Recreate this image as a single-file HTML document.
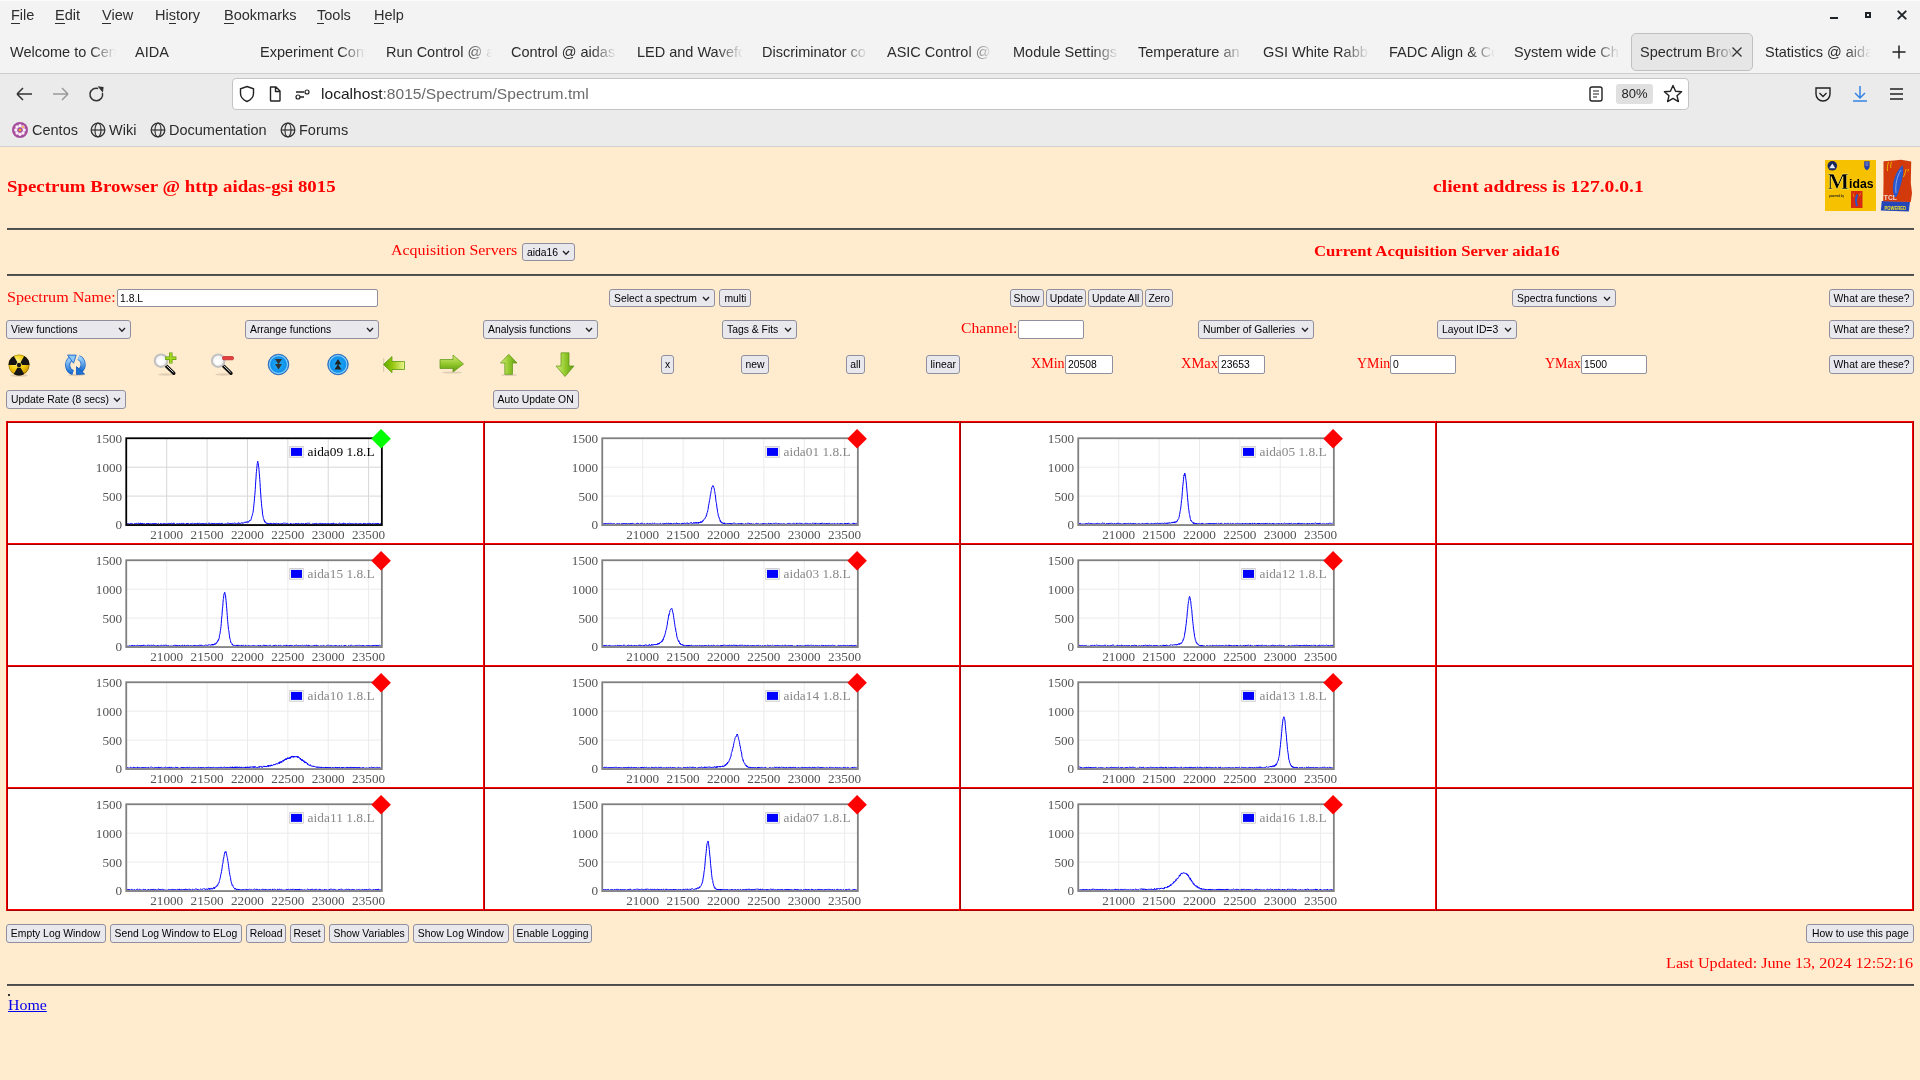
<!DOCTYPE html><html><head><meta charset="utf-8"><style>
*{margin:0;padding:0;box-sizing:border-box}
html,body{width:1920px;height:1080px;overflow:hidden;background:#ffebcd;font-family:"Liberation Sans", sans-serif}
.a{position:absolute;white-space:nowrap}
.chrome{position:absolute;left:0;top:0;width:1920px;height:147px;background:#ebebeb}
.menu{position:absolute;top:0;left:0;width:1920px;height:74px;background:#f3f3f3;border-bottom:1px solid #cdcdcd}
.mi{position:absolute;top:5px;font-size:14.5px;color:#2e2e2e;line-height:20px}
.mi u{text-decoration:none;border-bottom:1px solid #2e2e2e}
.tab{position:absolute;top:42px;font-size:14.5px;color:#2b2b2b;line-height:20px;overflow:hidden}
.fade{-webkit-mask-image:linear-gradient(to right,#000 0,#000 calc(100% - 26px),transparent 100%)}
.btn{position:absolute;background:#e9e9ed;border:1px solid #8f8f9d;border-radius:3px;font-size:10.6px;color:#000;text-align:center;line-height:15px;white-space:nowrap}
.sel{position:absolute;background:#e9e9ed;border:1px solid #8f8f9d;border-radius:3px;font-size:10.6px;color:#000;line-height:16px;padding-left:4px;white-space:nowrap}
.sel svg{position:absolute;right:5px;top:5px}
.inp{position:absolute;background:#fff;border:1px solid #8f8f9d;border-radius:2px;font-size:10.6px;color:#000;line-height:15px;padding-left:2px;white-space:nowrap}
.red{position:absolute;color:#f00;font-family:"Liberation Serif", serif;white-space:nowrap}
.hr{position:absolute;left:7px;width:1907px;height:2px;background:#555;border-top:1px solid #4a4a4a}
.lbl{position:absolute;font-family:"Liberation Serif", serif;font-size:11.5px;color:#545454;line-height:12px;white-space:nowrap}
</style></head><body><div style="position:absolute;left:0;top:0;width:1920px;height:1080px;will-change:transform">
<div class="chrome"></div><div class="menu"></div><div class="a" style="left:0;top:0;width:1920px;height:1px;background:#fbfbfb"></div>
<div class="mi a" style="left:11px"><u>F</u>ile</div>
<div class="mi a" style="left:55px"><u>E</u>dit</div>
<div class="mi a" style="left:102px"><u>V</u>iew</div>
<div class="mi a" style="left:155px">Hi<u>s</u>tory</div>
<div class="mi a" style="left:224px"><u>B</u>ookmarks</div>
<div class="mi a" style="left:317px"><u>T</u>ools</div>
<div class="mi a" style="left:374px"><u>H</u>elp</div>
<svg class="a" style="left:1826px;top:8px" width="90" height="16"><rect x="4" y="9" width="8" height="2" fill="#1e2326"/><rect x="40" y="5" width="4" height="4" fill="none" stroke="#1e2326" stroke-width="2"/><path d="M72.3 3.3 L79.7 10.7 M79.7 3.3 L72.3 10.7" stroke="#1e2326" stroke-width="1.9" stroke-linecap="round"/></svg>
<div class="tab a fade" style="left:10px;width:106px">Welcome to Cen</div>
<div class="tab a fade" style="left:135px;width:60px">AIDA</div>
<div class="tab a fade" style="left:260px;width:106px">Experiment Cont</div>
<div class="tab a fade" style="left:386px;width:106px">Run Control @ a</div>
<div class="tab a fade" style="left:511px;width:106px">Control @ aidas</div>
<div class="tab a fade" style="left:637px;width:106px">LED and Wavefo</div>
<div class="tab a fade" style="left:762px;width:106px">Discriminator co</div>
<div class="tab a fade" style="left:887px;width:106px">ASIC Control @</div>
<div class="tab a fade" style="left:1013px;width:106px">Module Settings</div>
<div class="tab a fade" style="left:1138px;width:106px">Temperature an</div>
<div class="tab a fade" style="left:1263px;width:106px">GSI White Rabbi</div>
<div class="tab a fade" style="left:1389px;width:106px">FADC Align & Co</div>
<div class="tab a fade" style="left:1514px;width:106px">System wide Ch</div>
<div class="tab a fade" style="left:1765px;width:106px">Statistics @ aida</div>
<div class="a" style="left:1631px;top:33px;width:122px;height:38px;background:#e6e6e6;border:1px solid #c0c0c0;border-radius:5px"></div>
<div class="tab a fade" style="left:1640px;width:95px">Spectrum Brow</div>
<svg class="a" style="left:1731px;top:46px" width="12" height="12"><path d="M1.5 1.5 L10.5 10.5 M10.5 1.5 L1.5 10.5" stroke="#333" stroke-width="1.3"/></svg>
<svg class="a" style="left:1891px;top:44px" width="16" height="16"><path d="M8 1.5 V14.5 M1.5 8 H14.5" stroke="#222" stroke-width="1.5"/></svg>
<svg class="a" style="left:14px;top:84px" width="100" height="20"><path d="M3 10 H18 M3 10 L9 4 M3 10 L9 16" stroke="#333" stroke-width="1.5" fill="none"/><path d="M39 10 H54 M54 10 L48 4 M54 10 L48 16" stroke="#9a9a9a" stroke-width="1.5" fill="none"/><path d="M88.4 9 A6.3 6.3 0 1 1 84.2 4.5" stroke="#333" stroke-width="1.5" fill="none"/><path d="M83.6 2.2 L89.6 3 L88.9 8.8 Z" fill="#333"/></svg>
<div class="a" style="left:232px;top:78px;width:1457px;height:32px;background:#fff;border:1px solid #c4c4c4;border-radius:4px"></div>
<svg class="a" style="left:238px;top:84px" width="80" height="20"><path d="M9 2.5 L15.5 4.8 V9.5 C15.5 13.5 12.5 16 9 17.5 C5.5 16 2.5 13.5 2.5 9.5 V4.8 Z" stroke="#222" stroke-width="1.4" fill="none"/><path d="M32.5 3 H38 L42 7 V16.2 Q42 17 41.2 17 H33.3 Q32.5 17 32.5 16.2 Z M37.5 3 V7.5 H42" stroke="#222" stroke-width="1.4" fill="none" stroke-linejoin="round"/><path d="M58 8 H66 M58 13 H66" stroke="#222" stroke-width="1.3"/><circle cx="69" cy="8" r="2" stroke="#222" stroke-width="1.2" fill="none"/><circle cx="60" cy="13" r="2" stroke="#222" stroke-width="1.2" fill="#fff"/></svg>
<div class="a" style="left:321px;top:84px;font-size:15px;line-height:20px;color:#1a1a1a;transform:scaleX(1.039);transform-origin:0 0">localhost<span style="color:#6a6a6a">:8015/Spectrum/Spectrum.tml</span></div>
<svg class="a" style="left:1586px;top:84px" width="20" height="20"><rect x="4" y="3" width="12" height="14" rx="2" stroke="#222" stroke-width="1.4" fill="none"/><path d="M7 7 H13 M7 10 H13 M7 13 H11" stroke="#222" stroke-width="1.2"/></svg>
<div class="a" style="left:1616px;top:84px;width:37px;height:20px;background:#e0e0e0;border-radius:3px;font-size:13px;line-height:20px;text-align:center;color:#222">80%</div>
<svg class="a" style="left:1662px;top:83px" width="22" height="22"><path d="M11 2.5 L13.6 8.2 L19.6 8.7 L15 12.7 L16.4 18.6 L11 15.4 L5.6 18.6 L7 12.7 L2.4 8.7 L8.4 8.2 Z" stroke="#222" stroke-width="1.4" fill="none" stroke-linejoin="round"/></svg>
<svg class="a" style="left:1812px;top:84px" width="100" height="20"><path d="M4 4 H18 V10 C18 14 15 17 11 17 C7 17 4 14 4 10 Z" stroke="#222" stroke-width="1.4" fill="none"/><path d="M7.5 9 L11 12.5 L14.5 9" stroke="#222" stroke-width="1.4" fill="none"/><path d="M48 2 V14 M43 9 L48 14 L53 9 M41 17 H55" stroke="#3584e4" stroke-width="1.5" fill="none"/><path d="M78 5 H91 M78 10 H91 M78 15 H91" stroke="#222" stroke-width="1.5"/></svg>
<svg class="a" style="left:11.8px;top:121.8px" width="16" height="16"><circle cx="8" cy="8" r="8" fill="#a54c9d"/><circle cx="12.20" cy="8.00" r="1.7" fill="#fbeefa"/><circle cx="10.97" cy="10.97" r="1.7" fill="#fbeefa"/><circle cx="8.00" cy="12.20" r="1.7" fill="#fbeefa"/><circle cx="5.03" cy="10.97" r="1.7" fill="#fbeefa"/><circle cx="3.80" cy="8.00" r="1.7" fill="#fbeefa"/><circle cx="5.03" cy="5.03" r="1.7" fill="#fbeefa"/><circle cx="8.00" cy="3.80" r="1.7" fill="#fbeefa"/><circle cx="10.97" cy="5.03" r="1.7" fill="#fbeefa"/><circle cx="8" cy="8" r="2.3" fill="#a54c9d"/><circle cx="8" cy="8" r="1.3" fill="#f5a623"/><circle cx="11" cy="5" r="1" fill="#f5a623"/></svg>
<div class="a" style="left:32px;top:120px;font-size:14.5px;line-height:20px;color:#2b2b2b">Centos</div>
<svg class="a" style="left:90px;top:122px" width="16" height="16"><circle cx="8" cy="8" r="6.8" stroke="#333" stroke-width="1.3" fill="none"/><ellipse cx="8" cy="8" rx="3" ry="6.8" stroke="#333" stroke-width="1.2" fill="none"/><path d="M1.2 8 H14.8" stroke="#333" stroke-width="1.2"/></svg>
<div class="a" style="left:109px;top:120px;font-size:14.5px;line-height:20px;color:#2b2b2b">Wiki</div>
<svg class="a" style="left:150px;top:122px" width="16" height="16"><circle cx="8" cy="8" r="6.8" stroke="#333" stroke-width="1.3" fill="none"/><ellipse cx="8" cy="8" rx="3" ry="6.8" stroke="#333" stroke-width="1.2" fill="none"/><path d="M1.2 8 H14.8" stroke="#333" stroke-width="1.2"/></svg>
<div class="a" style="left:169px;top:120px;font-size:14.5px;line-height:20px;color:#2b2b2b">Documentation</div>
<svg class="a" style="left:280px;top:122px" width="16" height="16"><circle cx="8" cy="8" r="6.8" stroke="#333" stroke-width="1.3" fill="none"/><ellipse cx="8" cy="8" rx="3" ry="6.8" stroke="#333" stroke-width="1.2" fill="none"/><path d="M1.2 8 H14.8" stroke="#333" stroke-width="1.2"/></svg>
<div class="a" style="left:299px;top:120px;font-size:14.5px;line-height:20px;color:#2b2b2b">Forums</div>
<div class="a" style="left:0;top:146px;width:1920px;height:1px;background:#d0d0d0"></div>
<div class="a" style="left:7.00px;top:179.00px;font-family:'Liberation Serif',serif;font-weight:bold;font-size:16.8px;line-height:16.8px;color:#ff0000;transform:scaleX(1.1241);transform-origin:0 0;">Spectrum Browser @ http aidas-gsi 8015</div>
<div class="a" style="left:1433.30px;top:179.00px;font-family:'Liberation Serif',serif;font-weight:bold;font-size:16.8px;line-height:16.8px;color:#ff0000;transform:scaleX(1.1673);transform-origin:0 0;">client address is 127.0.0.1</div>
<svg class="a" style="left:1825px;top:160px" width="51" height="51">
<rect x="0" y="0" width="51" height="51" fill="#f6c200"/>
<circle cx="7.3" cy="5.8" r="4.8" fill="#1a2860"/><path d="M4.3 8.2 L7.3 3.6 L10.3 8.2 Z" fill="#e8eef8"/>
<path d="M39.2 1.2 H44.6 V6.2 C44.6 8.4 42.8 9.8 41.9 10.2 C41 9.8 39.2 8.4 39.2 6.2 Z" fill="#2840a8"/><path d="M40.5 3 H43.3 M40.5 5 H43.3" stroke="#dde" stroke-width="0.6"/>
<text x="2.2" y="28.5" font-family="Liberation Serif" font-weight="bold" font-size="22.5" fill="#000" textLength="22" lengthAdjust="spacingAndGlyphs" stroke="#fff27a" stroke-width="0.4">M</text>
<text x="24" y="28" font-family="Liberation Sans" font-weight="bold" font-size="13" fill="#000" textLength="24.5" lengthAdjust="spacingAndGlyphs">idas</text>
<text x="4" y="36.5" font-family="Liberation Sans" font-weight="bold" font-size="3.6" fill="#222" textLength="15" lengthAdjust="spacingAndGlyphs">powered by</text>
<rect x="26" y="31" width="11.5" height="17" fill="#d42a10"/><path d="M32.5 34.5 C30.5 38 31 43 32 46" stroke="#2855c8" stroke-width="2" fill="none"/><path d="M28 33.5 L29 37 M35.5 33 L34.5 36" stroke="#f0c000" stroke-width="0.6"/>
</svg>
<svg class="a" style="left:1880px;top:159px" width="34" height="54">
<path d="M1.8 42 L30 42.6 L28.8 52.5 L0.8 51.5 Z" fill="#2446b8"/>
<path d="M3.5 2.2 L14 1.5 L21 0.8 L31.2 2.6 L30.8 24 L32 34 L30.8 43 L3.2 42.2 L3.5 24 Z" fill="#d23a0c"/>
<path d="M14.5 38 C11 30 12.5 16 22.5 6 C25 13 21 27 16.5 38 Z" fill="#2a58cc"/><path d="M16 34 C15 26 17 17 21 11" stroke="#c8d8ff" stroke-width="0.6" fill="none"/>
<path d="M8.5 3 C7.5 6 7 9 7.5 12 M11.5 2.8 C10.8 5 10.5 7 10.8 9 M26 10 C25.5 13 24.5 16 23.5 18 M28.5 10 L27.8 12.5" stroke="#f0b400" stroke-width="1" fill="none"/>
<text x="3.8" y="41.2" font-family="Liberation Sans" font-weight="bold" font-size="6.4" fill="#f4dcd4" textLength="13" lengthAdjust="spacingAndGlyphs">TCL</text>
<text x="4.5" y="50.6" font-family="Liberation Sans" font-weight="bold" font-size="5.2" fill="#f2e020" textLength="21.5" lengthAdjust="spacingAndGlyphs">POWERED</text>
</svg>
<div class="hr" style="top:228px"></div>
<div class="a" style="left:391.20px;top:242.00px;font-family:'Liberation Serif',serif;font-size:15.2px;line-height:15.2px;color:#ff0000;transform:scaleX(1.0497);transform-origin:0 0;">Acquisition Servers</div>
<div class="sel" style="left:522px;top:243px;width:53px;height:18px;line-height:16px;font-size:10.8px"><span style="display:inline-block;transform:scaleX(0.96);transform-origin:0 0">aida16</span><svg width="8" height="6" style="position:absolute;right:4px;top:6px"><path d="M1 1 L4 4.3 L7 1" stroke="#222" stroke-width="1.3" fill="none"/></svg></div>
<div class="a" style="left:1314.00px;top:244.00px;font-family:'Liberation Serif',serif;font-weight:bold;font-size:15.0px;line-height:15.0px;color:#ff0000;transform:scaleX(1.1128);transform-origin:0 0;">Current Acquisition Server aida16</div>
<div class="hr" style="top:274px"></div>
<div class="a" style="left:7.00px;top:289.00px;font-family:'Liberation Serif',serif;font-size:15.2px;line-height:15.2px;color:#ff0000;transform:scaleX(1.0598);transform-origin:0 0;">Spectrum Name:</div>
<div class="inp" style="left:117px;top:289px;width:261px;height:18px;line-height:16px;font-size:10.8px"><span style="display:inline-block;transform:scaleX(0.96);transform-origin:0 0">1.8.L</span></div>
<div class="sel" style="left:609px;top:289px;width:106px;height:18px;line-height:16px;font-size:10.8px"><span style="display:inline-block;transform:scaleX(0.96);transform-origin:0 0">Select a spectrum</span><svg width="8" height="6" style="position:absolute;right:4px;top:6px"><path d="M1 1 L4 4.3 L7 1" stroke="#222" stroke-width="1.3" fill="none"/></svg></div>
<div class="btn" style="left:719px;top:289px;width:32px;height:18px;line-height:16px;font-size:10.8px"><span style="display:inline-block;transform:scaleX(0.96)">multi</span></div>
<div class="btn" style="left:1010px;top:289px;width:34px;height:18px;line-height:16px;font-size:10.8px"><span style="display:inline-block;transform:scaleX(0.96)">Show</span></div>
<div class="btn" style="left:1046px;top:289px;width:40px;height:18px;line-height:16px;font-size:10.8px"><span style="display:inline-block;transform:scaleX(0.96)">Update</span></div>
<div class="btn" style="left:1088px;top:289px;width:55px;height:18px;line-height:16px;font-size:10.8px"><span style="display:inline-block;transform:scaleX(0.96)">Update All</span></div>
<div class="btn" style="left:1145px;top:289px;width:28px;height:18px;line-height:16px;font-size:10.8px"><span style="display:inline-block;transform:scaleX(0.96)">Zero</span></div>
<div class="sel" style="left:1512px;top:289px;width:104px;height:18px;line-height:16px;font-size:10.8px"><span style="display:inline-block;transform:scaleX(0.96);transform-origin:0 0">Spectra functions</span><svg width="8" height="6" style="position:absolute;right:4px;top:6px"><path d="M1 1 L4 4.3 L7 1" stroke="#222" stroke-width="1.3" fill="none"/></svg></div>
<div class="btn" style="left:1829px;top:289px;width:85px;height:18px;line-height:16px;font-size:10.8px"><span style="display:inline-block;transform:scaleX(0.96)">What are these?</span></div>
<div class="sel" style="left:6px;top:320px;width:125px;height:19px;line-height:17px;font-size:10.8px"><span style="display:inline-block;transform:scaleX(0.96);transform-origin:0 0">View functions</span><svg width="8" height="6" style="position:absolute;right:4px;top:6px"><path d="M1 1 L4 4.3 L7 1" stroke="#222" stroke-width="1.3" fill="none"/></svg></div>
<div class="sel" style="left:245px;top:320px;width:134px;height:19px;line-height:17px;font-size:10.8px"><span style="display:inline-block;transform:scaleX(0.96);transform-origin:0 0">Arrange functions</span><svg width="8" height="6" style="position:absolute;right:4px;top:6px"><path d="M1 1 L4 4.3 L7 1" stroke="#222" stroke-width="1.3" fill="none"/></svg></div>
<div class="sel" style="left:483px;top:320px;width:115px;height:19px;line-height:17px;font-size:10.8px"><span style="display:inline-block;transform:scaleX(0.96);transform-origin:0 0">Analysis functions</span><svg width="8" height="6" style="position:absolute;right:4px;top:6px"><path d="M1 1 L4 4.3 L7 1" stroke="#222" stroke-width="1.3" fill="none"/></svg></div>
<div class="sel" style="left:722px;top:320px;width:75px;height:19px;line-height:17px;font-size:10.8px"><span style="display:inline-block;transform:scaleX(0.96);transform-origin:0 0">Tags &amp; Fits</span><svg width="8" height="6" style="position:absolute;right:4px;top:6px"><path d="M1 1 L4 4.3 L7 1" stroke="#222" stroke-width="1.3" fill="none"/></svg></div>
<div class="a" style="left:960.60px;top:320.00px;font-family:'Liberation Serif',serif;font-size:15.2px;line-height:15.2px;color:#ff0000;transform:scaleX(1.0296);transform-origin:0 0;">Channel:</div>
<div class="inp" style="left:1018px;top:320px;width:66px;height:19px;line-height:17px;font-size:10.8px"><span style="display:inline-block;transform:scaleX(0.96);transform-origin:0 0"></span></div>
<div class="sel" style="left:1198px;top:320px;width:116px;height:19px;line-height:17px;font-size:10.8px"><span style="display:inline-block;transform:scaleX(0.96);transform-origin:0 0">Number of Galleries</span><svg width="8" height="6" style="position:absolute;right:4px;top:6px"><path d="M1 1 L4 4.3 L7 1" stroke="#222" stroke-width="1.3" fill="none"/></svg></div>
<div class="sel" style="left:1437px;top:320px;width:80px;height:19px;line-height:17px;font-size:10.8px"><span style="display:inline-block;transform:scaleX(0.96);transform-origin:0 0">Layout ID=3</span><svg width="8" height="6" style="position:absolute;right:4px;top:6px"><path d="M1 1 L4 4.3 L7 1" stroke="#222" stroke-width="1.3" fill="none"/></svg></div>
<div class="btn" style="left:1829px;top:320px;width:85px;height:19px;line-height:17px;font-size:10.8px"><span style="display:inline-block;transform:scaleX(0.96)">What are these?</span></div>
<svg class="a" style="left:0;top:340px" width="600" height="50">
<defs>
<radialGradient id="yel" cx="0.4" cy="0.35" r="0.7"><stop offset="0" stop-color="#fff6a0"/><stop offset="0.5" stop-color="#f7cf10"/><stop offset="1" stop-color="#c89000"/></radialGradient>
<radialGradient id="blu" cx="0.5" cy="0.5" r="0.5"><stop offset="0" stop-color="#20b0fa"/><stop offset="0.75" stop-color="#1090ea"/><stop offset="0.86" stop-color="#8ad4ff"/><stop offset="1" stop-color="#0a5cc0"/></radialGradient>
<linearGradient id="grn" x1="0" y1="0" x2="0" y2="1"><stop offset="0" stop-color="#d6ef7a"/><stop offset="0.55" stop-color="#8fc629"/><stop offset="1" stop-color="#5e9a12"/></linearGradient>
<linearGradient id="grnh" x1="0" y1="0" x2="1" y2="0"><stop offset="0" stop-color="#d6ef7a"/><stop offset="0.55" stop-color="#8fc629"/><stop offset="1" stop-color="#5e9a12"/></linearGradient>
<linearGradient id="grnL" x1="0" y1="0" x2="1" y2="0"><stop offset="0" stop-color="#5aa800"/><stop offset="0.45" stop-color="#98c810"/><stop offset="1" stop-color="#eef590"/></linearGradient>
<linearGradient id="bl2" x1="0" y1="0" x2="0" y2="1"><stop offset="0" stop-color="#9fd4ff"/><stop offset="1" stop-color="#1d6fd0"/></linearGradient>
</defs>
<ellipse cx="19" cy="35.5" rx="9" ry="1.3" fill="#000" opacity="0.12"/>
<circle cx="19" cy="25" r="10.5" fill="url(#yel)"/>
<path d="M22.20 25.00 L29.50 25.00 A10.5 10.5 0 0 0 24.25 15.91 L20.60 22.23 Z" fill="#151515"/>
<path d="M17.40 22.23 L13.75 15.91 A10.5 10.5 0 0 0 8.50 25.00 L15.80 25.00 Z" fill="#151515"/>
<path d="M17.40 27.77 L13.75 34.09 A10.5 10.5 0 0 0 24.25 34.09 L20.60 27.77 Z" fill="#151515"/>
<circle cx="19" cy="25" r="2.2" fill="#151515"/>
<circle cx="19" cy="25" r="10.1" fill="none" stroke="#000" stroke-opacity="0.3" stroke-width="0.8"/>
<ellipse cx="76" cy="35" rx="8" ry="1.2" fill="#000" opacity="0.12"/>
<path d="M73 32.5 A7.8 7.8 0 0 1 70.5 19" fill="none" stroke="#1c64c8" stroke-width="5"/>
<path d="M73 32.5 A7.8 7.8 0 0 1 70.5 19" fill="none" stroke="url(#bl2)" stroke-width="3.6"/>
<path d="M67.6 15.1 L76.2 15.1 L73.5 23.2 Z" fill="#8cc8f4" stroke="#1c64c8" stroke-width="0.9" stroke-linejoin="round"/>
<path d="M78.5 17.5 A7.8 7.8 0 0 1 80.5 30.5" fill="none" stroke="#1c64c8" stroke-width="5"/>
<path d="M78.5 17.5 A7.8 7.8 0 0 1 80.5 30.5" fill="none" stroke="url(#bl2)" stroke-width="3.6"/>
<path d="M76.5 26.6 L76.5 34.4 L84.6 34.1 Z" fill="#1a74d8" stroke="#1c5ab8" stroke-width="0.9" stroke-linejoin="round"/>
<ellipse cx="166" cy="34.5" rx="8" ry="1.2" fill="#000" opacity="0.12"/>
<line x1="166.3" y1="26.0" x2="173.8" y2="33.3" stroke="#111" stroke-width="3.4" stroke-linecap="round"/>
<line x1="166.6" y1="25.7" x2="173.4" y2="32.3" stroke="#e0e0e0" stroke-width="1"/>
<circle cx="161" cy="20.7" r="6.2" fill="#f6f6f6" stroke="#c2c2c2" stroke-width="2.1"/>
<circle cx="160.5" cy="21.7" r="3.2" fill="#fff"/>
<path d="M170.8 12.399999999999999 V23.599999999999998 M165.2 18.2 H176.4" stroke="#5a9a10" stroke-width="3.4"/>
<path d="M170.8 13.1 V22.9 M165.9 18.2 H175.7" stroke="#a8d820" stroke-width="1.9"/>
<ellipse cx="223.2" cy="34.5" rx="8" ry="1.2" fill="#000" opacity="0.12"/>
<line x1="223.5" y1="26.0" x2="231.0" y2="33.3" stroke="#111" stroke-width="3.4" stroke-linecap="round"/>
<line x1="223.79999999999998" y1="25.7" x2="230.6" y2="32.3" stroke="#e0e0e0" stroke-width="1"/>
<circle cx="218.2" cy="20.7" r="6.2" fill="#f6f6f6" stroke="#c2c2c2" stroke-width="2.1"/>
<circle cx="217.7" cy="21.7" r="3.2" fill="#fff"/>
<rect x="222.5" y="16.6" width="11" height="3.2" rx="1.2" fill="#e84040" stroke="#b82020" stroke-width="0.7"/>
<circle cx="278.5" cy="24.5" r="10.3" fill="url(#blu)" stroke="#0b58b8" stroke-width="0.7"/>
<path d="M275.0 19 H282.0 L278.5 24.5 Z M275.0 24 H282.0 L278.5 29.5 Z" fill="#333"/>
<circle cx="338" cy="24.5" r="10.3" fill="url(#blu)" stroke="#0b58b8" stroke-width="0.7"/>
<path d="M334.5 24.5 H341.5 L338 19 Z M334.5 29.5 H341.5 L338 24 Z" fill="#222"/>
<rect x="383" y="18" width="1.2" height="14" fill="#000" opacity="0.12"/>
<path d="M383.5 24.5 L392 16.5 V21.5 H404.5 V29.5 H392 V32.8 Z" fill="url(#grnL)" stroke="#5a9a10" stroke-width="0.8"/>
<ellipse cx="452" cy="32.5" rx="10" ry="1" fill="#000" opacity="0.12"/>
<path d="M463.5 24 L453 15 V19.5 H440 V28.5 H453 V32 Z" fill="url(#grn)" stroke="#5a9410" stroke-width="0.7"/>
<ellipse cx="509" cy="35" rx="8" ry="1" fill="#000" opacity="0.12"/>
<path d="M508.7 14.3 L517 23 H512.5 V34.3 H504.8 V23 H500.5 Z" fill="url(#grnh)" stroke="#5a9410" stroke-width="0.7"/>
<path d="M565 36.5 L574 26 H569 V12.8 H561 V26 H556 Z" fill="url(#grnh)" stroke="#5a9410" stroke-width="0.7"/>
</svg>
<div class="btn" style="left:661px;top:355px;width:13px;height:19px;line-height:17px;font-size:10.8px"><span style="display:inline-block;transform:scaleX(0.96)">x</span></div>
<div class="btn" style="left:741px;top:355px;width:28px;height:19px;line-height:17px;font-size:10.8px"><span style="display:inline-block;transform:scaleX(0.96)">new</span></div>
<div class="btn" style="left:846px;top:355px;width:19px;height:19px;line-height:17px;font-size:10.8px"><span style="display:inline-block;transform:scaleX(0.96)">all</span></div>
<div class="btn" style="left:926px;top:355px;width:34px;height:19px;line-height:17px;font-size:10.8px"><span style="display:inline-block;transform:scaleX(0.96)">linear</span></div>
<div class="a" style="left:1031.00px;top:356.00px;font-family:'Liberation Serif',serif;font-size:14.3px;line-height:14.3px;color:#ff0000;transform:scaleX(0.9835);transform-origin:0 0;">XMin</div>
<div class="inp" style="left:1065px;top:355px;width:48px;height:19px;line-height:17px;font-size:10.8px"><span style="display:inline-block;transform:scaleX(0.96);transform-origin:0 0">20508</span></div>
<div class="a" style="left:1180.80px;top:356.00px;font-family:'Liberation Serif',serif;font-size:14.3px;line-height:14.3px;color:#ff0000;transform:scaleX(1.0126);transform-origin:0 0;">XMax</div>
<div class="inp" style="left:1218px;top:355px;width:47px;height:19px;line-height:17px;font-size:10.8px"><span style="display:inline-block;transform:scaleX(0.96);transform-origin:0 0">23653</span></div>
<div class="a" style="left:1356.80px;top:356.00px;font-family:'Liberation Serif',serif;font-size:14.3px;line-height:14.3px;color:#ff0000;transform:scaleX(0.9718);transform-origin:0 0;">YMin</div>
<div class="inp" style="left:1390px;top:355px;width:66px;height:19px;line-height:17px;font-size:10.8px"><span style="display:inline-block;transform:scaleX(0.96);transform-origin:0 0">0</span></div>
<div class="a" style="left:1545.00px;top:356.00px;font-family:'Liberation Serif',serif;font-size:14.3px;line-height:14.3px;color:#ff0000;transform:scaleX(0.9798);transform-origin:0 0;">YMax</div>
<div class="inp" style="left:1581px;top:355px;width:66px;height:19px;line-height:17px;font-size:10.8px"><span style="display:inline-block;transform:scaleX(0.96);transform-origin:0 0">1500</span></div>
<div class="btn" style="left:1829px;top:355px;width:85px;height:19px;line-height:17px;font-size:10.8px"><span style="display:inline-block;transform:scaleX(0.96)">What are these?</span></div>
<div class="sel" style="left:6px;top:390px;width:120px;height:19px;line-height:17px;font-size:10.8px"><span style="display:inline-block;transform:scaleX(0.96);transform-origin:0 0">Update Rate (8 secs)</span><svg width="8" height="6" style="position:absolute;right:4px;top:6px"><path d="M1 1 L4 4.3 L7 1" stroke="#222" stroke-width="1.3" fill="none"/></svg></div>
<div class="btn" style="left:493px;top:390px;width:86px;height:19px;line-height:17px;font-size:10.8px"><span style="display:inline-block;transform:scaleX(0.96)">Auto Update ON</span></div>
<svg class="a" style="left:0;top:0" width="1920" height="1080">
<rect x="6" y="421" width="1908" height="490" fill="#fff"/>
<rect x="6" y="421" width="1908" height="1" fill="#ff0000"/><rect x="6" y="422" width="1908" height="1" fill="#a80000"/>
<rect x="6" y="543" width="1908" height="1" fill="#ff0000"/><rect x="6" y="544" width="1908" height="1" fill="#a80000"/>
<rect x="6" y="665" width="1908" height="1" fill="#ff0000"/><rect x="6" y="666" width="1908" height="1" fill="#a80000"/>
<rect x="6" y="787" width="1908" height="1" fill="#ff0000"/><rect x="6" y="788" width="1908" height="1" fill="#a80000"/>
<rect x="6" y="909" width="1908" height="1" fill="#ff0000"/><rect x="6" y="910" width="1908" height="1" fill="#a80000"/>
<rect x="6" y="421" width="1" height="490" fill="#ff0000"/><rect x="7" y="421" width="1" height="490" fill="#a80000"/>
<rect x="483" y="421" width="1" height="490" fill="#ff0000"/><rect x="484" y="421" width="1" height="490" fill="#a80000"/>
<rect x="959" y="421" width="1" height="490" fill="#ff0000"/><rect x="960" y="421" width="1" height="490" fill="#a80000"/>
<rect x="1435" y="421" width="1" height="490" fill="#ff0000"/><rect x="1436" y="421" width="1" height="490" fill="#a80000"/>
<rect x="1912" y="421" width="1" height="490" fill="#ff0000"/><rect x="1913" y="421" width="1" height="490" fill="#a80000"/>
<rect x="166.20" y="438.4" width="1" height="86.6" fill="#d8d8d8"/>
<text x="166.70" y="538.6" text-anchor="middle" font-family="Liberation Serif" font-size="12.2" fill="#545454" textLength="33" lengthAdjust="spacingAndGlyphs">21000</text>
<rect x="206.58" y="438.4" width="1" height="86.6" fill="#d8d8d8"/>
<text x="207.08" y="538.6" text-anchor="middle" font-family="Liberation Serif" font-size="12.2" fill="#545454" textLength="33" lengthAdjust="spacingAndGlyphs">21500</text>
<rect x="246.96" y="438.4" width="1" height="86.6" fill="#d8d8d8"/>
<text x="247.46" y="538.6" text-anchor="middle" font-family="Liberation Serif" font-size="12.2" fill="#545454" textLength="33" lengthAdjust="spacingAndGlyphs">22000</text>
<rect x="287.34" y="438.4" width="1" height="86.6" fill="#d8d8d8"/>
<text x="287.84" y="538.6" text-anchor="middle" font-family="Liberation Serif" font-size="12.2" fill="#545454" textLength="33" lengthAdjust="spacingAndGlyphs">22500</text>
<rect x="327.72" y="438.4" width="1" height="86.6" fill="#d8d8d8"/>
<text x="328.22" y="538.6" text-anchor="middle" font-family="Liberation Serif" font-size="12.2" fill="#545454" textLength="33" lengthAdjust="spacingAndGlyphs">23000</text>
<rect x="368.10" y="438.4" width="1" height="86.6" fill="#d8d8d8"/>
<text x="368.60" y="538.6" text-anchor="middle" font-family="Liberation Serif" font-size="12.2" fill="#545454" textLength="33" lengthAdjust="spacingAndGlyphs">23500</text>
<text x="122.2" y="529.4" text-anchor="end" font-family="Liberation Serif" font-size="12.2" fill="#545454" textLength="6.6" lengthAdjust="spacingAndGlyphs">0</text>
<rect x="127" y="495.60" width="254" height="1" fill="#d8d8d8"/>
<text x="122.2" y="500.5" text-anchor="end" font-family="Liberation Serif" font-size="12.2" fill="#545454" textLength="19.8" lengthAdjust="spacingAndGlyphs">500</text>
<rect x="127" y="466.70" width="254" height="1" fill="#d8d8d8"/>
<text x="122.2" y="471.6" text-anchor="end" font-family="Liberation Serif" font-size="12.2" fill="#545454" textLength="26.4" lengthAdjust="spacingAndGlyphs">1000</text>
<text x="122.2" y="442.7" text-anchor="end" font-family="Liberation Serif" font-size="12.2" fill="#545454" textLength="26.4" lengthAdjust="spacingAndGlyphs">1500</text>
<polyline points="127.00,523.77 127.50,523.11 128.00,523.69 128.50,524.14 129.00,523.52 129.50,524.27 130.00,524.27 130.50,523.43 131.00,523.02 131.50,523.48 132.00,524.18 132.50,523.66 133.00,524.13 133.50,524.36 134.00,523.78 134.50,523.67 135.00,523.70 135.50,523.76 136.00,523.00 136.50,523.22 137.00,523.96 137.50,524.00 138.00,523.33 138.50,523.21 139.00,523.06 139.50,524.40 140.00,523.13 140.50,523.03 141.00,524.30 141.50,523.31 142.00,524.28 142.50,523.05 143.00,524.23 143.50,524.26 144.00,523.28 144.50,523.62 145.00,524.13 145.50,524.22 146.00,524.24 146.50,524.10 147.00,523.04 147.50,523.97 148.00,524.11 148.50,523.20 149.00,524.26 149.50,524.10 150.00,523.32 150.50,523.99 151.00,524.27 151.50,524.06 152.00,523.88 152.50,523.06 153.00,523.60 153.50,524.14 154.00,523.13 154.50,524.05 155.00,523.36 155.50,524.12 156.00,523.16 156.50,523.81 157.00,524.35 157.50,524.07 158.00,524.04 158.50,523.56 159.00,524.15 159.50,524.30 160.00,523.62 160.50,523.54 161.00,523.12 161.50,524.38 162.00,523.78 162.50,524.15 163.00,523.60 163.50,523.89 164.00,523.03 164.50,523.43 165.00,524.20 165.50,524.37 166.00,523.42 166.50,524.37 167.00,523.72 167.50,523.95 168.00,524.29 168.50,523.37 169.00,523.37 169.50,523.29 170.00,523.91 170.50,523.14 171.00,523.82 171.50,523.19 172.00,523.53 172.50,523.58 173.00,524.29 173.50,523.01 174.00,523.38 174.50,523.37 175.00,523.78 175.50,524.28 176.00,524.36 176.50,523.73 177.00,523.42 177.50,523.54 178.00,524.04 178.50,523.98 179.00,524.12 179.50,523.13 180.00,523.78 180.50,523.94 181.00,524.12 181.50,523.27 182.00,523.17 182.50,523.58 183.00,524.21 183.50,523.23 184.00,523.40 184.50,524.01 185.00,523.77 185.50,524.10 186.00,523.52 186.50,523.96 187.00,523.02 187.50,524.30 188.00,523.18 188.50,523.41 189.00,523.97 189.50,524.37 190.00,523.76 190.50,523.24 191.00,524.20 191.50,523.52 192.00,523.52 192.50,523.27 193.00,523.44 193.50,523.73 194.00,524.38 194.50,523.40 195.00,524.02 195.50,523.42 196.00,523.54 196.50,523.85 197.00,523.13 197.50,523.09 198.00,524.22 198.50,523.52 199.00,523.87 199.50,523.17 200.00,523.08 200.50,523.49 201.00,523.39 201.50,523.50 202.00,524.10 202.50,523.02 203.00,523.64 203.50,523.95 204.00,523.20 204.50,524.28 205.00,523.63 205.50,523.71 206.00,523.26 206.50,523.28 207.00,523.93 207.50,524.20 208.00,523.67 208.50,523.22 209.00,523.07 209.50,523.06 210.00,524.08 210.50,523.98 211.00,523.50 211.50,523.21 212.00,523.95 212.50,523.20 213.00,524.09 213.50,523.03 214.00,523.58 214.50,523.63 215.00,523.54 215.50,523.02 216.00,523.82 216.50,523.59 217.00,523.41 217.50,523.62 218.00,523.03 218.50,524.00 219.00,524.19 219.50,523.22 220.00,523.70 220.50,524.09 221.00,523.07 221.50,523.27 222.00,524.08 222.50,523.39 223.00,523.85 223.50,524.20 224.00,524.17 224.50,523.99 225.00,523.59 225.50,523.80 226.00,523.58 226.50,524.03 227.00,523.42 227.50,523.11 228.00,523.10 228.50,523.25 229.00,523.02 229.50,523.83 230.00,523.95 230.50,523.02 231.00,523.91 231.50,523.88 232.00,523.06 232.50,523.11 233.00,523.63 233.50,524.16 234.00,523.20 234.50,522.81 235.00,523.42 235.50,523.40 236.00,523.84 236.50,523.94 237.00,523.27 237.50,523.24 238.00,523.75 238.50,522.76 239.00,522.66 239.50,523.79 240.00,523.20 240.50,523.37 241.00,523.07 241.50,522.94 242.00,522.69 242.50,523.40 243.00,522.57 243.50,523.30 244.00,522.81 244.50,522.12 245.00,522.30 245.25,522.43 245.50,522.42 245.75,521.79 246.00,522.74 246.25,522.03 246.50,521.94 246.75,521.69 247.00,521.93 247.25,521.83 247.50,521.88 247.75,522.26 248.00,522.66 248.25,521.62 248.50,522.00 248.75,521.41 249.00,521.22 249.25,521.28 249.50,520.36 249.75,520.51 250.00,520.13 250.25,520.08 250.50,520.38 250.75,520.39 251.00,519.55 251.25,518.74 251.50,517.96 251.75,516.64 252.00,515.73 252.25,515.59 252.50,514.11 252.75,513.42 253.00,512.38 253.25,510.71 253.50,508.77 253.75,505.77 254.00,503.80 254.25,501.79 254.50,498.20 254.75,495.43 255.00,492.95 255.25,489.52 255.50,485.21 255.75,481.10 256.00,478.05 256.25,473.23 256.50,471.39 256.75,468.58 257.00,465.71 257.25,463.64 257.50,462.64 257.75,461.20 258.00,462.74 258.25,463.20 258.50,465.83 258.75,467.43 259.00,469.56 259.25,473.12 259.50,476.17 259.75,479.39 260.00,482.32 260.25,487.31 260.50,491.09 260.75,494.03 261.00,498.42 261.25,500.75 261.50,503.69 261.75,506.61 262.00,508.72 262.25,510.00 262.50,514.05 262.75,514.89 263.00,516.09 263.25,517.38 263.50,518.61 263.75,518.90 264.00,520.00 264.25,520.93 264.50,520.56 264.75,522.18 265.00,521.42 265.25,521.88 265.50,522.63 265.75,522.30 266.00,522.65 266.25,523.31 266.50,522.83 266.75,523.41 267.00,523.94 267.25,524.06 267.50,523.42 267.75,523.30 268.00,523.21 268.25,524.01 268.50,524.22 268.75,523.33 269.00,523.97 269.25,523.87 269.50,523.87 269.75,523.39 270.00,523.10 270.25,523.11 270.50,523.27 270.75,523.95 271.00,523.09 271.50,524.05 272.00,523.89 272.50,523.85 273.00,524.13 273.50,523.28 274.00,523.23 274.50,524.15 275.00,523.17 275.50,524.37 276.00,523.64 276.50,523.05 277.00,523.27 277.50,523.63 278.00,524.28 278.50,523.37 279.00,524.28 279.50,524.20 280.00,523.49 280.50,524.09 281.00,523.67 281.50,523.85 282.00,523.04 282.50,523.71 283.00,523.39 283.50,523.12 284.00,523.24 284.50,523.21 285.00,523.23 285.50,523.06 286.00,523.67 286.50,523.28 287.00,523.81 287.50,523.36 288.00,523.87 288.50,524.11 289.00,523.99 289.50,524.32 290.00,524.24 290.50,523.31 291.00,524.31 291.50,523.58 292.00,524.35 292.50,524.14 293.00,524.07 293.50,523.57 294.00,524.14 294.50,524.16 295.00,523.96 295.50,523.26 296.00,524.04 296.50,523.12 297.00,523.63 297.50,523.72 298.00,524.33 298.50,523.28 299.00,523.66 299.50,524.02 300.00,523.48 300.50,524.38 301.00,523.88 301.50,523.40 302.00,524.18 302.50,523.95 303.00,523.18 303.50,523.51 304.00,524.03 304.50,524.19 305.00,524.40 305.50,523.22 306.00,524.28 306.50,523.40 307.00,523.73 307.50,523.06 308.00,523.20 308.50,523.29 309.00,523.12 309.50,523.24 310.00,523.64 310.50,524.18 311.00,523.96 311.50,524.29 312.00,523.75 312.50,523.90 313.00,524.25 313.50,523.75 314.00,523.24 314.50,524.38 315.00,523.41 315.50,523.61 316.00,524.39 316.50,523.28 317.00,523.54 317.50,523.87 318.00,523.98 318.50,523.85 319.00,524.04 319.50,523.38 320.00,523.08 320.50,523.39 321.00,523.24 321.50,524.20 322.00,523.45 322.50,524.15 323.00,523.23 323.50,524.27 324.00,524.18 324.50,523.83 325.00,523.11 325.50,523.68 326.00,523.33 326.50,523.86 327.00,523.82 327.50,523.84 328.00,523.03 328.50,523.48 329.00,524.37 329.50,523.92 330.00,524.25 330.50,523.69 331.00,523.24 331.50,524.18 332.00,523.14 332.50,523.91 333.00,524.20 333.50,523.02 334.00,523.40 334.50,524.12 335.00,523.52 335.50,524.28 336.00,523.59 336.50,523.94 337.00,523.89 337.50,524.23 338.00,524.21 338.50,523.64 339.00,523.62 339.50,523.13 340.00,523.26 340.50,524.23 341.00,524.00 341.50,524.06 342.00,523.24 342.50,523.63 343.00,524.36 343.50,523.02 344.00,523.48 344.50,523.46 345.00,523.87 345.50,523.27 346.00,524.12 346.50,524.20 347.00,523.60 347.50,523.67 348.00,523.60 348.50,523.50 349.00,523.46 349.50,523.06 350.00,523.74 350.50,523.53 351.00,523.34 351.50,523.72 352.00,523.23 352.50,523.83 353.00,523.61 353.50,523.66 354.00,523.79 354.50,523.95 355.00,523.38 355.50,523.38 356.00,523.35 356.50,523.57 357.00,524.23 357.50,523.70 358.00,524.33 358.50,523.66 359.00,523.97 359.50,524.07 360.00,523.12 360.50,523.47 361.00,523.81 361.50,524.09 362.00,523.61 362.50,524.26 363.00,524.23 363.50,523.07 364.00,524.06 364.50,523.95 365.00,523.15 365.50,523.84 366.00,523.58 366.50,524.36 367.00,523.97 367.50,523.09 368.00,523.74 368.50,523.99 369.00,523.14 369.50,523.23 370.00,523.74 370.50,523.17 371.00,524.12 371.50,524.13 372.00,524.33 372.50,523.38 373.00,523.14 373.50,523.40 374.00,523.43 374.50,523.78 375.00,524.09 375.50,523.41 376.00,524.15 376.50,523.47 377.00,523.88 377.50,523.16 378.00,524.08 378.50,523.10 379.00,524.01 379.50,524.27 380.00,523.78 380.50,523.66 381.00,523.56" fill="none" stroke="#0000ff" stroke-width="1" stroke-linejoin="round"/>
<rect x="126.25" y="438.25" width="255.6" height="86.8" fill="none" stroke="#000" stroke-width="1.8"/>
<rect x="289.75" y="446.6" width="13.5" height="10.6" fill="#fff" stroke="#ccc" stroke-width="1"/>
<rect x="291" y="447.9" width="11" height="8" fill="#0000ff"/>
<text x="307.6" y="455.8" font-family="Liberation Serif" font-size="12" fill="#000" textLength="67" lengthAdjust="spacingAndGlyphs">aida09 1.8.L</text>
<path d="M381.1 429.0 L390.90000000000003 438.8 L381.1 448.6 L371.3 438.8 Z" fill="#00ff00"/>
<rect x="642.20" y="438.4" width="1" height="86.6" fill="#ebebeb"/>
<text x="642.70" y="538.6" text-anchor="middle" font-family="Liberation Serif" font-size="12.2" fill="#545454" textLength="33" lengthAdjust="spacingAndGlyphs">21000</text>
<rect x="682.58" y="438.4" width="1" height="86.6" fill="#ebebeb"/>
<text x="683.08" y="538.6" text-anchor="middle" font-family="Liberation Serif" font-size="12.2" fill="#545454" textLength="33" lengthAdjust="spacingAndGlyphs">21500</text>
<rect x="722.96" y="438.4" width="1" height="86.6" fill="#ebebeb"/>
<text x="723.46" y="538.6" text-anchor="middle" font-family="Liberation Serif" font-size="12.2" fill="#545454" textLength="33" lengthAdjust="spacingAndGlyphs">22000</text>
<rect x="763.34" y="438.4" width="1" height="86.6" fill="#ebebeb"/>
<text x="763.84" y="538.6" text-anchor="middle" font-family="Liberation Serif" font-size="12.2" fill="#545454" textLength="33" lengthAdjust="spacingAndGlyphs">22500</text>
<rect x="803.72" y="438.4" width="1" height="86.6" fill="#ebebeb"/>
<text x="804.22" y="538.6" text-anchor="middle" font-family="Liberation Serif" font-size="12.2" fill="#545454" textLength="33" lengthAdjust="spacingAndGlyphs">23000</text>
<rect x="844.10" y="438.4" width="1" height="86.6" fill="#ebebeb"/>
<text x="844.60" y="538.6" text-anchor="middle" font-family="Liberation Serif" font-size="12.2" fill="#545454" textLength="33" lengthAdjust="spacingAndGlyphs">23500</text>
<text x="598.2" y="529.4" text-anchor="end" font-family="Liberation Serif" font-size="12.2" fill="#545454" textLength="6.6" lengthAdjust="spacingAndGlyphs">0</text>
<rect x="603" y="495.60" width="254" height="1" fill="#ebebeb"/>
<text x="598.2" y="500.5" text-anchor="end" font-family="Liberation Serif" font-size="12.2" fill="#545454" textLength="19.8" lengthAdjust="spacingAndGlyphs">500</text>
<rect x="603" y="466.70" width="254" height="1" fill="#ebebeb"/>
<text x="598.2" y="471.6" text-anchor="end" font-family="Liberation Serif" font-size="12.2" fill="#545454" textLength="26.4" lengthAdjust="spacingAndGlyphs">1000</text>
<text x="598.2" y="442.7" text-anchor="end" font-family="Liberation Serif" font-size="12.2" fill="#545454" textLength="26.4" lengthAdjust="spacingAndGlyphs">1500</text>
<polyline points="603.00,524.05 603.50,524.28 604.00,523.34 604.50,524.01 605.00,524.14 605.50,523.02 606.00,523.75 606.50,523.86 607.00,523.70 607.50,523.62 608.00,523.90 608.50,523.30 609.00,523.69 609.50,523.44 610.00,523.07 610.50,523.31 611.00,523.55 611.50,523.78 612.00,523.30 612.50,524.07 613.00,524.09 613.50,523.70 614.00,523.56 614.50,523.60 615.00,524.15 615.50,524.37 616.00,523.79 616.50,524.03 617.00,524.30 617.50,523.60 618.00,523.29 618.50,524.19 619.00,524.34 619.50,523.53 620.00,524.03 620.50,524.28 621.00,524.16 621.50,524.18 622.00,523.24 622.50,524.31 623.00,523.89 623.50,523.04 624.00,523.71 624.50,523.02 625.00,523.76 625.50,524.34 626.00,523.15 626.50,523.85 627.00,523.80 627.50,524.35 628.00,523.33 628.50,524.08 629.00,523.63 629.50,523.75 630.00,523.89 630.50,523.02 631.00,524.34 631.50,523.49 632.00,523.92 632.50,523.19 633.00,523.16 633.50,523.85 634.00,523.86 634.50,524.10 635.00,524.14 635.50,524.17 636.00,524.10 636.50,523.97 637.00,523.01 637.50,523.19 638.00,523.86 638.50,523.43 639.00,524.01 639.50,524.14 640.00,523.85 640.50,523.39 641.00,523.89 641.50,523.08 642.00,523.32 642.50,523.13 643.00,523.94 643.50,524.28 644.00,523.94 644.50,523.67 645.00,523.84 645.50,524.34 646.00,523.56 646.50,523.96 647.00,523.63 647.50,523.40 648.00,523.38 648.50,524.19 649.00,524.00 649.50,523.82 650.00,523.18 650.50,523.98 651.00,524.09 651.50,524.35 652.00,523.59 652.50,523.02 653.00,523.45 653.50,524.08 654.00,523.45 654.50,523.17 655.00,523.50 655.50,523.78 656.00,524.30 656.50,523.92 657.00,523.99 657.50,523.82 658.00,524.14 658.50,524.04 659.00,523.90 659.50,524.16 660.00,523.39 660.50,523.39 661.00,523.82 661.50,524.28 662.00,524.29 662.50,523.55 663.00,523.91 663.50,524.33 664.00,523.11 664.50,523.99 665.00,524.10 665.50,523.49 666.00,523.85 666.50,523.03 667.00,523.47 667.50,523.77 668.00,523.96 668.50,523.11 669.00,523.07 669.50,524.15 670.00,523.90 670.50,522.97 671.00,524.06 671.50,523.37 672.00,524.32 672.50,523.77 673.00,523.62 673.50,523.54 674.00,523.51 674.50,522.94 675.00,523.80 675.50,523.85 676.00,523.31 676.50,522.92 677.00,524.05 677.50,523.58 678.00,523.74 678.50,523.20 679.00,523.92 679.50,523.79 680.00,523.52 680.50,524.14 681.00,524.06 681.50,524.05 682.00,523.11 682.50,523.95 683.00,522.97 683.50,523.81 684.00,523.04 684.50,523.14 685.00,523.13 685.50,523.64 686.00,522.91 686.50,523.29 687.00,523.08 687.50,522.88 688.00,523.87 688.50,523.10 689.00,523.77 689.50,523.14 690.00,522.62 690.50,522.98 691.00,523.04 691.50,522.56 692.00,523.79 692.50,523.71 693.00,523.40 693.50,522.43 694.00,523.33 694.25,522.99 694.50,523.22 694.75,522.56 695.00,523.31 695.25,522.79 695.50,522.29 695.75,522.66 696.00,522.53 696.25,523.39 696.50,522.29 696.75,522.91 697.00,523.12 697.25,522.75 697.50,522.62 697.75,523.13 698.00,522.93 698.25,523.36 698.50,522.12 698.75,523.24 699.00,522.52 699.25,522.88 699.50,522.50 699.75,522.00 700.00,522.96 700.25,522.04 700.50,522.45 700.75,521.53 701.00,522.06 701.25,521.70 701.50,522.58 701.75,522.36 702.00,521.74 702.25,521.72 702.50,522.07 702.75,520.64 703.00,520.80 703.25,520.24 703.50,520.53 703.75,519.68 704.00,519.46 704.25,519.07 704.50,519.15 704.75,518.63 705.00,518.57 705.25,518.29 705.50,517.08 705.75,517.05 706.00,516.75 706.25,515.28 706.50,515.68 706.75,514.12 707.00,512.85 707.25,512.43 707.50,512.25 707.75,510.46 708.00,509.68 708.25,508.10 708.50,505.84 708.75,505.02 709.00,503.58 709.25,502.12 709.50,500.19 709.75,499.63 710.00,497.70 710.25,496.19 710.50,494.19 710.75,493.80 711.00,491.56 711.25,490.52 711.50,489.56 711.75,487.76 712.00,486.86 712.25,486.71 712.50,486.38 712.75,485.67 713.00,485.57 713.25,486.33 713.50,486.04 713.75,487.50 714.00,487.79 714.25,488.84 714.50,490.27 714.75,491.46 715.00,493.58 715.25,494.56 715.50,497.03 715.75,499.15 716.00,501.44 716.25,502.31 716.50,503.78 716.75,506.10 717.00,508.02 717.25,508.98 717.50,511.19 717.75,512.59 718.00,513.66 718.25,515.10 718.50,516.51 718.75,516.50 719.00,517.87 719.25,517.80 719.50,518.84 719.75,519.47 720.00,520.59 720.25,521.40 720.50,520.49 720.75,522.08 721.00,521.85 721.25,521.80 721.50,522.80 721.75,522.88 722.00,522.12 722.25,523.23 722.50,523.10 722.75,523.32 723.00,523.01 723.25,523.11 723.50,523.80 723.75,523.13 724.00,523.98 724.25,522.87 724.50,523.74 724.75,522.87 725.00,523.26 725.25,523.88 725.50,524.12 725.75,523.74 726.00,523.78 726.25,523.65 726.50,523.88 726.75,524.05 727.00,523.98 727.25,523.98 727.50,523.44 727.75,523.08 728.00,523.35 728.25,523.77 728.50,523.81 728.75,523.78 729.00,523.99 729.25,523.46 729.50,523.82 729.75,523.15 730.00,523.81 730.25,523.25 730.50,523.57 730.75,524.26 731.00,524.28 731.25,523.88 731.50,523.46 731.75,523.14 732.00,524.37 732.25,523.74 732.75,523.75 733.25,523.46 733.75,523.04 734.25,523.01 734.75,523.24 735.25,523.42 735.75,524.31 736.25,523.84 736.75,524.09 737.25,524.11 737.75,524.20 738.25,523.36 738.75,524.17 739.25,523.53 739.75,524.05 740.25,523.38 740.75,524.23 741.25,524.38 741.75,523.08 742.25,524.37 742.75,523.65 743.25,524.24 743.75,523.98 744.25,524.23 744.75,524.22 745.25,523.68 745.75,523.31 746.25,523.82 746.75,524.10 747.25,523.62 747.75,523.21 748.25,523.21 748.75,523.04 749.25,523.83 749.75,523.19 750.25,523.82 750.75,524.18 751.25,523.37 751.75,524.18 752.25,524.36 752.75,523.98 753.25,523.50 753.75,524.34 754.25,524.29 754.75,524.24 755.25,523.94 755.75,523.48 756.25,523.07 756.75,523.70 757.25,523.85 757.75,523.36 758.25,523.88 758.75,523.73 759.25,523.80 759.75,524.33 760.25,524.31 760.75,523.63 761.25,524.09 761.75,523.88 762.25,523.72 762.75,523.35 763.25,524.39 763.75,523.05 764.25,523.57 764.75,523.89 765.25,523.88 765.75,523.55 766.25,523.96 766.75,523.68 767.25,524.33 767.75,524.05 768.25,523.29 768.75,523.20 769.25,524.00 769.75,524.28 770.25,523.24 770.75,523.96 771.25,523.30 771.75,524.32 772.25,524.33 772.75,523.63 773.25,523.51 773.75,523.09 774.25,523.59 774.75,523.37 775.25,523.45 775.75,523.12 776.25,523.31 776.75,523.35 777.25,523.77 777.75,524.23 778.25,523.37 778.75,524.24 779.25,523.47 779.75,524.24 780.25,523.97 780.75,523.62 781.25,524.10 781.75,523.65 782.25,524.23 782.75,523.74 783.25,523.80 783.75,523.46 784.25,523.71 784.75,523.86 785.25,524.25 785.75,524.17 786.25,524.12 786.75,524.17 787.25,523.57 787.75,523.86 788.25,523.22 788.75,523.58 789.25,523.03 789.75,523.42 790.25,524.03 790.75,523.60 791.25,524.31 791.75,523.87 792.25,523.79 792.75,523.62 793.25,523.13 793.75,523.72 794.25,523.35 794.75,523.97 795.25,524.35 795.75,523.60 796.25,523.93 796.75,523.07 797.25,523.27 797.75,523.30 798.25,524.12 798.75,523.55 799.25,523.33 799.75,523.14 800.25,523.44 800.75,523.07 801.25,523.99 801.75,523.38 802.25,524.05 802.75,523.65 803.25,523.99 803.75,524.22 804.25,524.02 804.75,524.01 805.25,523.18 805.75,523.20 806.25,523.55 806.75,523.37 807.25,523.48 807.75,523.31 808.25,524.32 808.75,523.89 809.25,524.07 809.75,523.88 810.25,523.08 810.75,523.61 811.25,524.07 811.75,524.25 812.25,523.48 812.75,523.14 813.25,523.61 813.75,523.02 814.25,523.18 814.75,523.47 815.25,524.36 815.75,523.02 816.25,523.20 816.75,523.67 817.25,523.66 817.75,523.66 818.25,523.70 818.75,523.41 819.25,523.72 819.75,523.72 820.25,523.04 820.75,524.21 821.25,523.93 821.75,523.09 822.25,523.07 822.75,523.20 823.25,524.37 823.75,523.57 824.25,523.54 824.75,523.09 825.25,523.67 825.75,524.36 826.25,523.18 826.75,524.37 827.25,523.24 827.75,523.67 828.25,523.34 828.75,524.40 829.25,523.29 829.75,523.23 830.25,523.93 830.75,524.38 831.25,524.03 831.75,523.66 832.25,523.46 832.75,524.07 833.25,524.15 833.75,524.05 834.25,523.30 834.75,524.07 835.25,524.04 835.75,524.04 836.25,524.14 836.75,523.98 837.25,523.38 837.75,523.29 838.25,524.29 838.75,524.06 839.25,523.82 839.75,523.88 840.25,523.12 840.75,523.86 841.25,523.29 841.75,523.93 842.25,523.87 842.75,523.57 843.25,523.73 843.75,524.38 844.25,523.87 844.75,523.12 845.25,524.11 845.75,523.06 846.25,523.92 846.75,524.20 847.25,523.08 847.75,524.21 848.25,523.16 848.75,523.07 849.25,523.88 849.75,524.02 850.25,524.30 850.75,523.91 851.25,523.97 851.75,524.23 852.25,523.64 852.75,523.33 853.25,523.07 853.75,524.09 854.25,523.97 854.75,523.11 855.25,524.18 855.75,523.60 856.25,523.29 856.75,523.76" fill="none" stroke="#0000ff" stroke-width="1" stroke-linejoin="round"/>
<rect x="602.25" y="438.25" width="255.6" height="86.8" fill="none" stroke="#808080" stroke-width="1.8"/>
<rect x="765.75" y="446.6" width="13.5" height="10.6" fill="#fff" stroke="#ccc" stroke-width="1"/>
<rect x="767" y="447.9" width="11" height="8" fill="#0000ff"/>
<text x="783.6" y="455.8" font-family="Liberation Serif" font-size="12" fill="#888" textLength="67" lengthAdjust="spacingAndGlyphs">aida01 1.8.L</text>
<path d="M857.1 429.0 L866.9 438.8 L857.1 448.6 L847.3000000000001 438.8 Z" fill="#ff0000"/>
<rect x="1118.20" y="438.4" width="1" height="86.6" fill="#ebebeb"/>
<text x="1118.70" y="538.6" text-anchor="middle" font-family="Liberation Serif" font-size="12.2" fill="#545454" textLength="33" lengthAdjust="spacingAndGlyphs">21000</text>
<rect x="1158.58" y="438.4" width="1" height="86.6" fill="#ebebeb"/>
<text x="1159.08" y="538.6" text-anchor="middle" font-family="Liberation Serif" font-size="12.2" fill="#545454" textLength="33" lengthAdjust="spacingAndGlyphs">21500</text>
<rect x="1198.96" y="438.4" width="1" height="86.6" fill="#ebebeb"/>
<text x="1199.46" y="538.6" text-anchor="middle" font-family="Liberation Serif" font-size="12.2" fill="#545454" textLength="33" lengthAdjust="spacingAndGlyphs">22000</text>
<rect x="1239.34" y="438.4" width="1" height="86.6" fill="#ebebeb"/>
<text x="1239.84" y="538.6" text-anchor="middle" font-family="Liberation Serif" font-size="12.2" fill="#545454" textLength="33" lengthAdjust="spacingAndGlyphs">22500</text>
<rect x="1279.72" y="438.4" width="1" height="86.6" fill="#ebebeb"/>
<text x="1280.22" y="538.6" text-anchor="middle" font-family="Liberation Serif" font-size="12.2" fill="#545454" textLength="33" lengthAdjust="spacingAndGlyphs">23000</text>
<rect x="1320.10" y="438.4" width="1" height="86.6" fill="#ebebeb"/>
<text x="1320.60" y="538.6" text-anchor="middle" font-family="Liberation Serif" font-size="12.2" fill="#545454" textLength="33" lengthAdjust="spacingAndGlyphs">23500</text>
<text x="1074.2" y="529.4" text-anchor="end" font-family="Liberation Serif" font-size="12.2" fill="#545454" textLength="6.6" lengthAdjust="spacingAndGlyphs">0</text>
<rect x="1079" y="495.60" width="254" height="1" fill="#ebebeb"/>
<text x="1074.2" y="500.5" text-anchor="end" font-family="Liberation Serif" font-size="12.2" fill="#545454" textLength="19.8" lengthAdjust="spacingAndGlyphs">500</text>
<rect x="1079" y="466.70" width="254" height="1" fill="#ebebeb"/>
<text x="1074.2" y="471.6" text-anchor="end" font-family="Liberation Serif" font-size="12.2" fill="#545454" textLength="26.4" lengthAdjust="spacingAndGlyphs">1000</text>
<text x="1074.2" y="442.7" text-anchor="end" font-family="Liberation Serif" font-size="12.2" fill="#545454" textLength="26.4" lengthAdjust="spacingAndGlyphs">1500</text>
<polyline points="1079.00,523.22 1079.50,524.13 1080.00,523.03 1080.50,523.33 1081.00,524.33 1081.50,524.16 1082.00,524.10 1082.50,524.09 1083.00,523.70 1083.50,523.75 1084.00,524.38 1084.50,524.34 1085.00,523.53 1085.50,523.74 1086.00,523.96 1086.50,523.16 1087.00,523.82 1087.50,523.76 1088.00,523.12 1088.50,523.09 1089.00,523.17 1089.50,523.69 1090.00,524.00 1090.50,523.39 1091.00,523.58 1091.50,523.07 1092.00,524.26 1092.50,523.91 1093.00,523.70 1093.50,523.68 1094.00,524.40 1094.50,524.02 1095.00,523.52 1095.50,524.27 1096.00,523.73 1096.50,523.04 1097.00,523.78 1097.50,523.28 1098.00,523.24 1098.50,524.04 1099.00,523.69 1099.50,523.62 1100.00,523.71 1100.50,523.99 1101.00,523.70 1101.50,524.12 1102.00,523.23 1102.50,523.03 1103.00,523.44 1103.50,523.40 1104.00,523.28 1104.50,523.26 1105.00,524.06 1105.50,524.37 1106.00,523.92 1106.50,523.55 1107.00,523.09 1107.50,524.31 1108.00,524.25 1108.50,523.18 1109.00,524.14 1109.50,523.34 1110.00,523.53 1110.50,523.38 1111.00,523.18 1111.50,523.30 1112.00,523.60 1112.50,523.50 1113.00,523.86 1113.50,524.37 1114.00,523.29 1114.50,523.48 1115.00,523.43 1115.50,523.96 1116.00,524.14 1116.50,523.44 1117.00,523.94 1117.50,523.12 1118.00,523.07 1118.50,523.05 1119.00,523.93 1119.50,523.67 1120.00,524.35 1120.50,523.65 1121.00,523.36 1121.50,524.12 1122.00,524.06 1122.50,524.30 1123.00,523.90 1123.50,523.07 1124.00,523.82 1124.50,524.07 1125.00,523.06 1125.50,523.79 1126.00,523.33 1126.50,523.50 1127.00,523.13 1127.50,523.64 1128.00,523.66 1128.50,523.32 1129.00,524.19 1129.50,524.01 1130.00,523.38 1130.50,523.32 1131.00,523.41 1131.50,523.79 1132.00,523.73 1132.50,523.15 1133.00,524.30 1133.50,523.42 1134.00,524.21 1134.50,523.59 1135.00,523.83 1135.50,523.44 1136.00,524.33 1136.50,524.21 1137.00,523.73 1137.50,524.29 1138.00,523.73 1138.50,523.05 1139.00,523.71 1139.50,523.94 1140.00,524.22 1140.50,524.08 1141.00,523.67 1141.50,523.82 1142.00,524.02 1142.50,523.39 1143.00,523.87 1143.50,523.74 1144.00,523.50 1144.50,523.95 1145.00,523.74 1145.50,523.14 1146.00,523.84 1146.50,523.00 1147.00,523.80 1147.50,523.33 1148.00,523.35 1148.50,523.44 1149.00,523.75 1149.50,524.03 1150.00,523.59 1150.50,523.87 1151.00,524.32 1151.50,523.27 1152.00,523.48 1152.50,523.77 1153.00,524.05 1153.50,524.23 1154.00,523.16 1154.50,523.76 1155.00,523.30 1155.50,523.25 1156.00,523.93 1156.50,523.49 1157.00,522.90 1157.50,523.17 1158.00,523.23 1158.50,523.86 1159.00,523.49 1159.50,523.99 1160.00,522.95 1160.50,523.78 1161.00,523.60 1161.50,523.32 1162.00,523.40 1162.50,523.32 1163.00,523.61 1163.50,524.00 1164.00,523.10 1164.50,522.90 1165.00,523.65 1165.50,523.28 1166.00,523.45 1166.50,523.75 1167.00,522.67 1167.50,523.56 1168.00,523.71 1168.50,522.68 1169.00,523.40 1169.50,522.79 1170.00,522.51 1170.50,523.32 1171.00,522.62 1171.50,522.32 1171.75,522.85 1172.00,522.81 1172.25,522.62 1172.50,522.04 1172.75,523.02 1173.00,523.04 1173.25,522.80 1173.50,522.57 1173.75,521.86 1174.00,522.89 1174.25,522.11 1174.50,521.68 1174.75,522.61 1175.00,522.45 1175.25,522.61 1175.50,522.45 1175.75,521.70 1176.00,522.32 1176.25,521.55 1176.50,521.04 1176.75,521.81 1177.00,521.42 1177.25,521.08 1177.50,519.89 1177.75,520.10 1178.00,519.67 1178.25,519.19 1178.50,518.82 1178.75,518.36 1179.00,517.11 1179.25,516.73 1179.50,514.60 1179.75,514.12 1180.00,511.78 1180.25,510.80 1180.50,509.24 1180.75,507.93 1181.00,505.67 1181.25,503.34 1181.50,500.14 1181.75,499.40 1182.00,496.59 1182.25,492.40 1182.50,490.80 1182.75,486.40 1183.00,484.12 1183.25,481.76 1183.50,479.79 1183.75,476.56 1184.00,475.04 1184.25,475.68 1184.50,473.28 1184.75,473.92 1185.00,473.55 1185.25,474.78 1185.50,476.21 1185.75,478.74 1186.00,480.55 1186.25,482.14 1186.50,485.23 1186.75,488.08 1187.00,491.75 1187.25,493.42 1187.50,497.54 1187.75,500.01 1188.00,502.26 1188.25,506.02 1188.50,507.42 1188.75,509.67 1189.00,510.96 1189.25,513.36 1189.50,514.53 1189.75,515.12 1190.00,516.93 1190.25,518.38 1190.50,519.49 1190.75,520.39 1191.00,520.06 1191.25,521.11 1191.50,520.89 1191.75,521.44 1192.00,521.49 1192.25,522.23 1192.50,522.13 1192.75,522.49 1193.00,522.89 1193.25,523.46 1193.50,522.60 1193.75,523.92 1194.00,523.75 1194.25,522.95 1194.50,522.82 1194.75,523.36 1195.00,523.27 1195.25,524.22 1195.50,523.79 1195.75,524.28 1196.00,522.98 1196.25,523.91 1196.50,523.54 1196.75,524.13 1197.00,523.69 1197.25,523.60 1197.50,524.13 1197.75,524.28 1198.00,524.35 1198.25,523.74 1198.75,523.53 1199.25,523.33 1199.75,524.33 1200.25,524.19 1200.75,524.35 1201.25,523.17 1201.75,524.28 1202.25,523.22 1202.75,523.12 1203.25,524.24 1203.75,524.13 1204.25,524.12 1204.75,524.16 1205.25,523.65 1205.75,524.19 1206.25,523.69 1206.75,523.74 1207.25,523.54 1207.75,523.93 1208.25,523.16 1208.75,523.85 1209.25,523.08 1209.75,523.86 1210.25,523.88 1210.75,523.13 1211.25,524.00 1211.75,523.35 1212.25,523.42 1212.75,524.14 1213.25,523.21 1213.75,524.24 1214.25,523.36 1214.75,523.89 1215.25,523.06 1215.75,523.59 1216.25,523.00 1216.75,523.48 1217.25,524.20 1217.75,523.61 1218.25,523.31 1218.75,523.52 1219.25,523.95 1219.75,524.13 1220.25,523.20 1220.75,524.03 1221.25,523.43 1221.75,523.21 1222.25,523.62 1222.75,524.40 1223.25,524.40 1223.75,524.01 1224.25,523.51 1224.75,523.40 1225.25,523.73 1225.75,523.20 1226.25,523.81 1226.75,523.84 1227.25,523.36 1227.75,523.44 1228.25,523.30 1228.75,524.12 1229.25,524.17 1229.75,523.82 1230.25,523.38 1230.75,523.46 1231.25,524.32 1231.75,524.35 1232.25,523.25 1232.75,523.63 1233.25,523.88 1233.75,523.50 1234.25,524.08 1234.75,524.17 1235.25,523.66 1235.75,523.56 1236.25,523.92 1236.75,523.46 1237.25,523.16 1237.75,523.59 1238.25,523.45 1238.75,524.00 1239.25,523.51 1239.75,524.38 1240.25,524.03 1240.75,523.69 1241.25,524.32 1241.75,523.55 1242.25,523.01 1242.75,523.99 1243.25,523.69 1243.75,523.85 1244.25,523.72 1244.75,523.73 1245.25,523.00 1245.75,523.84 1246.25,523.45 1246.75,524.19 1247.25,523.56 1247.75,523.78 1248.25,523.88 1248.75,524.10 1249.25,523.16 1249.75,524.21 1250.25,523.15 1250.75,524.31 1251.25,524.10 1251.75,523.55 1252.25,523.09 1252.75,524.20 1253.25,524.25 1253.75,523.49 1254.25,523.14 1254.75,524.11 1255.25,523.56 1255.75,523.98 1256.25,524.11 1256.75,524.30 1257.25,523.07 1257.75,523.95 1258.25,523.14 1258.75,524.34 1259.25,524.20 1259.75,523.07 1260.25,524.05 1260.75,523.96 1261.25,523.36 1261.75,523.93 1262.25,523.42 1262.75,523.75 1263.25,524.27 1263.75,523.24 1264.25,523.50 1264.75,523.88 1265.25,523.04 1265.75,524.22 1266.25,523.56 1266.75,523.32 1267.25,523.17 1267.75,523.83 1268.25,523.88 1268.75,523.89 1269.25,523.91 1269.75,523.21 1270.25,523.45 1270.75,523.86 1271.25,524.05 1271.75,524.26 1272.25,523.11 1272.75,523.87 1273.25,524.20 1273.75,523.15 1274.25,524.04 1274.75,524.08 1275.25,523.91 1275.75,524.12 1276.25,523.81 1276.75,523.38 1277.25,523.51 1277.75,523.94 1278.25,524.23 1278.75,523.29 1279.25,524.38 1279.75,523.56 1280.25,524.35 1280.75,523.90 1281.25,523.90 1281.75,523.18 1282.25,524.22 1282.75,524.27 1283.25,524.26 1283.75,523.83 1284.25,523.01 1284.75,523.14 1285.25,523.34 1285.75,523.74 1286.25,523.46 1286.75,523.66 1287.25,523.68 1287.75,523.44 1288.25,523.30 1288.75,524.27 1289.25,524.33 1289.75,523.06 1290.25,523.79 1290.75,523.61 1291.25,523.31 1291.75,523.22 1292.25,524.40 1292.75,524.27 1293.25,524.30 1293.75,523.32 1294.25,523.47 1294.75,523.67 1295.25,523.75 1295.75,523.45 1296.25,524.21 1296.75,523.65 1297.25,524.40 1297.75,523.23 1298.25,524.18 1298.75,523.03 1299.25,523.34 1299.75,523.09 1300.25,524.23 1300.75,524.08 1301.25,523.13 1301.75,524.22 1302.25,524.06 1302.75,523.39 1303.25,523.79 1303.75,523.74 1304.25,523.76 1304.75,523.40 1305.25,523.61 1305.75,524.34 1306.25,523.90 1306.75,524.29 1307.25,523.08 1307.75,524.36 1308.25,523.88 1308.75,524.21 1309.25,523.23 1309.75,524.15 1310.25,524.38 1310.75,524.08 1311.25,523.29 1311.75,524.14 1312.25,523.32 1312.75,523.98 1313.25,523.90 1313.75,523.29 1314.25,523.27 1314.75,523.56 1315.25,523.09 1315.75,523.01 1316.25,523.27 1316.75,523.98 1317.25,523.23 1317.75,524.11 1318.25,523.19 1318.75,524.33 1319.25,523.99 1319.75,523.08 1320.25,523.25 1320.75,524.06 1321.25,523.92 1321.75,524.31 1322.25,523.82 1322.75,523.84 1323.25,523.99 1323.75,523.46 1324.25,523.71 1324.75,524.02 1325.25,523.98 1325.75,524.24 1326.25,523.73 1326.75,523.17 1327.25,523.78 1327.75,524.37 1328.25,523.30 1328.75,523.71 1329.25,523.35 1329.75,523.29 1330.25,523.15 1330.75,523.46 1331.25,523.65 1331.75,523.66 1332.25,523.20 1332.75,523.35" fill="none" stroke="#0000ff" stroke-width="1" stroke-linejoin="round"/>
<rect x="1078.25" y="438.25" width="255.6" height="86.8" fill="none" stroke="#808080" stroke-width="1.8"/>
<rect x="1241.75" y="446.6" width="13.5" height="10.6" fill="#fff" stroke="#ccc" stroke-width="1"/>
<rect x="1243" y="447.9" width="11" height="8" fill="#0000ff"/>
<text x="1259.6" y="455.8" font-family="Liberation Serif" font-size="12" fill="#888" textLength="67" lengthAdjust="spacingAndGlyphs">aida05 1.8.L</text>
<path d="M1333.1 429.0 L1342.8999999999999 438.8 L1333.1 448.6 L1323.3 438.8 Z" fill="#ff0000"/>
<rect x="166.20" y="560.4" width="1" height="86.6" fill="#ebebeb"/>
<text x="166.70" y="660.6" text-anchor="middle" font-family="Liberation Serif" font-size="12.2" fill="#545454" textLength="33" lengthAdjust="spacingAndGlyphs">21000</text>
<rect x="206.58" y="560.4" width="1" height="86.6" fill="#ebebeb"/>
<text x="207.08" y="660.6" text-anchor="middle" font-family="Liberation Serif" font-size="12.2" fill="#545454" textLength="33" lengthAdjust="spacingAndGlyphs">21500</text>
<rect x="246.96" y="560.4" width="1" height="86.6" fill="#ebebeb"/>
<text x="247.46" y="660.6" text-anchor="middle" font-family="Liberation Serif" font-size="12.2" fill="#545454" textLength="33" lengthAdjust="spacingAndGlyphs">22000</text>
<rect x="287.34" y="560.4" width="1" height="86.6" fill="#ebebeb"/>
<text x="287.84" y="660.6" text-anchor="middle" font-family="Liberation Serif" font-size="12.2" fill="#545454" textLength="33" lengthAdjust="spacingAndGlyphs">22500</text>
<rect x="327.72" y="560.4" width="1" height="86.6" fill="#ebebeb"/>
<text x="328.22" y="660.6" text-anchor="middle" font-family="Liberation Serif" font-size="12.2" fill="#545454" textLength="33" lengthAdjust="spacingAndGlyphs">23000</text>
<rect x="368.10" y="560.4" width="1" height="86.6" fill="#ebebeb"/>
<text x="368.60" y="660.6" text-anchor="middle" font-family="Liberation Serif" font-size="12.2" fill="#545454" textLength="33" lengthAdjust="spacingAndGlyphs">23500</text>
<text x="122.2" y="651.4" text-anchor="end" font-family="Liberation Serif" font-size="12.2" fill="#545454" textLength="6.6" lengthAdjust="spacingAndGlyphs">0</text>
<rect x="127" y="617.60" width="254" height="1" fill="#ebebeb"/>
<text x="122.2" y="622.5" text-anchor="end" font-family="Liberation Serif" font-size="12.2" fill="#545454" textLength="19.8" lengthAdjust="spacingAndGlyphs">500</text>
<rect x="127" y="588.70" width="254" height="1" fill="#ebebeb"/>
<text x="122.2" y="593.6" text-anchor="end" font-family="Liberation Serif" font-size="12.2" fill="#545454" textLength="26.4" lengthAdjust="spacingAndGlyphs">1000</text>
<text x="122.2" y="564.7" text-anchor="end" font-family="Liberation Serif" font-size="12.2" fill="#545454" textLength="26.4" lengthAdjust="spacingAndGlyphs">1500</text>
<polyline points="127.00,645.56 127.50,646.33 128.00,645.87 128.50,646.17 129.00,646.20 129.50,645.72 130.00,645.97 130.50,646.39 131.00,645.37 131.50,645.31 132.00,646.29 132.50,645.38 133.00,645.09 133.50,646.35 134.00,645.93 134.50,645.16 135.00,646.23 135.50,646.02 136.00,646.25 136.50,645.83 137.00,645.79 137.50,645.08 138.00,645.13 138.50,646.08 139.00,645.76 139.50,645.55 140.00,645.01 140.50,646.37 141.00,646.11 141.50,645.22 142.00,646.07 142.50,645.30 143.00,646.03 143.50,645.05 144.00,645.40 144.50,645.35 145.00,645.69 145.50,645.66 146.00,645.95 146.50,646.19 147.00,646.10 147.50,645.06 148.00,645.10 148.50,645.21 149.00,645.61 149.50,645.38 150.00,645.23 150.50,646.31 151.00,645.72 151.50,645.01 152.00,645.45 152.50,645.43 153.00,645.50 153.50,645.14 154.00,645.28 154.50,646.11 155.00,645.45 155.50,646.25 156.00,645.84 156.50,646.08 157.00,645.82 157.50,645.12 158.00,646.37 158.50,645.55 159.00,645.54 159.50,645.92 160.00,645.47 160.50,645.45 161.00,645.46 161.50,645.27 162.00,645.26 162.50,645.76 163.00,645.54 163.50,645.19 164.00,645.89 164.50,645.24 165.00,645.02 165.50,645.20 166.00,645.01 166.50,645.14 167.00,646.38 167.50,645.91 168.00,645.84 168.50,645.43 169.00,645.97 169.50,646.22 170.00,645.80 170.50,645.92 171.00,646.12 171.50,646.08 172.00,645.97 172.50,645.99 173.00,645.66 173.50,645.65 174.00,645.90 174.50,645.25 175.00,645.41 175.50,645.18 176.00,646.31 176.50,645.34 177.00,645.00 177.50,646.17 178.00,645.51 178.50,646.20 179.00,645.67 179.50,645.01 180.00,646.29 180.50,646.02 181.00,645.96 181.50,645.93 182.00,645.11 182.50,645.13 183.00,646.02 183.50,646.25 184.00,646.27 184.50,645.05 185.00,645.37 185.50,646.37 186.00,646.28 186.50,645.22 187.00,645.74 187.50,645.38 188.00,645.62 188.50,645.41 189.00,645.34 189.50,645.89 190.00,645.54 190.50,645.61 191.00,645.93 191.50,645.84 192.00,645.82 192.50,646.32 193.00,645.26 193.50,645.49 194.00,646.08 194.50,645.44 195.00,644.96 195.50,645.96 196.00,646.08 196.50,645.58 197.00,645.74 197.50,645.81 198.00,645.50 198.50,646.19 199.00,645.00 199.50,645.23 200.00,645.22 200.50,645.17 201.00,645.93 201.50,644.85 202.00,645.39 202.50,645.58 203.00,646.01 203.50,646.00 204.00,645.57 204.50,645.54 205.00,645.39 205.50,645.07 206.00,645.22 206.50,645.28 207.00,645.49 207.50,645.51 208.00,644.73 208.50,644.99 209.00,644.68 209.50,644.73 210.00,645.35 210.50,645.17 211.00,645.37 211.50,644.92 211.75,645.19 212.00,644.14 212.25,644.74 212.50,645.04 212.75,643.98 213.00,645.26 213.25,645.01 213.50,644.27 213.75,644.87 214.00,644.86 214.25,644.07 214.50,643.67 214.75,644.61 215.00,644.46 215.25,644.43 215.50,643.40 215.75,643.50 216.00,642.87 216.25,642.90 216.50,643.39 216.75,642.42 217.00,641.90 217.25,642.12 217.50,641.03 217.75,640.63 218.00,641.15 218.25,640.83 218.50,639.05 218.75,639.38 219.00,638.73 219.25,637.78 219.50,635.26 219.75,634.26 220.00,633.86 220.25,631.11 220.50,630.31 220.75,628.29 221.00,626.49 221.25,623.53 221.50,619.75 221.75,616.96 222.00,615.35 222.25,611.02 222.50,608.21 222.75,606.59 223.00,602.43 223.25,599.37 223.50,598.61 223.75,595.73 224.00,593.85 224.25,593.95 224.50,592.60 224.75,592.20 225.00,593.50 225.25,594.29 225.50,594.84 225.75,597.99 226.00,600.25 226.25,602.91 226.50,605.27 226.75,608.76 227.00,612.41 227.25,615.39 227.50,619.53 227.75,621.52 228.00,624.36 228.25,626.90 228.50,629.55 228.75,630.22 229.00,632.11 229.25,634.21 229.50,636.13 229.75,638.10 230.00,639.02 230.25,639.47 230.50,640.66 230.75,642.30 231.00,642.17 231.25,642.71 231.50,643.10 231.75,643.41 232.00,644.00 232.25,644.85 232.50,643.96 232.75,645.05 233.00,644.92 233.25,645.52 233.50,645.80 233.75,645.63 234.00,645.83 234.25,645.43 234.50,645.30 234.75,645.37 235.00,645.43 235.25,645.66 235.50,646.02 235.75,645.52 236.00,645.50 236.25,645.29 236.50,645.85 236.75,645.35 237.00,646.13 237.25,645.02 237.50,645.00 237.75,645.86 238.00,646.37 238.25,645.39 238.75,645.30 239.25,645.36 239.75,645.51 240.25,645.47 240.75,646.27 241.25,645.41 241.75,645.04 242.25,646.17 242.75,645.90 243.25,645.16 243.75,645.40 244.25,645.68 244.75,646.28 245.25,646.39 245.75,645.13 246.25,645.51 246.75,646.17 247.25,645.78 247.75,646.24 248.25,645.74 248.75,645.29 249.25,645.95 249.75,645.56 250.25,645.63 250.75,646.34 251.25,645.72 251.75,646.18 252.25,645.79 252.75,645.56 253.25,645.53 253.75,645.29 254.25,646.07 254.75,645.64 255.25,646.04 255.75,645.79 256.25,646.04 256.75,646.03 257.25,645.79 257.75,645.59 258.25,645.63 258.75,645.07 259.25,646.27 259.75,646.38 260.25,645.25 260.75,646.36 261.25,645.71 261.75,646.37 262.25,646.38 262.75,645.96 263.25,645.04 263.75,645.20 264.25,645.13 264.75,646.06 265.25,645.73 265.75,645.11 266.25,646.12 266.75,645.27 267.25,645.58 267.75,646.06 268.25,645.69 268.75,646.08 269.25,645.58 269.75,645.01 270.25,645.01 270.75,645.69 271.25,646.28 271.75,646.26 272.25,646.28 272.75,646.13 273.25,645.33 273.75,646.19 274.25,645.01 274.75,645.78 275.25,645.42 275.75,645.30 276.25,645.31 276.75,646.22 277.25,646.14 277.75,646.00 278.25,645.79 278.75,645.08 279.25,645.32 279.75,645.84 280.25,645.48 280.75,645.44 281.25,645.66 281.75,645.85 282.25,646.39 282.75,645.68 283.25,645.37 283.75,645.84 284.25,645.56 284.75,645.44 285.25,645.30 285.75,646.25 286.25,646.05 286.75,645.07 287.25,645.37 287.75,645.52 288.25,646.09 288.75,646.37 289.25,645.05 289.75,646.38 290.25,645.47 290.75,645.33 291.25,646.07 291.75,645.33 292.25,645.69 292.75,645.55 293.25,646.14 293.75,646.14 294.25,645.57 294.75,645.51 295.25,645.50 295.75,645.22 296.25,645.17 296.75,645.24 297.25,645.43 297.75,646.05 298.25,645.47 298.75,645.54 299.25,645.55 299.75,646.06 300.25,645.42 300.75,645.95 301.25,645.77 301.75,645.51 302.25,645.33 302.75,645.38 303.25,645.77 303.75,645.49 304.25,645.24 304.75,645.62 305.25,645.89 305.75,646.01 306.25,645.07 306.75,645.14 307.25,645.29 307.75,646.37 308.25,646.30 308.75,645.09 309.25,645.25 309.75,646.15 310.25,646.27 310.75,645.71 311.25,646.00 311.75,646.20 312.25,646.32 312.75,645.58 313.25,645.81 313.75,645.39 314.25,645.18 314.75,645.99 315.25,645.56 315.75,645.45 316.25,645.08 316.75,646.11 317.25,645.52 317.75,645.63 318.25,645.74 318.75,645.91 319.25,646.19 319.75,646.23 320.25,645.66 320.75,645.84 321.25,645.55 321.75,646.00 322.25,645.91 322.75,646.06 323.25,645.44 323.75,645.38 324.25,645.86 324.75,645.93 325.25,646.18 325.75,646.27 326.25,645.90 326.75,645.80 327.25,645.17 327.75,645.22 328.25,645.10 328.75,645.57 329.25,645.89 329.75,645.53 330.25,645.34 330.75,645.81 331.25,645.22 331.75,646.19 332.25,646.07 332.75,645.82 333.25,645.77 333.75,645.97 334.25,645.91 334.75,645.65 335.25,645.08 335.75,645.94 336.25,645.71 336.75,645.46 337.25,646.33 337.75,645.97 338.25,646.00 338.75,646.36 339.25,645.34 339.75,646.27 340.25,646.29 340.75,645.71 341.25,645.30 341.75,645.67 342.25,646.36 342.75,645.85 343.25,646.25 343.75,645.64 344.25,646.30 344.75,645.09 345.25,645.64 345.75,645.56 346.25,646.16 346.75,645.78 347.25,646.34 347.75,646.24 348.25,645.73 348.75,645.31 349.25,645.99 349.75,646.40 350.25,646.35 350.75,645.17 351.25,645.08 351.75,645.45 352.25,645.79 352.75,645.83 353.25,645.92 353.75,646.11 354.25,645.80 354.75,646.32 355.25,645.40 355.75,645.73 356.25,645.55 356.75,645.32 357.25,645.86 357.75,645.34 358.25,645.74 358.75,645.62 359.25,645.19 359.75,645.43 360.25,645.48 360.75,645.54 361.25,645.68 361.75,646.15 362.25,645.29 362.75,646.35 363.25,645.24 363.75,646.15 364.25,646.15 364.75,645.76 365.25,646.03 365.75,646.17 366.25,645.50 366.75,646.05 367.25,645.81 367.75,645.10 368.25,645.75 368.75,645.36 369.25,646.30 369.75,645.35 370.25,646.24 370.75,646.15 371.25,645.53 371.75,646.29 372.25,645.37 372.75,646.35 373.25,645.21 373.75,646.08 374.25,645.23 374.75,645.42 375.25,645.35 375.75,646.16 376.25,645.06 376.75,646.17 377.25,645.33 377.75,646.29 378.25,645.04 378.75,645.61 379.25,645.36 379.75,645.24 380.25,645.70 380.75,645.75" fill="none" stroke="#0000ff" stroke-width="1" stroke-linejoin="round"/>
<rect x="126.25" y="560.25" width="255.6" height="86.8" fill="none" stroke="#808080" stroke-width="1.8"/>
<rect x="289.75" y="568.6" width="13.5" height="10.6" fill="#fff" stroke="#ccc" stroke-width="1"/>
<rect x="291" y="569.9" width="11" height="8" fill="#0000ff"/>
<text x="307.6" y="577.8" font-family="Liberation Serif" font-size="12" fill="#888" textLength="67" lengthAdjust="spacingAndGlyphs">aida15 1.8.L</text>
<path d="M381.1 551.0 L390.90000000000003 560.8 L381.1 570.5999999999999 L371.3 560.8 Z" fill="#ff0000"/>
<rect x="642.20" y="560.4" width="1" height="86.6" fill="#ebebeb"/>
<text x="642.70" y="660.6" text-anchor="middle" font-family="Liberation Serif" font-size="12.2" fill="#545454" textLength="33" lengthAdjust="spacingAndGlyphs">21000</text>
<rect x="682.58" y="560.4" width="1" height="86.6" fill="#ebebeb"/>
<text x="683.08" y="660.6" text-anchor="middle" font-family="Liberation Serif" font-size="12.2" fill="#545454" textLength="33" lengthAdjust="spacingAndGlyphs">21500</text>
<rect x="722.96" y="560.4" width="1" height="86.6" fill="#ebebeb"/>
<text x="723.46" y="660.6" text-anchor="middle" font-family="Liberation Serif" font-size="12.2" fill="#545454" textLength="33" lengthAdjust="spacingAndGlyphs">22000</text>
<rect x="763.34" y="560.4" width="1" height="86.6" fill="#ebebeb"/>
<text x="763.84" y="660.6" text-anchor="middle" font-family="Liberation Serif" font-size="12.2" fill="#545454" textLength="33" lengthAdjust="spacingAndGlyphs">22500</text>
<rect x="803.72" y="560.4" width="1" height="86.6" fill="#ebebeb"/>
<text x="804.22" y="660.6" text-anchor="middle" font-family="Liberation Serif" font-size="12.2" fill="#545454" textLength="33" lengthAdjust="spacingAndGlyphs">23000</text>
<rect x="844.10" y="560.4" width="1" height="86.6" fill="#ebebeb"/>
<text x="844.60" y="660.6" text-anchor="middle" font-family="Liberation Serif" font-size="12.2" fill="#545454" textLength="33" lengthAdjust="spacingAndGlyphs">23500</text>
<text x="598.2" y="651.4" text-anchor="end" font-family="Liberation Serif" font-size="12.2" fill="#545454" textLength="6.6" lengthAdjust="spacingAndGlyphs">0</text>
<rect x="603" y="617.60" width="254" height="1" fill="#ebebeb"/>
<text x="598.2" y="622.5" text-anchor="end" font-family="Liberation Serif" font-size="12.2" fill="#545454" textLength="19.8" lengthAdjust="spacingAndGlyphs">500</text>
<rect x="603" y="588.70" width="254" height="1" fill="#ebebeb"/>
<text x="598.2" y="593.6" text-anchor="end" font-family="Liberation Serif" font-size="12.2" fill="#545454" textLength="26.4" lengthAdjust="spacingAndGlyphs">1000</text>
<text x="598.2" y="564.7" text-anchor="end" font-family="Liberation Serif" font-size="12.2" fill="#545454" textLength="26.4" lengthAdjust="spacingAndGlyphs">1500</text>
<polyline points="603.00,645.50 603.50,645.56 604.00,646.01 604.50,645.16 605.00,646.35 605.50,645.52 606.00,645.60 606.50,645.32 607.00,645.45 607.50,646.08 608.00,645.87 608.50,645.61 609.00,646.30 609.50,645.32 610.00,645.28 610.50,645.99 611.00,645.96 611.50,646.09 612.00,645.75 612.50,646.33 613.00,645.53 613.50,646.27 614.00,645.64 614.50,646.06 615.00,645.69 615.50,645.55 616.00,645.98 616.50,646.00 617.00,646.08 617.50,645.33 618.00,645.61 618.50,644.98 619.00,645.86 619.50,645.48 620.00,646.11 620.50,645.44 621.00,645.06 621.50,645.60 622.00,645.90 622.50,646.18 623.00,645.92 623.50,644.96 624.00,645.25 624.50,644.98 625.00,645.66 625.50,646.29 626.00,645.84 626.50,646.21 627.00,646.19 627.50,644.99 628.00,645.57 628.50,645.21 629.00,645.20 629.50,645.50 630.00,646.09 630.50,645.68 631.00,644.95 631.50,645.22 632.00,646.12 632.50,645.95 633.00,645.44 633.50,645.77 634.00,645.27 634.50,645.39 635.00,646.12 635.50,645.72 636.00,645.35 636.50,645.57 637.00,645.49 637.50,645.99 638.00,645.43 638.50,645.36 639.00,645.19 639.50,644.97 640.00,645.90 640.50,645.26 641.00,644.85 641.50,645.54 642.00,645.43 642.50,645.83 643.00,645.29 643.50,645.86 644.00,645.20 644.50,645.97 645.00,644.77 645.50,644.80 646.00,645.52 646.50,645.08 647.00,645.17 647.50,645.60 648.00,645.80 648.50,645.71 649.00,644.52 649.50,644.45 650.00,645.79 650.50,645.27 650.75,645.67 651.00,645.71 651.25,645.06 651.50,644.37 651.75,644.96 652.00,645.15 652.25,644.57 652.50,644.61 652.75,645.38 653.00,645.41 653.25,645.22 653.50,644.41 653.75,644.23 654.00,644.51 654.25,644.46 654.50,644.60 654.75,644.65 655.00,644.10 655.25,645.09 655.50,644.86 655.75,644.46 656.00,644.94 656.25,644.62 656.50,644.56 656.75,644.07 657.00,644.91 657.25,644.12 657.50,644.22 657.75,643.40 658.00,644.11 658.25,643.70 658.50,643.30 658.75,644.27 659.00,643.15 659.25,643.96 659.50,642.84 659.75,643.07 660.00,642.68 660.25,642.39 660.50,642.54 660.75,642.95 661.00,641.68 661.25,641.63 661.50,641.57 661.75,640.81 662.00,641.76 662.25,641.49 662.50,640.52 662.75,640.86 663.00,639.14 663.25,639.65 663.50,638.04 663.75,637.67 664.00,637.66 664.25,636.03 664.50,636.15 664.75,635.03 665.00,634.67 665.25,633.11 665.50,632.82 665.75,630.81 666.00,630.50 666.25,629.35 666.50,627.99 666.75,627.36 667.00,625.58 667.25,624.91 667.50,621.83 667.75,620.53 668.00,620.24 668.25,618.28 668.50,616.91 668.75,614.77 669.00,615.25 669.25,614.02 669.50,612.58 669.75,612.25 670.00,610.49 670.25,610.13 670.50,609.51 670.75,608.89 671.00,608.68 671.25,608.66 671.50,608.64 671.75,608.31 672.00,608.66 672.25,610.33 672.50,610.49 672.75,612.51 673.00,612.67 673.25,614.03 673.50,615.73 673.75,617.78 674.00,619.13 674.25,620.95 674.50,622.73 674.75,624.23 675.00,626.48 675.25,627.82 675.50,627.95 675.75,630.01 676.00,632.16 676.25,632.40 676.50,633.14 676.75,636.43 677.00,636.55 677.25,638.06 677.50,638.29 677.75,639.48 678.00,639.87 678.25,640.92 678.50,641.48 678.75,640.68 679.00,641.71 679.25,641.56 679.50,642.71 679.75,643.77 680.00,643.39 680.25,642.97 680.50,644.25 680.75,644.14 681.00,644.74 681.25,644.13 681.50,644.56 681.75,644.27 682.00,644.59 682.25,645.09 682.50,644.56 682.75,645.37 683.00,645.78 683.25,645.64 683.50,645.58 683.75,644.80 684.00,645.54 684.25,645.86 684.50,645.86 684.75,645.69 685.00,646.13 685.25,645.54 685.50,645.76 685.75,645.99 686.00,646.24 686.25,645.60 686.50,645.23 686.75,646.19 687.00,645.04 687.25,645.28 687.50,645.59 687.75,645.95 688.00,645.30 688.25,646.30 688.50,645.41 688.75,646.37 689.00,645.30 689.25,645.93 689.50,645.26 689.75,645.39 690.00,645.75 690.25,645.51 690.50,646.13 690.75,645.99 691.00,645.34 691.25,645.13 691.50,645.03 691.75,645.37 692.00,645.83 692.25,646.25 692.50,645.88 693.00,646.29 693.50,645.93 694.00,645.51 694.50,646.18 695.00,645.44 695.50,645.71 696.00,645.83 696.50,646.32 697.00,645.29 697.50,645.94 698.00,645.99 698.50,646.27 699.00,645.40 699.50,645.38 700.00,645.53 700.50,645.96 701.00,645.54 701.50,646.35 702.00,645.19 702.50,646.11 703.00,646.08 703.50,646.30 704.00,645.17 704.50,645.57 705.00,645.21 705.50,645.87 706.00,645.08 706.50,645.52 707.00,646.27 707.50,646.08 708.00,645.48 708.50,645.12 709.00,646.11 709.50,645.88 710.00,645.75 710.50,646.14 711.00,645.28 711.50,645.38 712.00,645.48 712.50,645.90 713.00,645.87 713.50,645.00 714.00,645.43 714.50,645.53 715.00,646.02 715.50,646.08 716.00,646.28 716.50,645.69 717.00,645.31 717.50,645.36 718.00,645.69 718.50,645.67 719.00,646.24 719.50,645.92 720.00,646.09 720.50,646.23 721.00,645.02 721.50,646.21 722.00,645.17 722.50,646.19 723.00,645.05 723.50,645.22 724.00,645.37 724.50,645.14 725.00,645.33 725.50,645.42 726.00,645.60 726.50,645.60 727.00,645.77 727.50,645.41 728.00,645.09 728.50,646.09 729.00,645.18 729.50,645.09 730.00,645.21 730.50,645.95 731.00,646.10 731.50,645.29 732.00,645.13 732.50,646.00 733.00,645.29 733.50,645.01 734.00,645.66 734.50,645.25 735.00,645.45 735.50,645.24 736.00,646.36 736.50,645.26 737.00,645.21 737.50,646.17 738.00,645.48 738.50,646.18 739.00,646.10 739.50,645.08 740.00,645.42 740.50,645.12 741.00,645.82 741.50,645.21 742.00,645.12 742.50,645.16 743.00,645.39 743.50,645.95 744.00,645.82 744.50,645.23 745.00,645.28 745.50,646.17 746.00,645.26 746.50,646.37 747.00,645.86 747.50,645.20 748.00,645.36 748.50,645.33 749.00,646.30 749.50,645.81 750.00,645.62 750.50,645.84 751.00,645.24 751.50,646.13 752.00,646.02 752.50,645.86 753.00,645.05 753.50,645.88 754.00,645.70 754.50,645.70 755.00,645.44 755.50,646.15 756.00,645.80 756.50,645.32 757.00,645.88 757.50,645.05 758.00,645.77 758.50,645.30 759.00,645.70 759.50,645.88 760.00,645.84 760.50,645.73 761.00,645.65 761.50,646.15 762.00,645.68 762.50,645.71 763.00,645.45 763.50,646.33 764.00,646.05 764.50,645.75 765.00,645.05 765.50,645.54 766.00,646.24 766.50,646.12 767.00,645.58 767.50,645.19 768.00,645.04 768.50,645.75 769.00,645.60 769.50,645.57 770.00,645.78 770.50,645.35 771.00,646.02 771.50,646.08 772.00,645.65 772.50,645.20 773.00,645.55 773.50,645.99 774.00,645.78 774.50,645.62 775.00,645.28 775.50,645.57 776.00,645.13 776.50,646.15 777.00,645.45 777.50,645.36 778.00,645.43 778.50,645.52 779.00,645.15 779.50,645.86 780.00,645.47 780.50,645.69 781.00,645.49 781.50,645.98 782.00,646.01 782.50,645.19 783.00,645.49 783.50,645.85 784.00,645.49 784.50,645.35 785.00,645.17 785.50,645.12 786.00,646.22 786.50,645.91 787.00,645.55 787.50,645.65 788.00,645.54 788.50,645.39 789.00,645.24 789.50,645.50 790.00,646.29 790.50,645.45 791.00,645.06 791.50,645.71 792.00,645.04 792.50,646.05 793.00,645.89 793.50,646.22 794.00,645.78 794.50,646.06 795.00,646.25 795.50,646.31 796.00,645.94 796.50,645.79 797.00,646.36 797.50,645.02 798.00,646.35 798.50,645.89 799.00,645.87 799.50,645.74 800.00,646.14 800.50,645.59 801.00,645.36 801.50,646.10 802.00,646.24 802.50,645.82 803.00,646.10 803.50,645.98 804.00,645.55 804.50,645.80 805.00,645.64 805.50,645.20 806.00,646.24 806.50,645.47 807.00,645.08 807.50,645.18 808.00,645.86 808.50,645.23 809.00,645.20 809.50,645.82 810.00,645.68 810.50,645.14 811.00,645.15 811.50,645.31 812.00,645.70 812.50,645.69 813.00,645.63 813.50,645.34 814.00,646.01 814.50,646.07 815.00,645.81 815.50,645.33 816.00,646.03 816.50,645.67 817.00,645.51 817.50,645.57 818.00,645.86 818.50,645.96 819.00,646.25 819.50,645.37 820.00,645.90 820.50,646.17 821.00,645.60 821.50,645.29 822.00,645.14 822.50,645.43 823.00,646.10 823.50,645.08 824.00,645.94 824.50,646.04 825.00,645.49 825.50,645.41 826.00,646.31 826.50,645.56 827.00,645.63 827.50,645.83 828.00,645.12 828.50,645.36 829.00,645.16 829.50,645.69 830.00,645.98 830.50,645.50 831.00,645.67 831.50,645.56 832.00,645.13 832.50,645.24 833.00,645.16 833.50,645.64 834.00,645.08 834.50,645.65 835.00,645.76 835.50,645.78 836.00,646.29 836.50,646.36 837.00,646.27 837.50,645.96 838.00,645.63 838.50,645.39 839.00,645.11 839.50,646.32 840.00,645.44 840.50,645.50 841.00,645.69 841.50,645.64 842.00,645.22 842.50,645.60 843.00,645.18 843.50,645.19 844.00,645.83 844.50,645.04 845.00,645.66 845.50,645.55 846.00,645.48 846.50,645.87 847.00,645.39 847.50,645.37 848.00,645.34 848.50,645.95 849.00,646.25 849.50,645.28 850.00,646.11 850.50,645.49 851.00,645.66 851.50,645.20 852.00,646.38 852.50,646.39 853.00,645.16 853.50,646.40 854.00,646.03 854.50,645.33 855.00,646.24 855.50,645.38 856.00,645.87 856.50,645.83 857.00,645.49" fill="none" stroke="#0000ff" stroke-width="1" stroke-linejoin="round"/>
<rect x="602.25" y="560.25" width="255.6" height="86.8" fill="none" stroke="#808080" stroke-width="1.8"/>
<rect x="765.75" y="568.6" width="13.5" height="10.6" fill="#fff" stroke="#ccc" stroke-width="1"/>
<rect x="767" y="569.9" width="11" height="8" fill="#0000ff"/>
<text x="783.6" y="577.8" font-family="Liberation Serif" font-size="12" fill="#888" textLength="67" lengthAdjust="spacingAndGlyphs">aida03 1.8.L</text>
<path d="M857.1 551.0 L866.9 560.8 L857.1 570.5999999999999 L847.3000000000001 560.8 Z" fill="#ff0000"/>
<rect x="1118.20" y="560.4" width="1" height="86.6" fill="#ebebeb"/>
<text x="1118.70" y="660.6" text-anchor="middle" font-family="Liberation Serif" font-size="12.2" fill="#545454" textLength="33" lengthAdjust="spacingAndGlyphs">21000</text>
<rect x="1158.58" y="560.4" width="1" height="86.6" fill="#ebebeb"/>
<text x="1159.08" y="660.6" text-anchor="middle" font-family="Liberation Serif" font-size="12.2" fill="#545454" textLength="33" lengthAdjust="spacingAndGlyphs">21500</text>
<rect x="1198.96" y="560.4" width="1" height="86.6" fill="#ebebeb"/>
<text x="1199.46" y="660.6" text-anchor="middle" font-family="Liberation Serif" font-size="12.2" fill="#545454" textLength="33" lengthAdjust="spacingAndGlyphs">22000</text>
<rect x="1239.34" y="560.4" width="1" height="86.6" fill="#ebebeb"/>
<text x="1239.84" y="660.6" text-anchor="middle" font-family="Liberation Serif" font-size="12.2" fill="#545454" textLength="33" lengthAdjust="spacingAndGlyphs">22500</text>
<rect x="1279.72" y="560.4" width="1" height="86.6" fill="#ebebeb"/>
<text x="1280.22" y="660.6" text-anchor="middle" font-family="Liberation Serif" font-size="12.2" fill="#545454" textLength="33" lengthAdjust="spacingAndGlyphs">23000</text>
<rect x="1320.10" y="560.4" width="1" height="86.6" fill="#ebebeb"/>
<text x="1320.60" y="660.6" text-anchor="middle" font-family="Liberation Serif" font-size="12.2" fill="#545454" textLength="33" lengthAdjust="spacingAndGlyphs">23500</text>
<text x="1074.2" y="651.4" text-anchor="end" font-family="Liberation Serif" font-size="12.2" fill="#545454" textLength="6.6" lengthAdjust="spacingAndGlyphs">0</text>
<rect x="1079" y="617.60" width="254" height="1" fill="#ebebeb"/>
<text x="1074.2" y="622.5" text-anchor="end" font-family="Liberation Serif" font-size="12.2" fill="#545454" textLength="19.8" lengthAdjust="spacingAndGlyphs">500</text>
<rect x="1079" y="588.70" width="254" height="1" fill="#ebebeb"/>
<text x="1074.2" y="593.6" text-anchor="end" font-family="Liberation Serif" font-size="12.2" fill="#545454" textLength="26.4" lengthAdjust="spacingAndGlyphs">1000</text>
<text x="1074.2" y="564.7" text-anchor="end" font-family="Liberation Serif" font-size="12.2" fill="#545454" textLength="26.4" lengthAdjust="spacingAndGlyphs">1500</text>
<polyline points="1079.00,645.29 1079.50,645.24 1080.00,646.15 1080.50,645.78 1081.00,645.12 1081.50,645.54 1082.00,645.07 1082.50,645.44 1083.00,645.47 1083.50,645.74 1084.00,646.19 1084.50,645.55 1085.00,645.37 1085.50,645.63 1086.00,645.48 1086.50,645.30 1087.00,645.87 1087.50,646.35 1088.00,646.38 1088.50,645.87 1089.00,646.34 1089.50,646.27 1090.00,645.90 1090.50,645.55 1091.00,646.38 1091.50,645.45 1092.00,645.01 1092.50,645.32 1093.00,645.68 1093.50,645.82 1094.00,646.05 1094.50,645.13 1095.00,645.26 1095.50,645.91 1096.00,645.49 1096.50,645.00 1097.00,645.21 1097.50,645.41 1098.00,645.35 1098.50,645.46 1099.00,645.83 1099.50,645.43 1100.00,645.32 1100.50,646.23 1101.00,645.35 1101.50,645.75 1102.00,646.38 1102.50,645.91 1103.00,645.42 1103.50,646.00 1104.00,645.81 1104.50,645.01 1105.00,645.43 1105.50,645.12 1106.00,646.20 1106.50,646.37 1107.00,645.84 1107.50,645.53 1108.00,646.31 1108.50,645.63 1109.00,645.59 1109.50,645.90 1110.00,646.00 1110.50,646.15 1111.00,645.18 1111.50,645.94 1112.00,645.16 1112.50,645.07 1113.00,645.45 1113.50,645.08 1114.00,645.36 1114.50,646.35 1115.00,646.04 1115.50,646.15 1116.00,645.79 1116.50,646.00 1117.00,645.31 1117.50,645.09 1118.00,646.10 1118.50,645.95 1119.00,645.35 1119.50,645.65 1120.00,645.96 1120.50,645.75 1121.00,645.37 1121.50,645.01 1122.00,646.14 1122.50,645.32 1123.00,645.69 1123.50,645.93 1124.00,645.36 1124.50,645.64 1125.00,645.74 1125.50,645.78 1126.00,645.95 1126.50,645.61 1127.00,645.22 1127.50,646.14 1128.00,645.66 1128.50,646.24 1129.00,645.01 1129.50,645.60 1130.00,645.95 1130.50,646.28 1131.00,645.88 1131.50,646.30 1132.00,645.06 1132.50,646.07 1133.00,645.89 1133.50,646.15 1134.00,645.09 1134.50,645.05 1135.00,645.64 1135.50,645.43 1136.00,646.29 1136.50,645.25 1137.00,646.34 1137.50,646.33 1138.00,646.14 1138.50,646.07 1139.00,645.39 1139.50,645.68 1140.00,646.34 1140.50,646.21 1141.00,645.97 1141.50,645.20 1142.00,645.71 1142.50,646.13 1143.00,646.33 1143.50,645.08 1144.00,645.96 1144.50,645.68 1145.00,645.49 1145.50,645.13 1146.00,645.03 1146.50,645.42 1147.00,646.10 1147.50,645.19 1148.00,646.34 1148.50,646.18 1149.00,645.08 1149.50,645.21 1150.00,645.25 1150.50,645.57 1151.00,645.35 1151.50,645.42 1152.00,646.01 1152.50,646.14 1153.00,646.19 1153.50,646.10 1154.00,644.97 1154.50,645.64 1155.00,645.97 1155.50,645.46 1156.00,646.08 1156.50,645.28 1157.00,645.91 1157.50,645.92 1158.00,645.51 1158.50,646.08 1159.00,645.89 1159.50,646.04 1160.00,646.17 1160.50,645.52 1161.00,645.76 1161.50,645.94 1162.00,646.23 1162.50,645.43 1163.00,644.83 1163.50,646.02 1164.00,646.15 1164.50,645.01 1165.00,646.15 1165.50,644.98 1166.00,645.74 1166.50,644.99 1167.00,644.88 1167.50,645.64 1168.00,645.77 1168.50,645.95 1169.00,645.71 1169.50,645.48 1170.00,645.18 1170.50,644.87 1171.00,645.30 1171.50,644.75 1172.00,645.16 1172.50,645.14 1173.00,645.55 1173.50,644.87 1174.00,644.25 1174.50,644.72 1175.00,645.19 1175.50,644.34 1175.75,644.70 1176.00,645.18 1176.25,645.19 1176.50,644.49 1176.75,645.05 1177.00,644.80 1177.25,644.95 1177.50,644.36 1177.75,644.98 1178.00,644.49 1178.25,644.18 1178.50,643.64 1178.75,644.18 1179.00,644.23 1179.25,644.53 1179.50,643.75 1179.75,644.32 1180.00,643.13 1180.25,643.49 1180.50,642.88 1180.75,643.48 1181.00,643.43 1181.25,643.30 1181.50,643.39 1181.75,642.50 1182.00,642.65 1182.25,641.95 1182.50,641.50 1182.75,641.25 1183.00,639.70 1183.25,640.15 1183.50,639.61 1183.75,638.35 1184.00,637.85 1184.25,636.68 1184.50,635.77 1184.75,632.88 1185.00,632.93 1185.25,630.11 1185.50,630.06 1185.75,626.77 1186.00,625.00 1186.25,623.69 1186.50,619.69 1186.75,618.37 1187.00,616.57 1187.25,612.22 1187.50,610.81 1187.75,608.33 1188.00,605.33 1188.25,603.35 1188.50,601.40 1188.75,600.47 1189.00,598.82 1189.25,597.25 1189.50,596.52 1189.75,596.56 1190.00,598.54 1190.25,598.50 1190.50,600.50 1190.75,601.02 1191.00,604.60 1191.25,606.48 1191.50,608.76 1191.75,609.70 1192.00,613.16 1192.25,616.26 1192.50,618.82 1192.75,621.25 1193.00,623.83 1193.25,625.60 1193.50,629.36 1193.75,629.35 1194.00,632.34 1194.25,633.04 1194.50,636.22 1194.75,637.11 1195.00,637.92 1195.25,639.32 1195.50,640.26 1195.75,640.32 1196.00,641.72 1196.25,642.83 1196.50,642.48 1196.75,642.47 1197.00,643.81 1197.25,643.51 1197.50,644.16 1197.75,643.89 1198.00,644.04 1198.25,644.88 1198.50,644.61 1198.75,644.82 1199.00,645.33 1199.25,645.05 1199.50,645.52 1199.75,645.87 1200.00,645.71 1200.25,646.16 1200.50,646.03 1200.75,645.14 1201.00,646.18 1201.25,646.04 1201.50,645.22 1201.75,646.35 1202.00,645.73 1202.25,645.20 1202.50,646.19 1202.75,645.74 1203.00,646.18 1203.25,646.13 1203.50,645.63 1203.75,646.02 1204.00,646.30 1204.25,645.78 1204.75,646.22 1205.25,646.38 1205.75,646.34 1206.25,645.72 1206.75,645.41 1207.25,645.42 1207.75,645.99 1208.25,645.73 1208.75,646.25 1209.25,646.31 1209.75,645.49 1210.25,645.57 1210.75,645.54 1211.25,646.00 1211.75,646.03 1212.25,646.34 1212.75,645.11 1213.25,645.38 1213.75,646.03 1214.25,645.69 1214.75,645.68 1215.25,645.86 1215.75,645.73 1216.25,645.12 1216.75,645.15 1217.25,645.99 1217.75,646.23 1218.25,646.31 1218.75,645.36 1219.25,646.14 1219.75,645.42 1220.25,645.78 1220.75,645.74 1221.25,645.10 1221.75,645.65 1222.25,645.14 1222.75,645.84 1223.25,645.96 1223.75,645.47 1224.25,645.67 1224.75,646.39 1225.25,645.43 1225.75,645.26 1226.25,645.10 1226.75,645.53 1227.25,646.12 1227.75,646.10 1228.25,645.15 1228.75,645.09 1229.25,646.34 1229.75,645.00 1230.25,645.31 1230.75,645.97 1231.25,645.19 1231.75,645.84 1232.25,646.38 1232.75,645.54 1233.25,645.44 1233.75,646.15 1234.25,645.19 1234.75,645.65 1235.25,646.19 1235.75,645.97 1236.25,645.08 1236.75,646.08 1237.25,645.09 1237.75,645.98 1238.25,646.31 1238.75,645.63 1239.25,646.07 1239.75,645.73 1240.25,645.48 1240.75,645.11 1241.25,646.24 1241.75,646.37 1242.25,646.04 1242.75,646.19 1243.25,645.26 1243.75,645.70 1244.25,645.35 1244.75,646.29 1245.25,646.12 1245.75,645.03 1246.25,645.95 1246.75,645.48 1247.25,645.85 1247.75,645.10 1248.25,645.15 1248.75,645.12 1249.25,645.49 1249.75,646.09 1250.25,645.94 1250.75,645.02 1251.25,645.46 1251.75,646.05 1252.25,645.87 1252.75,645.80 1253.25,646.11 1253.75,646.30 1254.25,645.67 1254.75,645.63 1255.25,645.86 1255.75,645.76 1256.25,645.33 1256.75,646.17 1257.25,645.03 1257.75,646.34 1258.25,646.40 1258.75,645.16 1259.25,645.47 1259.75,645.38 1260.25,645.28 1260.75,645.74 1261.25,646.30 1261.75,645.12 1262.25,645.37 1262.75,645.15 1263.25,645.51 1263.75,645.74 1264.25,645.56 1264.75,645.28 1265.25,645.79 1265.75,645.41 1266.25,645.26 1266.75,646.06 1267.25,646.23 1267.75,645.69 1268.25,645.74 1268.75,645.78 1269.25,645.90 1269.75,646.03 1270.25,645.59 1270.75,646.19 1271.25,645.38 1271.75,646.10 1272.25,645.04 1272.75,645.28 1273.25,645.48 1273.75,645.03 1274.25,646.40 1274.75,645.49 1275.25,645.74 1275.75,645.32 1276.25,646.28 1276.75,645.94 1277.25,645.42 1277.75,645.55 1278.25,646.23 1278.75,645.43 1279.25,645.14 1279.75,645.25 1280.25,646.16 1280.75,646.16 1281.25,645.07 1281.75,645.47 1282.25,645.67 1282.75,646.01 1283.25,646.23 1283.75,645.21 1284.25,646.12 1284.75,646.07 1285.25,646.36 1285.75,646.30 1286.25,646.26 1286.75,646.10 1287.25,646.35 1287.75,645.92 1288.25,646.13 1288.75,645.18 1289.25,645.71 1289.75,645.99 1290.25,645.70 1290.75,646.39 1291.25,645.87 1291.75,645.41 1292.25,645.55 1292.75,645.40 1293.25,645.61 1293.75,645.62 1294.25,645.23 1294.75,646.34 1295.25,645.70 1295.75,645.82 1296.25,645.15 1296.75,645.32 1297.25,645.80 1297.75,645.14 1298.25,645.42 1298.75,645.63 1299.25,646.01 1299.75,645.02 1300.25,646.09 1300.75,645.26 1301.25,645.97 1301.75,645.46 1302.25,645.50 1302.75,645.56 1303.25,645.29 1303.75,646.17 1304.25,645.02 1304.75,645.26 1305.25,646.18 1305.75,645.25 1306.25,645.12 1306.75,645.12 1307.25,646.27 1307.75,645.27 1308.25,645.91 1308.75,645.24 1309.25,645.82 1309.75,645.01 1310.25,645.91 1310.75,646.14 1311.25,645.39 1311.75,645.36 1312.25,645.60 1312.75,645.82 1313.25,645.65 1313.75,645.16 1314.25,645.49 1314.75,645.20 1315.25,645.05 1315.75,646.27 1316.25,646.33 1316.75,645.71 1317.25,645.95 1317.75,646.27 1318.25,645.37 1318.75,646.24 1319.25,645.02 1319.75,645.17 1320.25,646.39 1320.75,645.58 1321.25,645.23 1321.75,645.52 1322.25,645.34 1322.75,645.72 1323.25,645.02 1323.75,645.30 1324.25,645.51 1324.75,645.71 1325.25,645.78 1325.75,645.33 1326.25,645.03 1326.75,645.28 1327.25,645.70 1327.75,645.29 1328.25,646.12 1328.75,645.18 1329.25,645.93 1329.75,645.86 1330.25,645.51 1330.75,645.14 1331.25,645.71 1331.75,645.02 1332.25,645.11 1332.75,646.36" fill="none" stroke="#0000ff" stroke-width="1" stroke-linejoin="round"/>
<rect x="1078.25" y="560.25" width="255.6" height="86.8" fill="none" stroke="#808080" stroke-width="1.8"/>
<rect x="1241.75" y="568.6" width="13.5" height="10.6" fill="#fff" stroke="#ccc" stroke-width="1"/>
<rect x="1243" y="569.9" width="11" height="8" fill="#0000ff"/>
<text x="1259.6" y="577.8" font-family="Liberation Serif" font-size="12" fill="#888" textLength="67" lengthAdjust="spacingAndGlyphs">aida12 1.8.L</text>
<path d="M1333.1 551.0 L1342.8999999999999 560.8 L1333.1 570.5999999999999 L1323.3 560.8 Z" fill="#ff0000"/>
<rect x="166.20" y="682.4" width="1" height="86.6" fill="#ebebeb"/>
<text x="166.70" y="782.6" text-anchor="middle" font-family="Liberation Serif" font-size="12.2" fill="#545454" textLength="33" lengthAdjust="spacingAndGlyphs">21000</text>
<rect x="206.58" y="682.4" width="1" height="86.6" fill="#ebebeb"/>
<text x="207.08" y="782.6" text-anchor="middle" font-family="Liberation Serif" font-size="12.2" fill="#545454" textLength="33" lengthAdjust="spacingAndGlyphs">21500</text>
<rect x="246.96" y="682.4" width="1" height="86.6" fill="#ebebeb"/>
<text x="247.46" y="782.6" text-anchor="middle" font-family="Liberation Serif" font-size="12.2" fill="#545454" textLength="33" lengthAdjust="spacingAndGlyphs">22000</text>
<rect x="287.34" y="682.4" width="1" height="86.6" fill="#ebebeb"/>
<text x="287.84" y="782.6" text-anchor="middle" font-family="Liberation Serif" font-size="12.2" fill="#545454" textLength="33" lengthAdjust="spacingAndGlyphs">22500</text>
<rect x="327.72" y="682.4" width="1" height="86.6" fill="#ebebeb"/>
<text x="328.22" y="782.6" text-anchor="middle" font-family="Liberation Serif" font-size="12.2" fill="#545454" textLength="33" lengthAdjust="spacingAndGlyphs">23000</text>
<rect x="368.10" y="682.4" width="1" height="86.6" fill="#ebebeb"/>
<text x="368.60" y="782.6" text-anchor="middle" font-family="Liberation Serif" font-size="12.2" fill="#545454" textLength="33" lengthAdjust="spacingAndGlyphs">23500</text>
<text x="122.2" y="773.4" text-anchor="end" font-family="Liberation Serif" font-size="12.2" fill="#545454" textLength="6.6" lengthAdjust="spacingAndGlyphs">0</text>
<rect x="127" y="739.60" width="254" height="1" fill="#ebebeb"/>
<text x="122.2" y="744.5" text-anchor="end" font-family="Liberation Serif" font-size="12.2" fill="#545454" textLength="19.8" lengthAdjust="spacingAndGlyphs">500</text>
<rect x="127" y="710.70" width="254" height="1" fill="#ebebeb"/>
<text x="122.2" y="715.6" text-anchor="end" font-family="Liberation Serif" font-size="12.2" fill="#545454" textLength="26.4" lengthAdjust="spacingAndGlyphs">1000</text>
<text x="122.2" y="686.7" text-anchor="end" font-family="Liberation Serif" font-size="12.2" fill="#545454" textLength="26.4" lengthAdjust="spacingAndGlyphs">1500</text>
<polyline points="127.00,768.23 127.50,767.51 128.00,767.58 128.50,767.90 129.00,767.83 129.50,768.03 130.00,767.50 130.50,767.26 131.00,767.33 131.50,767.63 132.00,768.30 132.50,768.27 133.00,767.19 133.50,767.11 134.00,768.18 134.50,767.50 135.00,767.13 135.50,768.13 136.00,768.32 136.50,767.90 137.00,768.10 137.50,767.03 138.00,766.98 138.50,768.34 139.00,768.10 139.50,767.38 140.00,767.89 140.50,767.93 141.00,768.23 141.50,767.82 142.00,767.07 142.50,767.87 143.00,767.25 143.50,768.28 144.00,767.10 144.50,767.73 145.00,768.28 145.50,767.33 146.00,767.21 146.50,767.71 147.00,767.59 147.50,767.62 148.00,768.36 148.50,767.28 149.00,767.66 149.50,768.02 150.00,767.81 150.50,767.35 151.00,767.53 151.50,767.05 152.00,767.25 152.50,767.57 153.00,767.63 153.50,768.00 154.00,767.93 154.50,768.18 155.00,767.14 155.50,768.11 156.00,767.45 156.50,767.41 157.00,767.53 157.50,767.61 158.00,768.37 158.50,767.01 159.00,767.31 159.50,768.32 160.00,766.99 160.50,767.95 161.00,767.43 161.50,767.18 162.00,767.72 162.50,767.92 163.00,768.19 163.50,767.90 164.00,767.52 164.50,767.52 165.00,767.15 165.50,767.14 166.00,767.27 166.50,768.11 167.00,768.28 167.50,767.26 168.00,767.75 168.50,767.43 169.00,768.28 169.50,767.14 170.00,767.09 170.50,768.34 171.00,767.30 171.50,767.16 172.00,768.24 172.50,767.90 173.00,768.36 173.50,767.71 174.00,767.55 174.50,768.35 175.00,767.76 175.50,767.10 176.00,767.32 176.50,768.06 177.00,766.97 177.50,768.03 178.00,767.95 178.50,767.96 179.00,767.82 179.50,768.23 180.00,768.23 180.50,768.02 181.00,768.29 181.50,767.01 182.00,767.88 182.50,768.03 183.00,766.99 183.50,768.29 184.00,767.24 184.50,767.54 185.00,767.40 185.50,767.66 186.00,768.09 186.50,767.46 187.00,766.95 187.50,767.97 188.00,767.61 188.50,768.23 189.00,767.04 189.50,767.10 190.00,767.61 190.50,766.97 191.00,767.51 191.50,767.90 192.00,768.12 192.50,767.54 193.00,767.49 193.50,767.61 194.00,767.71 194.50,766.97 195.00,767.64 195.50,767.44 196.00,767.67 196.50,767.78 197.00,768.01 197.50,768.16 198.00,767.32 198.50,767.14 199.00,768.02 199.50,767.79 200.00,768.32 200.50,767.00 201.00,767.71 201.50,768.19 202.00,767.10 202.50,767.86 203.00,767.90 203.50,767.21 204.00,767.91 204.50,768.02 205.00,767.58 205.50,767.55 206.00,767.21 206.50,767.69 207.00,767.06 207.50,767.80 208.00,767.92 208.50,766.98 209.00,767.13 209.50,767.61 210.00,768.13 210.50,767.11 211.00,767.93 211.50,768.07 212.00,767.21 212.50,767.87 213.00,767.81 213.50,767.16 214.00,767.20 214.50,767.90 215.00,767.38 215.50,767.66 216.00,768.18 216.50,767.52 217.00,768.21 217.50,768.18 218.00,767.18 218.50,767.95 219.00,767.63 219.50,767.67 220.00,766.93 220.50,767.46 221.00,766.90 221.50,767.89 222.00,767.48 222.50,767.75 223.00,767.99 223.50,767.31 224.00,766.97 224.50,767.18 225.00,766.84 225.50,767.97 226.00,767.57 226.50,767.40 227.00,768.01 227.50,767.07 228.00,767.85 228.50,767.38 229.00,767.93 229.50,767.24 230.00,767.46 230.25,767.72 230.50,766.81 230.75,767.04 231.00,767.83 231.25,767.66 231.50,767.44 231.75,768.03 232.00,767.13 232.25,766.80 232.50,767.97 232.75,767.05 233.00,767.26 233.25,767.61 233.50,768.16 233.75,767.02 234.00,767.79 234.25,767.92 234.50,767.05 234.75,766.81 235.00,768.01 235.25,768.02 235.50,766.83 235.75,767.93 236.00,767.42 236.25,768.10 236.50,767.77 236.75,766.79 237.00,767.51 237.25,767.38 237.50,767.58 237.75,766.83 238.00,767.34 238.25,767.72 238.50,767.45 238.75,768.02 239.00,767.24 239.25,766.80 239.50,767.35 239.75,767.70 240.00,767.11 240.25,767.70 240.50,767.33 240.75,767.47 241.00,767.09 241.25,767.85 241.50,767.42 241.75,766.84 242.00,767.49 242.25,767.74 242.50,767.79 242.75,767.61 243.00,767.91 243.25,767.43 243.50,767.71 243.75,767.39 244.00,767.57 244.25,767.24 244.50,767.60 244.75,767.96 245.00,767.33 245.25,768.00 245.50,766.82 245.75,767.05 246.00,767.70 246.25,766.99 246.50,767.39 246.75,767.26 247.00,767.79 247.25,766.75 247.50,767.63 247.75,767.59 248.00,767.49 248.25,768.03 248.50,767.27 248.75,767.56 249.00,767.45 249.25,766.77 249.50,767.02 249.75,767.77 250.00,766.93 250.25,766.74 250.50,767.25 250.75,767.24 251.00,767.42 251.25,767.30 251.50,766.94 251.75,766.93 252.00,767.04 252.25,766.93 252.50,767.21 252.75,766.58 253.00,767.59 253.25,767.49 253.50,766.80 253.75,766.53 254.00,767.16 254.25,767.72 254.50,766.62 254.75,766.74 255.00,767.02 255.25,767.40 255.50,766.59 255.75,766.75 256.00,766.89 256.25,767.32 256.50,767.56 256.75,767.16 257.00,767.46 257.25,767.52 257.50,767.21 257.75,767.59 258.00,767.22 258.25,767.36 258.50,766.72 258.75,767.09 259.00,766.70 259.25,766.73 259.50,767.43 259.75,766.45 260.00,766.55 260.25,766.46 260.50,767.04 260.75,766.68 261.00,766.59 261.25,766.37 261.50,767.17 261.75,767.15 262.00,767.44 262.25,766.87 262.50,767.29 262.75,767.28 263.00,767.03 263.25,766.05 263.50,766.08 263.75,766.03 264.00,766.56 264.25,766.55 264.50,767.01 264.75,766.06 265.00,765.93 265.25,766.89 265.50,766.88 265.75,766.09 266.00,766.58 266.25,766.52 266.50,766.11 266.75,766.77 267.00,766.72 267.25,766.23 267.50,766.43 267.75,765.53 268.00,766.14 268.25,765.39 268.50,766.63 268.75,765.56 269.00,765.59 269.25,766.22 269.50,765.50 269.75,765.83 270.00,766.10 270.25,766.33 270.50,765.46 270.75,765.15 271.00,765.91 271.25,764.83 271.50,765.93 271.75,765.08 272.00,765.32 272.25,765.78 272.50,765.66 272.75,765.50 273.00,765.50 273.25,764.73 273.50,764.59 273.75,764.20 274.00,764.05 274.25,765.03 274.50,764.97 274.75,764.70 275.00,764.76 275.25,764.15 275.50,764.64 275.75,763.98 276.00,763.89 276.25,763.28 276.50,763.58 276.75,763.73 277.00,764.22 277.25,763.93 277.50,764.00 277.75,763.95 278.00,763.25 278.25,762.67 278.50,762.75 278.75,762.54 279.00,763.68 279.25,763.64 279.50,761.81 279.75,763.35 280.00,762.75 280.25,762.51 280.50,762.44 280.75,761.58 281.00,762.61 281.25,761.32 281.50,761.67 281.75,762.43 282.00,761.06 282.25,761.11 282.50,761.15 282.75,760.41 283.00,760.69 283.25,760.80 283.50,761.32 283.75,759.87 284.00,760.80 284.25,760.22 284.50,759.77 284.75,759.49 285.00,760.06 285.25,758.94 285.50,758.79 285.75,760.01 286.00,759.53 286.25,758.51 286.50,759.66 286.75,759.11 287.00,758.50 287.25,758.41 287.50,759.02 287.75,757.55 288.00,758.31 288.25,758.98 288.50,758.59 288.75,757.88 289.00,758.45 289.25,757.83 289.50,758.38 289.75,757.34 290.00,757.71 290.25,758.50 290.50,756.95 290.75,758.01 291.00,757.25 291.25,756.41 291.50,757.06 291.75,756.15 292.00,756.70 292.25,756.21 292.50,755.95 292.75,757.23 293.00,756.82 293.25,756.43 293.50,757.35 293.75,756.16 294.00,756.56 294.25,757.08 294.50,757.16 294.75,756.28 295.00,757.04 295.25,756.61 295.50,756.65 295.75,756.98 296.00,757.00 296.25,757.03 296.50,756.91 296.75,756.30 297.00,756.95 297.25,756.04 297.50,756.61 297.75,757.72 298.00,756.44 298.25,757.60 298.50,757.10 298.75,756.97 299.00,757.53 299.25,757.49 299.50,758.00 299.75,758.58 300.00,758.85 300.25,759.35 300.50,758.17 300.75,759.48 301.00,759.48 301.25,759.76 301.50,759.51 301.75,760.65 302.00,759.09 302.25,759.81 302.50,761.04 302.75,760.41 303.00,760.75 303.25,761.11 303.50,761.54 303.75,760.52 304.00,761.70 304.25,761.21 304.50,762.60 304.75,762.62 305.00,762.59 305.25,761.75 305.50,762.97 305.75,762.43 306.00,763.13 306.25,762.69 306.50,762.36 306.75,763.10 307.00,763.63 307.25,763.87 307.50,763.22 307.75,764.57 308.00,763.90 308.25,764.82 308.50,765.07 308.75,764.87 309.00,764.88 309.25,765.41 309.50,765.53 309.75,765.77 310.00,765.83 310.25,764.64 310.50,765.51 310.75,765.29 311.00,765.84 311.25,766.19 311.50,766.10 311.75,765.79 312.00,766.50 312.25,766.43 312.50,766.35 312.75,766.16 313.00,766.46 313.25,766.53 313.50,765.84 313.75,766.13 314.00,766.62 314.25,766.91 314.50,766.19 314.75,766.48 315.00,766.82 315.25,767.04 315.50,766.76 315.75,766.84 316.00,767.10 316.25,767.44 316.50,767.30 316.75,767.26 317.00,766.68 317.25,767.47 317.50,767.36 317.75,767.46 318.00,766.83 318.25,767.60 318.50,767.12 318.75,766.83 319.00,767.29 319.25,767.23 319.50,767.52 319.75,767.11 320.00,767.20 320.25,767.54 320.50,767.14 320.75,767.84 321.00,768.08 321.25,766.87 321.50,767.25 321.75,767.11 322.00,767.60 322.25,767.99 322.50,767.49 322.75,767.57 323.00,767.89 323.25,767.24 323.50,767.71 323.75,767.76 324.00,767.97 324.25,767.94 324.50,767.70 324.75,767.13 325.00,767.46 325.25,766.98 325.50,767.02 325.75,768.05 326.00,767.18 326.25,767.92 326.50,768.25 326.75,767.79 327.00,767.02 327.25,768.05 327.50,767.58 327.75,767.03 328.00,767.92 328.25,767.68 328.50,768.19 328.75,767.65 329.00,767.08 329.25,767.76 329.50,767.48 329.75,767.74 330.00,768.17 330.25,767.49 330.50,767.01 330.75,768.10 331.00,768.24 331.25,767.90 331.50,768.11 331.75,768.12 332.00,768.35 332.25,767.82 332.50,767.69 332.75,767.11 333.00,767.63 333.25,767.47 333.50,768.23 333.75,768.10 334.00,768.03 334.25,768.10 334.50,767.83 334.75,767.40 335.00,767.28 335.25,767.22 335.50,767.83 335.75,767.10 336.00,767.63 336.25,768.08 336.50,767.97 336.75,767.87 337.00,767.17 337.25,768.38 337.50,767.61 337.75,767.12 338.00,767.66 338.25,767.38 338.50,768.19 338.75,768.01 339.00,767.39 339.25,767.27 339.50,767.62 339.75,767.18 340.00,768.24 340.25,768.18 340.50,767.92 340.75,768.28 341.00,767.89 341.25,768.10 341.50,767.39 341.75,767.69 342.00,768.37 342.25,767.34 342.50,768.32 342.75,767.18 343.00,767.55 343.25,767.48 343.50,767.77 343.75,767.34 344.00,768.02 344.25,767.82 344.50,767.85 344.75,768.10 345.00,768.38 345.25,768.26 345.50,767.81 345.75,768.21 346.00,767.29 346.25,767.39 346.50,767.28 346.75,767.94 347.00,767.35 347.25,767.21 347.50,767.55 347.75,767.18 348.00,768.16 348.25,767.83 348.50,767.96 348.75,767.99 349.00,767.18 349.25,767.60 349.50,768.16 349.75,768.10 350.00,767.19 350.25,767.75 350.50,767.11 350.75,767.19 351.00,767.73 351.25,768.27 351.50,767.57 351.75,767.22 352.00,767.46 352.25,768.06 352.50,767.47 352.75,767.75 353.00,767.46 353.25,768.09 353.50,767.28 353.75,768.39 354.00,767.07 354.25,767.28 354.50,767.41 354.75,767.85 355.00,767.07 355.25,767.40 355.50,767.32 355.75,767.02 356.00,767.80 356.25,768.29 356.50,768.13 356.75,767.38 357.00,767.78 357.25,767.23 357.50,767.86 357.75,767.43 358.00,768.36 358.25,767.90 358.50,767.54 358.75,767.61 359.00,767.05 359.25,767.17 359.50,768.22 359.75,768.15 360.00,767.33 360.25,767.60 360.75,768.36 361.25,768.23 361.75,767.65 362.25,767.71 362.75,768.14 363.25,767.02 363.75,767.54 364.25,767.81 364.75,768.30 365.25,768.06 365.75,768.19 366.25,767.93 366.75,767.95 367.25,767.89 367.75,768.32 368.25,768.05 368.75,767.95 369.25,767.65 369.75,767.30 370.25,768.33 370.75,767.58 371.25,767.40 371.75,767.13 372.25,767.35 372.75,767.99 373.25,767.16 373.75,767.84 374.25,767.38 374.75,767.75 375.25,767.89 375.75,767.68 376.25,767.38 376.75,768.07 377.25,767.88 377.75,767.21 378.25,767.57 378.75,767.58 379.25,767.64 379.75,767.21 380.25,768.19 380.75,768.33" fill="none" stroke="#0000ff" stroke-width="1" stroke-linejoin="round"/>
<rect x="126.25" y="682.25" width="255.6" height="86.8" fill="none" stroke="#808080" stroke-width="1.8"/>
<rect x="289.75" y="690.6" width="13.5" height="10.6" fill="#fff" stroke="#ccc" stroke-width="1"/>
<rect x="291" y="691.9" width="11" height="8" fill="#0000ff"/>
<text x="307.6" y="699.8" font-family="Liberation Serif" font-size="12" fill="#888" textLength="67" lengthAdjust="spacingAndGlyphs">aida10 1.8.L</text>
<path d="M381.1 673.0 L390.90000000000003 682.8 L381.1 692.5999999999999 L371.3 682.8 Z" fill="#ff0000"/>
<rect x="642.20" y="682.4" width="1" height="86.6" fill="#ebebeb"/>
<text x="642.70" y="782.6" text-anchor="middle" font-family="Liberation Serif" font-size="12.2" fill="#545454" textLength="33" lengthAdjust="spacingAndGlyphs">21000</text>
<rect x="682.58" y="682.4" width="1" height="86.6" fill="#ebebeb"/>
<text x="683.08" y="782.6" text-anchor="middle" font-family="Liberation Serif" font-size="12.2" fill="#545454" textLength="33" lengthAdjust="spacingAndGlyphs">21500</text>
<rect x="722.96" y="682.4" width="1" height="86.6" fill="#ebebeb"/>
<text x="723.46" y="782.6" text-anchor="middle" font-family="Liberation Serif" font-size="12.2" fill="#545454" textLength="33" lengthAdjust="spacingAndGlyphs">22000</text>
<rect x="763.34" y="682.4" width="1" height="86.6" fill="#ebebeb"/>
<text x="763.84" y="782.6" text-anchor="middle" font-family="Liberation Serif" font-size="12.2" fill="#545454" textLength="33" lengthAdjust="spacingAndGlyphs">22500</text>
<rect x="803.72" y="682.4" width="1" height="86.6" fill="#ebebeb"/>
<text x="804.22" y="782.6" text-anchor="middle" font-family="Liberation Serif" font-size="12.2" fill="#545454" textLength="33" lengthAdjust="spacingAndGlyphs">23000</text>
<rect x="844.10" y="682.4" width="1" height="86.6" fill="#ebebeb"/>
<text x="844.60" y="782.6" text-anchor="middle" font-family="Liberation Serif" font-size="12.2" fill="#545454" textLength="33" lengthAdjust="spacingAndGlyphs">23500</text>
<text x="598.2" y="773.4" text-anchor="end" font-family="Liberation Serif" font-size="12.2" fill="#545454" textLength="6.6" lengthAdjust="spacingAndGlyphs">0</text>
<rect x="603" y="739.60" width="254" height="1" fill="#ebebeb"/>
<text x="598.2" y="744.5" text-anchor="end" font-family="Liberation Serif" font-size="12.2" fill="#545454" textLength="19.8" lengthAdjust="spacingAndGlyphs">500</text>
<rect x="603" y="710.70" width="254" height="1" fill="#ebebeb"/>
<text x="598.2" y="715.6" text-anchor="end" font-family="Liberation Serif" font-size="12.2" fill="#545454" textLength="26.4" lengthAdjust="spacingAndGlyphs">1000</text>
<text x="598.2" y="686.7" text-anchor="end" font-family="Liberation Serif" font-size="12.2" fill="#545454" textLength="26.4" lengthAdjust="spacingAndGlyphs">1500</text>
<polyline points="603.00,767.69 603.50,767.58 604.00,767.30 604.50,767.17 605.00,768.15 605.50,767.36 606.00,767.25 606.50,767.25 607.00,767.22 607.50,768.07 608.00,768.03 608.50,767.23 609.00,768.27 609.50,767.63 610.00,767.87 610.50,767.12 611.00,768.16 611.50,767.60 612.00,767.06 612.50,768.28 613.00,767.24 613.50,767.59 614.00,767.01 614.50,767.22 615.00,767.84 615.50,767.20 616.00,767.56 616.50,767.34 617.00,767.13 617.50,768.14 618.00,767.71 618.50,768.00 619.00,767.03 619.50,767.68 620.00,767.65 620.50,767.97 621.00,767.26 621.50,767.79 622.00,768.15 622.50,768.08 623.00,768.06 623.50,767.35 624.00,768.24 624.50,768.00 625.00,767.20 625.50,767.94 626.00,767.20 626.50,767.93 627.00,768.31 627.50,767.39 628.00,768.16 628.50,767.09 629.00,767.53 629.50,767.47 630.00,767.17 630.50,768.28 631.00,768.05 631.50,767.06 632.00,767.33 632.50,767.68 633.00,767.52 633.50,767.80 634.00,767.03 634.50,767.93 635.00,767.30 635.50,767.61 636.00,767.89 636.50,767.22 637.00,768.33 637.50,768.09 638.00,768.25 638.50,767.80 639.00,767.41 639.50,767.99 640.00,768.06 640.50,767.92 641.00,767.07 641.50,768.07 642.00,767.01 642.50,767.96 643.00,767.10 643.50,768.28 644.00,767.33 644.50,767.27 645.00,767.46 645.50,767.57 646.00,767.45 646.50,767.27 647.00,767.74 647.50,768.33 648.00,767.47 648.50,768.30 649.00,767.33 649.50,767.77 650.00,768.30 650.50,768.24 651.00,767.48 651.50,767.32 652.00,767.28 652.50,768.04 653.00,767.11 653.50,768.26 654.00,768.30 654.50,768.00 655.00,767.18 655.50,767.28 656.00,767.72 656.50,767.38 657.00,768.38 657.50,767.93 658.00,767.53 658.50,767.05 659.00,767.74 659.50,767.15 660.00,767.95 660.50,767.20 661.00,767.53 661.50,767.37 662.00,767.38 662.50,768.34 663.00,767.56 663.50,767.93 664.00,768.19 664.50,767.76 665.00,767.38 665.50,767.84 666.00,768.39 666.50,767.38 667.00,768.37 667.50,767.93 668.00,768.28 668.50,767.38 669.00,767.55 669.50,767.92 670.00,767.91 670.50,767.10 671.00,767.42 671.50,768.23 672.00,768.34 672.50,767.13 673.00,767.79 673.50,767.63 674.00,767.81 674.50,767.53 675.00,768.27 675.50,767.73 676.00,768.10 676.50,768.21 677.00,767.96 677.50,768.03 678.00,768.11 678.50,767.19 679.00,767.64 679.50,767.87 680.00,768.21 680.50,767.77 681.00,768.22 681.50,768.08 682.00,768.26 682.50,768.25 683.00,767.65 683.50,767.47 684.00,767.28 684.50,767.46 685.00,767.38 685.50,768.09 686.00,767.23 686.50,768.27 687.00,767.62 687.50,767.27 688.00,767.20 688.50,767.99 689.00,767.69 689.50,767.10 690.00,767.58 690.50,767.28 691.00,767.32 691.50,767.52 692.00,768.16 692.50,766.98 693.00,767.44 693.50,767.22 694.00,768.10 694.50,767.80 695.00,767.16 695.50,767.51 696.00,767.62 696.50,768.16 697.00,767.89 697.50,767.97 698.00,767.99 698.50,767.65 699.00,767.94 699.50,766.95 700.00,767.54 700.50,767.68 701.00,767.16 701.50,766.84 702.00,767.78 702.50,768.02 703.00,767.71 703.50,767.02 704.00,767.76 704.50,766.78 705.00,768.00 705.50,767.48 706.00,766.80 706.50,767.79 707.00,767.80 707.50,767.02 708.00,767.35 708.50,767.18 709.00,766.98 709.50,766.80 710.00,767.62 710.50,767.04 711.00,767.16 711.50,767.81 712.00,767.02 712.50,767.32 713.00,767.29 713.50,767.48 714.00,766.78 714.50,767.27 714.75,766.49 715.00,767.19 715.25,767.25 715.50,767.55 715.75,767.28 716.00,767.64 716.25,766.62 716.50,767.09 716.75,767.65 717.00,766.40 717.25,767.21 717.50,767.27 717.75,766.59 718.00,767.00 718.25,766.52 718.50,766.72 718.75,766.75 719.00,766.23 719.25,766.38 719.50,766.99 719.75,766.88 720.00,766.09 720.25,767.23 720.50,766.62 720.75,766.94 721.00,766.35 721.25,766.60 721.50,766.99 721.75,766.60 722.00,766.16 722.25,766.57 722.50,765.83 722.75,765.82 723.00,766.80 723.25,766.03 723.50,766.25 723.75,766.09 724.00,766.22 724.25,766.12 724.50,766.30 724.75,765.99 725.00,764.87 725.25,765.73 725.50,764.66 725.75,764.93 726.00,764.45 726.25,765.13 726.50,764.48 726.75,764.59 727.00,763.03 727.25,763.91 727.50,762.41 727.75,763.04 728.00,762.94 728.25,762.26 728.50,762.10 728.75,761.58 729.00,761.54 729.25,760.39 729.50,759.37 729.75,759.48 730.00,759.36 730.25,757.81 730.50,756.74 730.75,756.83 731.00,756.40 731.25,753.44 731.50,752.59 731.75,752.37 732.00,751.71 732.25,750.01 732.50,749.01 732.75,748.51 733.00,746.96 733.25,747.01 733.50,745.26 733.75,743.47 734.00,742.80 734.25,741.53 734.50,740.62 734.75,739.74 735.00,738.19 735.25,737.73 735.50,737.26 735.75,736.69 736.00,737.03 736.25,736.52 736.50,736.27 736.75,735.14 737.00,734.11 737.25,734.76 737.50,734.24 737.75,735.42 738.00,736.51 738.25,737.15 738.50,738.54 738.75,739.62 739.00,740.22 739.25,741.29 739.50,742.71 739.75,744.33 740.00,746.17 740.25,746.19 740.50,748.30 740.75,749.53 741.00,750.99 741.25,751.84 741.50,752.06 741.75,754.64 742.00,756.57 742.25,757.38 742.50,758.44 742.75,759.48 743.00,760.38 743.25,759.80 743.50,761.24 743.75,762.30 744.00,762.69 744.25,762.86 744.50,763.15 744.75,763.12 745.00,764.12 745.25,764.90 745.50,765.11 745.75,765.40 746.00,765.96 746.25,765.15 746.50,765.96 746.75,766.61 747.00,765.81 747.25,766.27 747.50,767.03 747.75,766.30 748.00,767.57 748.25,767.51 748.50,767.16 748.75,767.53 749.00,767.57 749.25,767.28 749.50,767.16 749.75,766.96 750.00,767.88 750.25,768.19 750.50,767.12 750.75,767.35 751.00,767.01 751.25,767.83 751.50,767.84 751.75,767.79 752.00,767.27 752.25,767.49 752.50,767.46 752.75,768.13 753.00,768.22 753.25,767.44 753.50,767.75 753.75,767.49 754.00,767.79 754.25,767.66 754.50,768.20 754.75,767.69 755.00,768.00 755.25,767.38 755.50,767.69 755.75,767.92 756.00,767.73 756.25,768.37 756.50,768.39 756.75,767.83 757.00,767.92 757.25,767.72 757.50,767.17 757.75,768.29 758.00,767.13 758.25,767.25 758.50,767.22 758.75,767.97 759.00,767.31 759.25,767.56 759.50,767.48 759.75,767.08 760.25,768.25 760.75,767.88 761.25,767.16 761.75,767.43 762.25,767.69 762.75,767.27 763.25,767.78 763.75,768.24 764.25,767.62 764.75,767.45 765.25,767.16 765.75,767.90 766.25,768.11 766.75,767.99 767.25,768.36 767.75,768.26 768.25,768.27 768.75,768.25 769.25,767.59 769.75,767.44 770.25,767.49 770.75,767.80 771.25,768.27 771.75,768.04 772.25,767.54 772.75,768.26 773.25,768.12 773.75,767.93 774.25,767.31 774.75,767.14 775.25,767.16 775.75,767.93 776.25,767.00 776.75,767.45 777.25,767.63 777.75,767.00 778.25,767.11 778.75,768.23 779.25,767.99 779.75,767.15 780.25,767.59 780.75,767.47 781.25,767.33 781.75,767.01 782.25,767.16 782.75,767.75 783.25,767.97 783.75,767.18 784.25,767.62 784.75,767.32 785.25,768.35 785.75,767.74 786.25,767.02 786.75,768.21 787.25,768.22 787.75,767.64 788.25,767.34 788.75,768.12 789.25,767.31 789.75,767.41 790.25,767.05 790.75,768.21 791.25,767.68 791.75,768.10 792.25,767.03 792.75,767.81 793.25,767.38 793.75,767.30 794.25,768.06 794.75,767.37 795.25,767.13 795.75,768.07 796.25,768.15 796.75,767.96 797.25,767.56 797.75,768.20 798.25,767.82 798.75,767.16 799.25,768.25 799.75,768.19 800.25,768.07 800.75,767.77 801.25,767.30 801.75,768.09 802.25,768.25 802.75,767.15 803.25,767.58 803.75,767.51 804.25,767.65 804.75,767.07 805.25,768.04 805.75,767.35 806.25,767.96 806.75,767.46 807.25,768.38 807.75,767.47 808.25,767.46 808.75,768.02 809.25,767.09 809.75,767.12 810.25,767.76 810.75,767.50 811.25,768.39 811.75,768.22 812.25,767.03 812.75,767.10 813.25,768.16 813.75,767.40 814.25,768.20 814.75,767.18 815.25,767.32 815.75,768.22 816.25,767.99 816.75,767.76 817.25,767.18 817.75,767.02 818.25,767.15 818.75,767.02 819.25,767.88 819.75,768.17 820.25,767.25 820.75,768.32 821.25,767.20 821.75,767.86 822.25,767.18 822.75,768.34 823.25,767.89 823.75,767.60 824.25,767.82 824.75,767.66 825.25,767.83 825.75,768.15 826.25,767.60 826.75,767.55 827.25,768.01 827.75,767.52 828.25,768.22 828.75,768.22 829.25,767.94 829.75,767.02 830.25,767.17 830.75,767.65 831.25,767.64 831.75,767.33 832.25,767.43 832.75,767.69 833.25,767.75 833.75,767.55 834.25,767.88 834.75,768.00 835.25,767.48 835.75,767.21 836.25,768.03 836.75,768.20 837.25,767.32 837.75,768.12 838.25,768.14 838.75,768.22 839.25,767.26 839.75,767.71 840.25,768.24 840.75,767.46 841.25,767.77 841.75,768.15 842.25,768.03 842.75,767.93 843.25,767.94 843.75,767.17 844.25,767.23 844.75,768.28 845.25,768.12 845.75,767.36 846.25,767.69 846.75,768.33 847.25,768.24 847.75,767.22 848.25,767.62 848.75,767.56 849.25,768.07 849.75,768.38 850.25,768.32 850.75,767.89 851.25,768.05 851.75,767.66 852.25,767.04 852.75,768.06 853.25,768.23 853.75,767.28 854.25,767.12 854.75,767.57 855.25,767.35 855.75,767.90 856.25,767.52 856.75,768.08" fill="none" stroke="#0000ff" stroke-width="1" stroke-linejoin="round"/>
<rect x="602.25" y="682.25" width="255.6" height="86.8" fill="none" stroke="#808080" stroke-width="1.8"/>
<rect x="765.75" y="690.6" width="13.5" height="10.6" fill="#fff" stroke="#ccc" stroke-width="1"/>
<rect x="767" y="691.9" width="11" height="8" fill="#0000ff"/>
<text x="783.6" y="699.8" font-family="Liberation Serif" font-size="12" fill="#888" textLength="67" lengthAdjust="spacingAndGlyphs">aida14 1.8.L</text>
<path d="M857.1 673.0 L866.9 682.8 L857.1 692.5999999999999 L847.3000000000001 682.8 Z" fill="#ff0000"/>
<rect x="1118.20" y="682.4" width="1" height="86.6" fill="#ebebeb"/>
<text x="1118.70" y="782.6" text-anchor="middle" font-family="Liberation Serif" font-size="12.2" fill="#545454" textLength="33" lengthAdjust="spacingAndGlyphs">21000</text>
<rect x="1158.58" y="682.4" width="1" height="86.6" fill="#ebebeb"/>
<text x="1159.08" y="782.6" text-anchor="middle" font-family="Liberation Serif" font-size="12.2" fill="#545454" textLength="33" lengthAdjust="spacingAndGlyphs">21500</text>
<rect x="1198.96" y="682.4" width="1" height="86.6" fill="#ebebeb"/>
<text x="1199.46" y="782.6" text-anchor="middle" font-family="Liberation Serif" font-size="12.2" fill="#545454" textLength="33" lengthAdjust="spacingAndGlyphs">22000</text>
<rect x="1239.34" y="682.4" width="1" height="86.6" fill="#ebebeb"/>
<text x="1239.84" y="782.6" text-anchor="middle" font-family="Liberation Serif" font-size="12.2" fill="#545454" textLength="33" lengthAdjust="spacingAndGlyphs">22500</text>
<rect x="1279.72" y="682.4" width="1" height="86.6" fill="#ebebeb"/>
<text x="1280.22" y="782.6" text-anchor="middle" font-family="Liberation Serif" font-size="12.2" fill="#545454" textLength="33" lengthAdjust="spacingAndGlyphs">23000</text>
<rect x="1320.10" y="682.4" width="1" height="86.6" fill="#ebebeb"/>
<text x="1320.60" y="782.6" text-anchor="middle" font-family="Liberation Serif" font-size="12.2" fill="#545454" textLength="33" lengthAdjust="spacingAndGlyphs">23500</text>
<text x="1074.2" y="773.4" text-anchor="end" font-family="Liberation Serif" font-size="12.2" fill="#545454" textLength="6.6" lengthAdjust="spacingAndGlyphs">0</text>
<rect x="1079" y="739.60" width="254" height="1" fill="#ebebeb"/>
<text x="1074.2" y="744.5" text-anchor="end" font-family="Liberation Serif" font-size="12.2" fill="#545454" textLength="19.8" lengthAdjust="spacingAndGlyphs">500</text>
<rect x="1079" y="710.70" width="254" height="1" fill="#ebebeb"/>
<text x="1074.2" y="715.6" text-anchor="end" font-family="Liberation Serif" font-size="12.2" fill="#545454" textLength="26.4" lengthAdjust="spacingAndGlyphs">1000</text>
<text x="1074.2" y="686.7" text-anchor="end" font-family="Liberation Serif" font-size="12.2" fill="#545454" textLength="26.4" lengthAdjust="spacingAndGlyphs">1500</text>
<polyline points="1079.00,767.46 1079.50,767.03 1080.00,767.06 1080.50,767.16 1081.00,768.33 1081.50,767.22 1082.00,768.24 1082.50,768.16 1083.00,767.90 1083.50,767.98 1084.00,767.76 1084.50,768.35 1085.00,767.09 1085.50,768.36 1086.00,768.13 1086.50,767.19 1087.00,767.01 1087.50,768.38 1088.00,767.88 1088.50,767.12 1089.00,767.02 1089.50,767.74 1090.00,767.04 1090.50,768.24 1091.00,767.04 1091.50,767.84 1092.00,767.74 1092.50,768.27 1093.00,767.12 1093.50,767.97 1094.00,767.56 1094.50,767.64 1095.00,767.06 1095.50,767.27 1096.00,768.25 1096.50,767.84 1097.00,768.32 1097.50,768.28 1098.00,768.17 1098.50,767.76 1099.00,767.29 1099.50,767.91 1100.00,767.43 1100.50,767.41 1101.00,768.09 1101.50,768.39 1102.00,767.22 1102.50,768.26 1103.00,767.92 1103.50,767.79 1104.00,768.31 1104.50,768.20 1105.00,767.82 1105.50,768.20 1106.00,767.61 1106.50,767.41 1107.00,768.11 1107.50,767.60 1108.00,767.70 1108.50,767.97 1109.00,767.85 1109.50,768.35 1110.00,767.18 1110.50,767.76 1111.00,767.03 1111.50,767.25 1112.00,767.55 1112.50,768.09 1113.00,767.02 1113.50,767.82 1114.00,767.42 1114.50,767.26 1115.00,767.92 1115.50,767.90 1116.00,767.15 1116.50,768.09 1117.00,768.18 1117.50,768.25 1118.00,767.13 1118.50,767.12 1119.00,767.55 1119.50,768.37 1120.00,767.96 1120.50,767.37 1121.00,768.30 1121.50,768.39 1122.00,767.08 1122.50,768.03 1123.00,767.78 1123.50,768.10 1124.00,767.81 1124.50,767.81 1125.00,768.32 1125.50,767.66 1126.00,767.06 1126.50,768.15 1127.00,767.06 1127.50,767.61 1128.00,767.97 1128.50,768.10 1129.00,767.30 1129.50,767.20 1130.00,767.29 1130.50,767.19 1131.00,767.97 1131.50,767.39 1132.00,767.04 1132.50,767.00 1133.00,767.68 1133.50,767.04 1134.00,767.17 1134.50,767.88 1135.00,768.26 1135.50,767.80 1136.00,768.12 1136.50,768.35 1137.00,768.21 1137.50,768.03 1138.00,768.30 1138.50,768.37 1139.00,767.96 1139.50,767.13 1140.00,767.19 1140.50,767.22 1141.00,767.87 1141.50,767.87 1142.00,767.02 1142.50,767.83 1143.00,767.38 1143.50,767.04 1144.00,768.30 1144.50,768.28 1145.00,767.97 1145.50,767.86 1146.00,767.73 1146.50,767.66 1147.00,768.33 1147.50,768.18 1148.00,767.05 1148.50,767.74 1149.00,768.34 1149.50,768.15 1150.00,767.26 1150.50,767.15 1151.00,767.57 1151.50,767.34 1152.00,767.93 1152.50,767.82 1153.00,767.01 1153.50,767.39 1154.00,767.72 1154.50,767.69 1155.00,767.55 1155.50,767.49 1156.00,767.82 1156.50,767.87 1157.00,767.07 1157.50,768.22 1158.00,768.25 1158.50,767.72 1159.00,767.13 1159.50,767.50 1160.00,767.98 1160.50,767.05 1161.00,767.29 1161.50,767.14 1162.00,768.24 1162.50,768.34 1163.00,767.03 1163.50,768.21 1164.00,768.16 1164.50,767.87 1165.00,767.25 1165.50,767.05 1166.00,768.32 1166.50,767.07 1167.00,768.06 1167.50,768.36 1168.00,767.82 1168.50,767.22 1169.00,767.55 1169.50,767.89 1170.00,767.65 1170.50,768.16 1171.00,767.01 1171.50,768.20 1172.00,767.22 1172.50,767.86 1173.00,767.59 1173.50,767.59 1174.00,767.15 1174.50,767.03 1175.00,767.95 1175.50,767.22 1176.00,767.12 1176.50,767.72 1177.00,767.35 1177.50,767.56 1178.00,767.77 1178.50,767.75 1179.00,768.15 1179.50,767.85 1180.00,767.45 1180.50,767.34 1181.00,767.49 1181.50,767.05 1182.00,768.28 1182.50,768.35 1183.00,767.82 1183.50,767.77 1184.00,768.22 1184.50,767.54 1185.00,767.64 1185.50,767.19 1186.00,768.09 1186.50,767.72 1187.00,767.11 1187.50,767.92 1188.00,767.99 1188.50,767.89 1189.00,767.03 1189.50,767.18 1190.00,768.32 1190.50,767.04 1191.00,767.76 1191.50,767.30 1192.00,767.33 1192.50,768.38 1193.00,767.21 1193.50,768.35 1194.00,767.14 1194.50,767.62 1195.00,767.40 1195.50,767.21 1196.00,768.12 1196.50,768.19 1197.00,767.43 1197.50,767.15 1198.00,767.26 1198.50,768.21 1199.00,768.39 1199.50,767.29 1200.00,767.06 1200.50,767.04 1201.00,768.04 1201.50,767.73 1202.00,767.10 1202.50,768.36 1203.00,768.27 1203.50,767.83 1204.00,767.39 1204.50,767.24 1205.00,767.97 1205.50,767.82 1206.00,768.36 1206.50,767.01 1207.00,767.05 1207.50,768.12 1208.00,767.27 1208.50,768.00 1209.00,767.42 1209.50,767.24 1210.00,767.09 1210.50,767.60 1211.00,767.57 1211.50,768.33 1212.00,767.15 1212.50,767.86 1213.00,768.17 1213.50,767.73 1214.00,768.20 1214.50,767.87 1215.00,767.58 1215.50,767.14 1216.00,768.08 1216.50,767.58 1217.00,768.15 1217.50,768.22 1218.00,767.65 1218.50,767.18 1219.00,767.70 1219.50,767.13 1220.00,768.35 1220.50,767.13 1221.00,767.46 1221.50,768.40 1222.00,768.23 1222.50,767.73 1223.00,767.42 1223.50,768.37 1224.00,768.07 1224.50,767.88 1225.00,767.84 1225.50,767.32 1226.00,767.84 1226.50,767.87 1227.00,767.81 1227.50,767.63 1228.00,768.15 1228.50,767.58 1229.00,767.14 1229.50,768.03 1230.00,767.34 1230.50,768.35 1231.00,768.32 1231.50,767.83 1232.00,767.92 1232.50,767.71 1233.00,767.23 1233.50,768.20 1234.00,767.89 1234.50,768.08 1235.00,767.55 1235.50,767.51 1236.00,767.91 1236.50,767.23 1237.00,767.97 1237.50,767.60 1238.00,767.43 1238.50,767.54 1239.00,767.09 1239.50,767.19 1240.00,767.61 1240.50,768.35 1241.00,767.81 1241.50,767.33 1242.00,767.79 1242.50,767.38 1243.00,767.26 1243.50,767.52 1244.00,767.78 1244.50,767.96 1245.00,767.13 1245.50,767.74 1246.00,767.54 1246.50,767.83 1247.00,767.74 1247.50,768.00 1248.00,768.28 1248.50,767.95 1249.00,767.17 1249.50,767.26 1250.00,768.13 1250.50,767.54 1251.00,767.76 1251.50,767.14 1252.00,767.70 1252.50,767.18 1253.00,768.03 1253.50,768.21 1254.00,767.80 1254.50,767.04 1255.00,768.10 1255.50,768.24 1256.00,767.45 1256.50,767.16 1257.00,767.73 1257.50,768.10 1258.00,766.91 1258.50,767.40 1259.00,766.79 1259.50,766.97 1260.00,767.96 1260.50,767.06 1261.00,766.80 1261.50,767.60 1262.00,767.21 1262.50,767.82 1263.00,767.86 1263.50,767.71 1264.00,767.27 1264.50,767.42 1265.00,767.35 1265.50,767.38 1266.00,767.46 1266.50,766.50 1267.00,766.78 1267.50,767.29 1268.00,766.82 1268.50,767.09 1269.00,767.39 1269.50,766.86 1270.00,766.19 1270.25,766.61 1270.50,767.06 1270.75,766.08 1271.00,766.06 1271.25,766.93 1271.50,766.15 1271.75,767.06 1272.00,766.97 1272.25,766.91 1272.50,766.24 1272.75,765.66 1273.00,765.69 1273.25,765.60 1273.50,766.58 1273.75,766.75 1274.00,766.20 1274.25,765.60 1274.50,766.35 1274.75,765.34 1275.00,766.14 1275.25,765.06 1275.50,765.18 1275.75,764.42 1276.00,765.26 1276.25,763.77 1276.50,764.47 1276.75,763.61 1277.00,763.51 1277.25,762.63 1277.50,761.66 1277.75,760.85 1278.00,760.57 1278.25,760.49 1278.50,758.76 1278.75,757.53 1279.00,756.45 1279.25,755.51 1279.50,753.85 1279.75,750.58 1280.00,748.59 1280.25,747.25 1280.50,744.51 1280.75,741.73 1281.00,739.62 1281.25,737.36 1281.50,733.84 1281.75,731.65 1282.00,728.36 1282.25,725.13 1282.50,723.84 1282.75,721.22 1283.00,719.02 1283.25,718.69 1283.50,717.40 1283.75,716.87 1284.00,716.80 1284.25,717.22 1284.50,718.67 1284.75,719.95 1285.00,721.07 1285.25,724.65 1285.50,726.81 1285.75,730.44 1286.00,732.90 1286.25,734.51 1286.50,737.79 1286.75,741.43 1287.00,742.91 1287.25,746.20 1287.50,749.45 1287.75,750.88 1288.00,752.84 1288.25,754.13 1288.50,756.78 1288.75,758.94 1289.00,759.96 1289.25,760.30 1289.50,762.29 1289.75,762.52 1290.00,763.54 1290.25,763.50 1290.50,764.97 1290.75,765.16 1291.00,765.64 1291.25,765.23 1291.50,766.66 1291.75,766.34 1292.00,766.98 1292.25,767.04 1292.50,766.29 1292.75,767.34 1293.00,767.74 1293.25,767.23 1293.50,767.53 1293.75,766.77 1294.00,767.01 1294.25,767.92 1294.50,767.59 1294.75,767.77 1295.00,767.32 1295.25,767.82 1295.50,767.23 1295.75,767.45 1296.00,767.04 1296.25,767.02 1296.50,767.64 1296.75,768.02 1297.00,768.25 1297.25,767.23 1297.50,768.20 1297.75,767.67 1298.00,768.09 1298.50,768.35 1299.00,767.80 1299.50,767.61 1300.00,767.79 1300.50,768.37 1301.00,767.13 1301.50,767.77 1302.00,767.60 1302.50,767.32 1303.00,768.10 1303.50,768.17 1304.00,767.66 1304.50,768.05 1305.00,767.58 1305.50,768.27 1306.00,768.23 1306.50,767.20 1307.00,767.49 1307.50,768.21 1308.00,767.06 1308.50,767.08 1309.00,767.31 1309.50,768.30 1310.00,767.34 1310.50,768.15 1311.00,767.19 1311.50,767.83 1312.00,767.31 1312.50,767.57 1313.00,767.57 1313.50,767.29 1314.00,768.26 1314.50,767.73 1315.00,768.10 1315.50,767.79 1316.00,767.08 1316.50,767.97 1317.00,768.10 1317.50,767.52 1318.00,767.83 1318.50,767.91 1319.00,767.86 1319.50,767.92 1320.00,768.35 1320.50,767.62 1321.00,767.48 1321.50,767.90 1322.00,767.98 1322.50,767.26 1323.00,767.64 1323.50,767.33 1324.00,767.48 1324.50,767.18 1325.00,767.26 1325.50,768.01 1326.00,767.82 1326.50,767.93 1327.00,768.21 1327.50,767.45 1328.00,767.51 1328.50,768.35 1329.00,767.41 1329.50,767.12 1330.00,767.80 1330.50,767.49 1331.00,768.17 1331.50,767.76 1332.00,767.62 1332.50,767.96 1333.00,767.86" fill="none" stroke="#0000ff" stroke-width="1" stroke-linejoin="round"/>
<rect x="1078.25" y="682.25" width="255.6" height="86.8" fill="none" stroke="#808080" stroke-width="1.8"/>
<rect x="1241.75" y="690.6" width="13.5" height="10.6" fill="#fff" stroke="#ccc" stroke-width="1"/>
<rect x="1243" y="691.9" width="11" height="8" fill="#0000ff"/>
<text x="1259.6" y="699.8" font-family="Liberation Serif" font-size="12" fill="#888" textLength="67" lengthAdjust="spacingAndGlyphs">aida13 1.8.L</text>
<path d="M1333.1 673.0 L1342.8999999999999 682.8 L1333.1 692.5999999999999 L1323.3 682.8 Z" fill="#ff0000"/>
<rect x="166.20" y="804.4" width="1" height="86.6" fill="#ebebeb"/>
<text x="166.70" y="904.6" text-anchor="middle" font-family="Liberation Serif" font-size="12.2" fill="#545454" textLength="33" lengthAdjust="spacingAndGlyphs">21000</text>
<rect x="206.58" y="804.4" width="1" height="86.6" fill="#ebebeb"/>
<text x="207.08" y="904.6" text-anchor="middle" font-family="Liberation Serif" font-size="12.2" fill="#545454" textLength="33" lengthAdjust="spacingAndGlyphs">21500</text>
<rect x="246.96" y="804.4" width="1" height="86.6" fill="#ebebeb"/>
<text x="247.46" y="904.6" text-anchor="middle" font-family="Liberation Serif" font-size="12.2" fill="#545454" textLength="33" lengthAdjust="spacingAndGlyphs">22000</text>
<rect x="287.34" y="804.4" width="1" height="86.6" fill="#ebebeb"/>
<text x="287.84" y="904.6" text-anchor="middle" font-family="Liberation Serif" font-size="12.2" fill="#545454" textLength="33" lengthAdjust="spacingAndGlyphs">22500</text>
<rect x="327.72" y="804.4" width="1" height="86.6" fill="#ebebeb"/>
<text x="328.22" y="904.6" text-anchor="middle" font-family="Liberation Serif" font-size="12.2" fill="#545454" textLength="33" lengthAdjust="spacingAndGlyphs">23000</text>
<rect x="368.10" y="804.4" width="1" height="86.6" fill="#ebebeb"/>
<text x="368.60" y="904.6" text-anchor="middle" font-family="Liberation Serif" font-size="12.2" fill="#545454" textLength="33" lengthAdjust="spacingAndGlyphs">23500</text>
<text x="122.2" y="895.4" text-anchor="end" font-family="Liberation Serif" font-size="12.2" fill="#545454" textLength="6.6" lengthAdjust="spacingAndGlyphs">0</text>
<rect x="127" y="861.60" width="254" height="1" fill="#ebebeb"/>
<text x="122.2" y="866.5" text-anchor="end" font-family="Liberation Serif" font-size="12.2" fill="#545454" textLength="19.8" lengthAdjust="spacingAndGlyphs">500</text>
<rect x="127" y="832.70" width="254" height="1" fill="#ebebeb"/>
<text x="122.2" y="837.6" text-anchor="end" font-family="Liberation Serif" font-size="12.2" fill="#545454" textLength="26.4" lengthAdjust="spacingAndGlyphs">1000</text>
<text x="122.2" y="808.7" text-anchor="end" font-family="Liberation Serif" font-size="12.2" fill="#545454" textLength="26.4" lengthAdjust="spacingAndGlyphs">1500</text>
<polyline points="127.00,890.05 127.50,889.43 128.00,889.21 128.50,890.37 129.00,889.18 129.50,889.93 130.00,889.56 130.50,890.12 131.00,890.00 131.50,889.21 132.00,889.46 132.50,889.61 133.00,889.74 133.50,890.22 134.00,889.73 134.50,889.16 135.00,890.32 135.50,890.38 136.00,890.20 136.50,889.47 137.00,889.34 137.50,889.19 138.00,889.27 138.50,890.37 139.00,889.70 139.50,889.34 140.00,889.76 140.50,889.61 141.00,890.24 141.50,890.12 142.00,890.35 142.50,889.73 143.00,889.58 143.50,889.26 144.00,890.01 144.50,889.85 145.00,889.13 145.50,889.52 146.00,889.56 146.50,890.35 147.00,889.80 147.50,890.19 148.00,890.37 148.50,889.07 149.00,889.68 149.50,890.27 150.00,889.52 150.50,889.57 151.00,889.92 151.50,889.36 152.00,889.13 152.50,890.23 153.00,889.05 153.50,889.36 154.00,889.07 154.50,890.31 155.00,890.37 155.50,889.34 156.00,889.75 156.50,889.90 157.00,890.34 157.50,890.36 158.00,889.16 158.50,889.02 159.00,889.00 159.50,889.78 160.00,889.17 160.50,890.02 161.00,889.19 161.50,889.57 162.00,889.50 162.50,889.31 163.00,889.26 163.50,889.50 164.00,890.34 164.50,889.82 165.00,889.74 165.50,890.32 166.00,889.75 166.50,890.25 167.00,889.94 167.50,890.26 168.00,890.07 168.50,889.43 169.00,889.54 169.50,889.64 170.00,889.16 170.50,889.62 171.00,889.23 171.50,889.62 172.00,890.01 172.50,889.24 173.00,889.44 173.50,890.10 174.00,889.18 174.50,890.04 175.00,889.54 175.50,889.52 176.00,889.58 176.50,889.94 177.00,889.48 177.50,889.38 178.00,889.67 178.50,889.17 179.00,890.16 179.50,889.03 180.00,889.15 180.50,890.05 181.00,890.30 181.50,889.47 182.00,889.78 182.50,889.07 183.00,889.57 183.50,889.49 184.00,889.14 184.50,890.21 185.00,889.03 185.50,888.99 186.00,889.98 186.50,889.37 187.00,889.02 187.50,889.76 188.00,889.80 188.50,889.28 189.00,889.23 189.50,889.06 190.00,889.94 190.50,889.59 191.00,889.76 191.50,890.10 192.00,889.50 192.50,889.30 193.00,889.26 193.50,889.78 194.00,889.98 194.50,889.70 195.00,889.39 195.50,888.98 196.00,889.03 196.50,889.12 197.00,888.90 197.50,890.00 198.00,889.34 198.50,889.73 199.00,889.99 199.50,890.03 200.00,889.54 200.50,889.15 201.00,888.81 201.50,889.40 202.00,889.70 202.50,889.28 203.00,889.29 203.50,888.73 204.00,889.10 204.50,888.83 205.00,888.69 205.50,889.71 206.00,888.93 206.50,888.92 207.00,889.52 207.50,888.93 207.75,889.55 208.00,888.61 208.25,888.43 208.50,888.41 208.75,889.08 209.00,888.73 209.25,888.86 209.50,889.42 209.75,888.37 210.00,889.39 210.25,888.75 210.50,888.44 210.75,888.50 211.00,888.64 211.25,889.25 211.50,888.76 211.75,888.12 212.00,888.27 212.25,889.18 212.50,889.14 212.75,888.55 213.00,888.37 213.25,888.33 213.50,888.04 213.75,887.45 214.00,888.60 214.25,887.46 214.50,888.56 214.75,888.00 215.00,888.20 215.25,887.47 215.50,886.79 215.75,887.11 216.00,886.85 216.25,886.43 216.50,885.89 216.75,886.48 217.00,886.31 217.25,885.04 217.50,884.74 217.75,885.29 218.00,884.45 218.25,883.53 218.50,883.15 218.75,883.04 219.00,883.05 219.25,881.49 219.50,880.42 219.75,879.79 220.00,878.40 220.25,878.07 220.50,876.28 220.75,874.76 221.00,873.96 221.25,873.20 221.50,871.50 221.75,870.02 222.00,868.64 222.25,866.64 222.50,864.44 222.75,863.85 223.00,862.56 223.25,859.29 223.50,859.22 223.75,857.83 224.00,856.41 224.25,854.53 224.50,854.38 224.75,852.47 225.00,852.82 225.25,851.66 225.50,852.41 225.75,852.39 226.00,851.64 226.25,852.81 226.50,853.40 226.75,855.36 227.00,856.40 227.25,857.52 227.50,858.51 227.75,860.65 228.00,861.63 228.25,863.50 228.50,865.31 228.75,867.33 229.00,869.42 229.25,871.23 229.50,872.84 229.75,874.42 230.00,875.50 230.25,876.99 230.50,877.52 230.75,879.87 231.00,881.15 231.25,881.64 231.50,882.98 231.75,883.73 232.00,884.87 232.25,885.54 232.50,884.84 232.75,885.47 233.00,885.77 233.25,886.66 233.50,887.54 233.75,887.72 234.00,887.93 234.25,888.15 234.50,888.00 234.75,888.88 235.00,889.34 235.25,888.22 235.50,888.65 235.75,888.94 236.00,888.76 236.25,888.89 236.50,889.87 236.75,890.01 237.00,889.23 237.25,889.27 237.50,889.04 237.75,889.59 238.00,889.71 238.25,889.89 238.50,889.06 238.75,890.28 239.00,889.28 239.25,889.64 239.50,889.34 239.75,888.97 240.00,889.39 240.25,889.68 240.50,890.22 240.75,890.04 241.00,890.10 241.25,890.24 241.50,890.03 241.75,889.58 242.00,890.16 242.25,889.89 242.50,889.56 242.75,889.39 243.00,889.09 243.25,889.88 243.50,889.69 243.75,889.66 244.25,889.64 244.75,889.73 245.25,889.32 245.75,889.58 246.25,889.92 246.75,889.18 247.25,890.32 247.75,889.49 248.25,889.46 248.75,889.55 249.25,889.31 249.75,889.06 250.25,889.55 250.75,889.88 251.25,889.43 251.75,889.82 252.25,889.68 252.75,890.28 253.25,889.82 253.75,889.37 254.25,889.08 254.75,889.14 255.25,889.46 255.75,890.30 256.25,889.11 256.75,889.09 257.25,889.74 257.75,889.08 258.25,890.19 258.75,890.37 259.25,889.94 259.75,889.22 260.25,889.79 260.75,890.34 261.25,889.74 261.75,889.88 262.25,889.17 262.75,889.22 263.25,889.21 263.75,889.91 264.25,889.49 264.75,890.26 265.25,889.14 265.75,889.95 266.25,889.47 266.75,889.57 267.25,889.61 267.75,889.92 268.25,889.65 268.75,889.46 269.25,889.67 269.75,889.01 270.25,889.84 270.75,889.30 271.25,889.64 271.75,890.37 272.25,890.04 272.75,889.06 273.25,889.52 273.75,889.41 274.25,889.21 274.75,889.20 275.25,889.83 275.75,889.74 276.25,890.35 276.75,890.29 277.25,889.34 277.75,889.00 278.25,890.25 278.75,889.85 279.25,889.07 279.75,889.26 280.25,889.47 280.75,890.34 281.25,889.53 281.75,889.39 282.25,889.79 282.75,890.04 283.25,890.21 283.75,889.93 284.25,890.37 284.75,889.95 285.25,890.24 285.75,889.91 286.25,889.35 286.75,889.96 287.25,889.04 287.75,889.74 288.25,889.42 288.75,889.15 289.25,889.72 289.75,889.98 290.25,889.50 290.75,889.10 291.25,889.82 291.75,889.32 292.25,890.14 292.75,889.18 293.25,889.58 293.75,889.22 294.25,889.42 294.75,889.39 295.25,890.13 295.75,889.02 296.25,890.39 296.75,889.28 297.25,889.85 297.75,889.06 298.25,890.34 298.75,889.15 299.25,890.07 299.75,889.10 300.25,889.32 300.75,890.31 301.25,889.83 301.75,889.37 302.25,889.94 302.75,889.84 303.25,890.20 303.75,889.76 304.25,889.46 304.75,889.78 305.25,890.05 305.75,890.20 306.25,890.33 306.75,890.06 307.25,889.41 307.75,889.03 308.25,889.34 308.75,889.66 309.25,889.85 309.75,890.34 310.25,889.16 310.75,889.75 311.25,889.35 311.75,889.87 312.25,889.04 312.75,889.24 313.25,890.03 313.75,889.84 314.25,889.91 314.75,889.48 315.25,890.29 315.75,889.17 316.25,889.15 316.75,889.57 317.25,890.11 317.75,889.98 318.25,889.81 318.75,889.41 319.25,889.15 319.75,890.16 320.25,889.52 320.75,889.54 321.25,890.33 321.75,889.75 322.25,889.58 322.75,890.29 323.25,889.96 323.75,890.29 324.25,889.97 324.75,889.11 325.25,890.24 325.75,890.19 326.25,889.51 326.75,890.23 327.25,889.93 327.75,890.38 328.25,890.18 328.75,890.11 329.25,889.13 329.75,889.77 330.25,889.05 330.75,889.18 331.25,889.38 331.75,889.14 332.25,889.45 332.75,890.09 333.25,889.49 333.75,889.04 334.25,889.80 334.75,889.36 335.25,889.74 335.75,889.56 336.25,890.22 336.75,890.21 337.25,890.09 337.75,890.31 338.25,889.81 338.75,889.07 339.25,889.66 339.75,889.67 340.25,889.08 340.75,889.52 341.25,889.10 341.75,889.22 342.25,889.99 342.75,889.68 343.25,889.90 343.75,890.15 344.25,890.03 344.75,889.79 345.25,889.82 345.75,889.55 346.25,889.01 346.75,889.16 347.25,889.96 347.75,889.54 348.25,889.11 348.75,889.67 349.25,889.09 349.75,889.82 350.25,889.51 350.75,890.39 351.25,889.81 351.75,890.02 352.25,889.16 352.75,889.65 353.25,889.88 353.75,889.17 354.25,890.04 354.75,890.05 355.25,890.37 355.75,889.93 356.25,889.53 356.75,889.86 357.25,889.60 357.75,890.09 358.25,889.50 358.75,889.66 359.25,890.11 359.75,889.42 360.25,889.85 360.75,890.21 361.25,890.38 361.75,889.45 362.25,889.31 362.75,889.59 363.25,889.78 363.75,890.07 364.25,889.28 364.75,890.31 365.25,889.70 365.75,889.53 366.25,889.88 366.75,889.05 367.25,890.19 367.75,890.09 368.25,889.41 368.75,889.57 369.25,889.36 369.75,889.23 370.25,889.61 370.75,889.54 371.25,890.01 371.75,889.92 372.25,889.92 372.75,889.89 373.25,889.56 373.75,889.35 374.25,890.30 374.75,889.71 375.25,889.18 375.75,890.10 376.25,889.48 376.75,890.35 377.25,889.13 377.75,889.99 378.25,890.17 378.75,889.07 379.25,889.52 379.75,890.21 380.25,889.82 380.75,889.46" fill="none" stroke="#0000ff" stroke-width="1" stroke-linejoin="round"/>
<rect x="126.25" y="804.25" width="255.6" height="86.8" fill="none" stroke="#808080" stroke-width="1.8"/>
<rect x="289.75" y="812.6" width="13.5" height="10.6" fill="#fff" stroke="#ccc" stroke-width="1"/>
<rect x="291" y="813.9" width="11" height="8" fill="#0000ff"/>
<text x="307.6" y="821.8" font-family="Liberation Serif" font-size="12" fill="#888" textLength="67" lengthAdjust="spacingAndGlyphs">aida11 1.8.L</text>
<path d="M381.1 795.0 L390.90000000000003 804.8 L381.1 814.5999999999999 L371.3 804.8 Z" fill="#ff0000"/>
<rect x="642.20" y="804.4" width="1" height="86.6" fill="#ebebeb"/>
<text x="642.70" y="904.6" text-anchor="middle" font-family="Liberation Serif" font-size="12.2" fill="#545454" textLength="33" lengthAdjust="spacingAndGlyphs">21000</text>
<rect x="682.58" y="804.4" width="1" height="86.6" fill="#ebebeb"/>
<text x="683.08" y="904.6" text-anchor="middle" font-family="Liberation Serif" font-size="12.2" fill="#545454" textLength="33" lengthAdjust="spacingAndGlyphs">21500</text>
<rect x="722.96" y="804.4" width="1" height="86.6" fill="#ebebeb"/>
<text x="723.46" y="904.6" text-anchor="middle" font-family="Liberation Serif" font-size="12.2" fill="#545454" textLength="33" lengthAdjust="spacingAndGlyphs">22000</text>
<rect x="763.34" y="804.4" width="1" height="86.6" fill="#ebebeb"/>
<text x="763.84" y="904.6" text-anchor="middle" font-family="Liberation Serif" font-size="12.2" fill="#545454" textLength="33" lengthAdjust="spacingAndGlyphs">22500</text>
<rect x="803.72" y="804.4" width="1" height="86.6" fill="#ebebeb"/>
<text x="804.22" y="904.6" text-anchor="middle" font-family="Liberation Serif" font-size="12.2" fill="#545454" textLength="33" lengthAdjust="spacingAndGlyphs">23000</text>
<rect x="844.10" y="804.4" width="1" height="86.6" fill="#ebebeb"/>
<text x="844.60" y="904.6" text-anchor="middle" font-family="Liberation Serif" font-size="12.2" fill="#545454" textLength="33" lengthAdjust="spacingAndGlyphs">23500</text>
<text x="598.2" y="895.4" text-anchor="end" font-family="Liberation Serif" font-size="12.2" fill="#545454" textLength="6.6" lengthAdjust="spacingAndGlyphs">0</text>
<rect x="603" y="861.60" width="254" height="1" fill="#ebebeb"/>
<text x="598.2" y="866.5" text-anchor="end" font-family="Liberation Serif" font-size="12.2" fill="#545454" textLength="19.8" lengthAdjust="spacingAndGlyphs">500</text>
<rect x="603" y="832.70" width="254" height="1" fill="#ebebeb"/>
<text x="598.2" y="837.6" text-anchor="end" font-family="Liberation Serif" font-size="12.2" fill="#545454" textLength="26.4" lengthAdjust="spacingAndGlyphs">1000</text>
<text x="598.2" y="808.7" text-anchor="end" font-family="Liberation Serif" font-size="12.2" fill="#545454" textLength="26.4" lengthAdjust="spacingAndGlyphs">1500</text>
<polyline points="603.00,890.07 603.50,889.43 604.00,890.20 604.50,889.60 605.00,889.90 605.50,889.57 606.00,889.30 606.50,889.95 607.00,889.99 607.50,889.47 608.00,889.77 608.50,889.33 609.00,889.96 609.50,890.27 610.00,889.78 610.50,889.68 611.00,890.18 611.50,889.83 612.00,889.10 612.50,890.06 613.00,890.04 613.50,890.08 614.00,890.31 614.50,889.40 615.00,889.26 615.50,889.61 616.00,889.27 616.50,889.31 617.00,890.35 617.50,889.39 618.00,889.43 618.50,889.39 619.00,890.37 619.50,890.28 620.00,889.59 620.50,890.26 621.00,889.14 621.50,890.15 622.00,889.69 622.50,889.51 623.00,889.87 623.50,890.22 624.00,889.18 624.50,890.02 625.00,889.66 625.50,889.59 626.00,890.26 626.50,890.13 627.00,890.24 627.50,889.90 628.00,889.03 628.50,889.54 629.00,890.26 629.50,889.27 630.00,889.07 630.50,889.07 631.00,890.17 631.50,890.18 632.00,889.95 632.50,890.13 633.00,890.18 633.50,889.84 634.00,889.66 634.50,889.09 635.00,889.97 635.50,889.79 636.00,889.62 636.50,889.18 637.00,889.54 637.50,889.15 638.00,889.19 638.50,889.32 639.00,890.33 639.50,889.48 640.00,889.35 640.50,889.58 641.00,889.45 641.50,889.23 642.00,889.24 642.50,889.43 643.00,890.14 643.50,889.88 644.00,889.47 644.50,890.00 645.00,889.17 645.50,889.14 646.00,889.94 646.50,889.08 647.00,889.32 647.50,889.07 648.00,889.50 648.50,889.38 649.00,889.55 649.50,890.03 650.00,889.25 650.50,889.28 651.00,889.74 651.50,889.51 652.00,890.21 652.50,889.19 653.00,889.59 653.50,889.57 654.00,889.84 654.50,889.09 655.00,889.38 655.50,890.27 656.00,889.26 656.50,889.93 657.00,889.69 657.50,889.24 658.00,889.09 658.50,890.17 659.00,889.24 659.50,890.15 660.00,889.44 660.50,890.07 661.00,890.22 661.50,889.29 662.00,889.38 662.50,890.28 663.00,889.50 663.50,889.31 664.00,889.51 664.50,890.32 665.00,889.64 665.50,889.46 666.00,890.18 666.50,889.06 667.00,889.17 667.50,889.59 668.00,889.90 668.50,889.69 669.00,890.17 669.50,889.52 670.00,889.63 670.50,889.79 671.00,889.08 671.50,890.19 672.00,890.15 672.50,889.78 673.00,890.09 673.50,889.03 674.00,889.83 674.50,889.00 675.00,889.74 675.50,888.97 676.00,889.85 676.50,889.76 677.00,889.88 677.50,890.02 678.00,890.16 678.50,889.38 679.00,889.49 679.50,889.67 680.00,890.26 680.50,889.50 681.00,889.51 681.50,889.01 682.00,889.52 682.50,889.85 683.00,890.12 683.50,889.20 684.00,889.12 684.50,890.00 685.00,889.47 685.50,889.10 686.00,889.68 686.50,889.39 687.00,888.84 687.50,889.07 688.00,890.00 688.50,890.03 689.00,889.68 689.50,888.89 690.00,889.61 690.50,889.88 691.00,888.74 691.50,888.96 692.00,889.06 692.50,888.71 693.00,889.14 693.50,889.50 694.00,889.10 694.50,889.22 694.75,889.08 695.00,889.01 695.25,889.32 695.50,888.87 695.75,888.96 696.00,888.34 696.25,888.45 696.50,889.30 696.75,889.07 697.00,888.00 697.25,888.05 697.50,887.70 697.75,887.85 698.00,888.56 698.25,888.46 698.50,887.84 698.75,887.92 699.00,887.89 699.25,888.14 699.50,886.68 699.75,887.58 700.00,887.24 700.25,886.75 700.50,886.51 700.75,886.20 701.00,885.95 701.25,885.35 701.50,884.20 701.75,884.28 702.00,883.68 702.25,882.25 702.50,882.44 702.75,881.08 703.00,879.06 703.25,877.13 703.50,877.03 703.75,874.75 704.00,872.13 704.25,870.73 704.50,869.71 704.75,866.66 705.00,863.93 705.25,860.83 705.50,857.29 705.75,855.84 706.00,853.25 706.25,851.33 706.50,848.35 706.75,845.80 707.00,843.90 707.25,843.27 707.50,842.39 707.75,841.44 708.00,841.49 708.25,841.15 708.50,843.62 708.75,845.05 709.00,847.00 709.25,849.51 709.50,851.10 709.75,855.00 710.00,856.82 710.25,859.22 710.50,863.39 710.75,865.57 711.00,868.18 711.25,869.90 711.50,873.46 711.75,875.62 712.00,877.52 712.25,879.21 712.50,880.18 712.75,880.45 713.00,883.00 713.25,883.58 713.50,884.95 713.75,885.81 714.00,885.83 714.25,887.38 714.50,887.65 714.75,888.29 715.00,887.51 715.25,888.10 715.50,888.78 715.75,888.46 716.00,888.40 716.25,889.67 716.50,889.61 716.75,889.87 717.00,889.69 717.25,889.97 717.50,889.26 717.75,890.04 718.00,889.06 718.25,889.14 718.50,889.79 718.75,890.01 719.00,889.11 719.25,889.84 719.50,889.61 719.75,890.12 720.00,889.21 720.25,890.21 720.50,889.07 720.75,890.22 721.00,889.34 721.25,890.19 721.50,889.47 722.00,890.02 722.50,889.39 723.00,889.87 723.50,889.88 724.00,889.09 724.50,889.53 725.00,890.06 725.50,890.15 726.00,889.27 726.50,890.12 727.00,890.01 727.50,889.27 728.00,890.12 728.50,890.07 729.00,890.07 729.50,889.84 730.00,889.55 730.50,889.90 731.00,890.33 731.50,889.21 732.00,889.90 732.50,889.47 733.00,889.84 733.50,889.89 734.00,890.10 734.50,889.56 735.00,890.01 735.50,889.53 736.00,889.36 736.50,890.36 737.00,890.04 737.50,889.55 738.00,889.20 738.50,889.54 739.00,890.36 739.50,890.13 740.00,889.90 740.50,889.31 741.00,889.51 741.50,890.27 742.00,890.29 742.50,889.52 743.00,889.70 743.50,889.56 744.00,889.33 744.50,890.09 745.00,889.78 745.50,889.05 746.00,890.27 746.50,889.29 747.00,889.36 747.50,889.43 748.00,889.41 748.50,889.10 749.00,889.83 749.50,889.07 750.00,889.03 750.50,889.82 751.00,890.33 751.50,889.35 752.00,890.22 752.50,889.74 753.00,889.04 753.50,890.05 754.00,889.29 754.50,889.47 755.00,889.85 755.50,889.19 756.00,889.58 756.50,889.00 757.00,889.44 757.50,889.02 758.00,889.17 758.50,889.21 759.00,890.19 759.50,889.53 760.00,890.11 760.50,889.01 761.00,889.14 761.50,890.09 762.00,889.95 762.50,889.06 763.00,889.26 763.50,890.00 764.00,889.49 764.50,889.82 765.00,890.08 765.50,889.67 766.00,890.26 766.50,890.21 767.00,889.01 767.50,890.36 768.00,889.35 768.50,890.04 769.00,890.34 769.50,889.87 770.00,889.50 770.50,889.08 771.00,889.11 771.50,889.29 772.00,890.18 772.50,889.31 773.00,889.49 773.50,889.09 774.00,889.85 774.50,889.92 775.00,889.78 775.50,889.72 776.00,890.03 776.50,889.72 777.00,890.34 777.50,889.55 778.00,889.07 778.50,889.99 779.00,890.04 779.50,889.83 780.00,889.14 780.50,889.54 781.00,889.15 781.50,889.41 782.00,890.13 782.50,889.16 783.00,889.92 783.50,890.22 784.00,889.66 784.50,889.69 785.00,890.16 785.50,890.03 786.00,889.03 786.50,890.15 787.00,889.14 787.50,890.17 788.00,889.19 788.50,890.39 789.00,889.04 789.50,889.67 790.00,890.13 790.50,890.38 791.00,889.23 791.50,890.01 792.00,889.85 792.50,889.95 793.00,890.40 793.50,890.35 794.00,889.32 794.50,889.37 795.00,889.01 795.50,889.82 796.00,889.01 796.50,889.79 797.00,890.31 797.50,889.07 798.00,889.80 798.50,889.76 799.00,890.05 799.50,890.38 800.00,889.53 800.50,890.32 801.00,889.48 801.50,889.93 802.00,889.94 802.50,890.38 803.00,889.95 803.50,889.50 804.00,890.35 804.50,890.04 805.00,889.28 805.50,889.38 806.00,889.13 806.50,890.03 807.00,889.62 807.50,890.32 808.00,889.08 808.50,889.72 809.00,889.18 809.50,890.03 810.00,890.33 810.50,890.15 811.00,889.56 811.50,889.16 812.00,889.99 812.50,889.17 813.00,890.09 813.50,890.27 814.00,889.57 814.50,890.38 815.00,889.84 815.50,889.26 816.00,889.79 816.50,890.34 817.00,889.42 817.50,889.47 818.00,889.37 818.50,889.29 819.00,890.09 819.50,889.39 820.00,890.08 820.50,889.42 821.00,889.00 821.50,889.60 822.00,889.19 822.50,889.92 823.00,889.43 823.50,890.03 824.00,889.83 824.50,890.16 825.00,889.03 825.50,889.69 826.00,890.12 826.50,889.45 827.00,889.21 827.50,889.46 828.00,889.59 828.50,889.37 829.00,889.84 829.50,889.36 830.00,889.91 830.50,889.31 831.00,890.24 831.50,889.90 832.00,890.09 832.50,889.38 833.00,890.27 833.50,889.68 834.00,890.32 834.50,889.44 835.00,889.92 835.50,890.40 836.00,889.65 836.50,889.68 837.00,889.05 837.50,889.26 838.00,890.36 838.50,889.65 839.00,889.70 839.50,889.93 840.00,890.28 840.50,889.46 841.00,889.93 841.50,889.73 842.00,889.71 842.50,890.18 843.00,890.35 843.50,889.50 844.00,889.84 844.50,890.34 845.00,890.38 845.50,889.53 846.00,890.34 846.50,889.20 847.00,890.29 847.50,889.71 848.00,889.51 848.50,889.33 849.00,889.10 849.50,889.19 850.00,889.95 850.50,890.36 851.00,890.32 851.50,890.26 852.00,890.27 852.50,889.73 853.00,889.65 853.50,889.98 854.00,889.08 854.50,890.06 855.00,889.33 855.50,890.02 856.00,890.15 856.50,890.06 857.00,890.04" fill="none" stroke="#0000ff" stroke-width="1" stroke-linejoin="round"/>
<rect x="602.25" y="804.25" width="255.6" height="86.8" fill="none" stroke="#808080" stroke-width="1.8"/>
<rect x="765.75" y="812.6" width="13.5" height="10.6" fill="#fff" stroke="#ccc" stroke-width="1"/>
<rect x="767" y="813.9" width="11" height="8" fill="#0000ff"/>
<text x="783.6" y="821.8" font-family="Liberation Serif" font-size="12" fill="#888" textLength="67" lengthAdjust="spacingAndGlyphs">aida07 1.8.L</text>
<path d="M857.1 795.0 L866.9 804.8 L857.1 814.5999999999999 L847.3000000000001 804.8 Z" fill="#ff0000"/>
<rect x="1118.20" y="804.4" width="1" height="86.6" fill="#ebebeb"/>
<text x="1118.70" y="904.6" text-anchor="middle" font-family="Liberation Serif" font-size="12.2" fill="#545454" textLength="33" lengthAdjust="spacingAndGlyphs">21000</text>
<rect x="1158.58" y="804.4" width="1" height="86.6" fill="#ebebeb"/>
<text x="1159.08" y="904.6" text-anchor="middle" font-family="Liberation Serif" font-size="12.2" fill="#545454" textLength="33" lengthAdjust="spacingAndGlyphs">21500</text>
<rect x="1198.96" y="804.4" width="1" height="86.6" fill="#ebebeb"/>
<text x="1199.46" y="904.6" text-anchor="middle" font-family="Liberation Serif" font-size="12.2" fill="#545454" textLength="33" lengthAdjust="spacingAndGlyphs">22000</text>
<rect x="1239.34" y="804.4" width="1" height="86.6" fill="#ebebeb"/>
<text x="1239.84" y="904.6" text-anchor="middle" font-family="Liberation Serif" font-size="12.2" fill="#545454" textLength="33" lengthAdjust="spacingAndGlyphs">22500</text>
<rect x="1279.72" y="804.4" width="1" height="86.6" fill="#ebebeb"/>
<text x="1280.22" y="904.6" text-anchor="middle" font-family="Liberation Serif" font-size="12.2" fill="#545454" textLength="33" lengthAdjust="spacingAndGlyphs">23000</text>
<rect x="1320.10" y="804.4" width="1" height="86.6" fill="#ebebeb"/>
<text x="1320.60" y="904.6" text-anchor="middle" font-family="Liberation Serif" font-size="12.2" fill="#545454" textLength="33" lengthAdjust="spacingAndGlyphs">23500</text>
<text x="1074.2" y="895.4" text-anchor="end" font-family="Liberation Serif" font-size="12.2" fill="#545454" textLength="6.6" lengthAdjust="spacingAndGlyphs">0</text>
<rect x="1079" y="861.60" width="254" height="1" fill="#ebebeb"/>
<text x="1074.2" y="866.5" text-anchor="end" font-family="Liberation Serif" font-size="12.2" fill="#545454" textLength="19.8" lengthAdjust="spacingAndGlyphs">500</text>
<rect x="1079" y="832.70" width="254" height="1" fill="#ebebeb"/>
<text x="1074.2" y="837.6" text-anchor="end" font-family="Liberation Serif" font-size="12.2" fill="#545454" textLength="26.4" lengthAdjust="spacingAndGlyphs">1000</text>
<text x="1074.2" y="808.7" text-anchor="end" font-family="Liberation Serif" font-size="12.2" fill="#545454" textLength="26.4" lengthAdjust="spacingAndGlyphs">1500</text>
<polyline points="1079.00,890.33 1079.50,889.83 1080.00,890.31 1080.50,889.74 1081.00,889.30 1081.50,890.08 1082.00,890.32 1082.50,889.39 1083.00,890.28 1083.50,889.42 1084.00,889.09 1084.50,890.27 1085.00,890.10 1085.50,889.23 1086.00,890.12 1086.50,889.53 1087.00,889.06 1087.50,890.24 1088.00,890.31 1088.50,890.01 1089.00,890.20 1089.50,889.07 1090.00,889.62 1090.50,890.10 1091.00,889.41 1091.50,889.64 1092.00,889.95 1092.50,888.97 1093.00,889.23 1093.50,889.22 1094.00,889.35 1094.50,889.35 1095.00,889.17 1095.50,890.33 1096.00,889.47 1096.50,889.41 1097.00,890.00 1097.50,889.97 1098.00,889.11 1098.50,890.29 1099.00,889.67 1099.50,889.62 1100.00,890.03 1100.50,889.23 1101.00,890.11 1101.50,889.61 1102.00,890.09 1102.50,889.16 1103.00,889.08 1103.50,889.60 1104.00,889.89 1104.50,890.30 1105.00,889.17 1105.50,889.68 1106.00,888.96 1106.50,889.74 1107.00,889.89 1107.50,889.97 1108.00,889.53 1108.50,889.75 1109.00,889.49 1109.50,889.57 1110.00,889.49 1110.50,890.12 1111.00,890.18 1111.50,890.23 1112.00,889.42 1112.50,890.12 1113.00,889.80 1113.50,890.03 1114.00,889.35 1114.50,889.56 1115.00,888.98 1115.50,889.07 1116.00,890.26 1116.50,889.46 1117.00,889.08 1117.50,889.60 1118.00,888.97 1118.50,889.89 1119.00,889.93 1119.50,890.11 1120.00,889.40 1120.50,889.69 1121.00,888.98 1121.50,889.28 1122.00,889.99 1122.50,889.48 1123.00,890.20 1123.50,889.46 1124.00,889.46 1124.50,889.42 1125.00,889.49 1125.50,889.21 1126.00,889.78 1126.50,889.89 1127.00,889.97 1127.50,889.70 1128.00,889.93 1128.50,889.73 1129.00,889.52 1129.50,890.17 1130.00,889.72 1130.50,889.22 1131.00,889.64 1131.50,889.88 1132.00,889.35 1132.50,889.80 1133.00,889.78 1133.50,889.18 1134.00,890.01 1134.50,890.07 1135.00,889.56 1135.50,889.17 1136.00,889.15 1136.50,889.64 1137.00,889.25 1137.50,890.10 1138.00,889.97 1138.50,889.85 1139.00,889.41 1139.50,888.86 1140.00,889.37 1140.50,889.25 1141.00,889.18 1141.50,888.86 1142.00,888.80 1142.25,889.57 1142.50,889.35 1142.75,888.89 1143.00,888.77 1143.25,889.71 1143.50,890.07 1143.75,889.38 1144.00,888.81 1144.25,889.22 1144.50,888.94 1144.75,889.19 1145.00,889.37 1145.25,890.04 1145.50,889.12 1145.75,889.07 1146.00,889.72 1146.25,889.16 1146.50,889.71 1146.75,889.98 1147.00,889.56 1147.25,889.00 1147.50,889.52 1147.75,889.68 1148.00,889.42 1148.25,889.52 1148.50,889.42 1148.75,889.24 1149.00,889.48 1149.25,889.35 1149.50,889.18 1149.75,889.05 1150.00,889.50 1150.25,889.85 1150.50,889.88 1150.75,889.42 1151.00,889.15 1151.25,888.74 1151.50,889.31 1151.75,889.67 1152.00,889.57 1152.25,889.06 1152.50,889.32 1152.75,889.82 1153.00,889.51 1153.25,889.63 1153.50,889.18 1153.75,889.81 1154.00,889.27 1154.25,889.28 1154.50,888.44 1154.75,889.36 1155.00,889.24 1155.25,889.20 1155.50,889.22 1155.75,889.74 1156.00,889.69 1156.25,888.70 1156.50,888.62 1156.75,888.68 1157.00,889.50 1157.25,888.50 1157.50,888.59 1157.75,888.37 1158.00,888.74 1158.25,889.06 1158.50,888.66 1158.75,888.34 1159.00,888.89 1159.25,889.09 1159.50,888.92 1159.75,889.05 1160.00,889.14 1160.25,888.22 1160.50,888.96 1160.75,888.30 1161.00,888.28 1161.25,888.08 1161.50,888.10 1161.75,888.46 1162.00,887.96 1162.25,888.20 1162.50,888.35 1162.75,888.00 1163.00,888.96 1163.25,888.79 1163.50,888.80 1163.75,888.73 1164.00,888.74 1164.25,887.71 1164.50,888.50 1164.75,887.21 1165.00,887.77 1165.25,887.60 1165.50,887.50 1165.75,887.40 1166.00,887.46 1166.25,887.52 1166.50,887.40 1166.75,887.82 1167.00,887.53 1167.25,887.08 1167.50,886.28 1167.75,887.48 1168.00,887.05 1168.25,886.21 1168.50,886.01 1168.75,886.96 1169.00,886.32 1169.25,886.42 1169.50,886.21 1169.75,885.62 1170.00,885.07 1170.25,885.90 1170.50,884.51 1170.75,884.87 1171.00,885.45 1171.25,884.93 1171.50,884.81 1171.75,884.45 1172.00,884.45 1172.25,883.45 1172.50,883.70 1172.75,883.35 1173.00,883.65 1173.25,883.32 1173.50,881.84 1173.75,882.48 1174.00,882.65 1174.25,881.39 1174.50,881.78 1174.75,881.67 1175.00,881.10 1175.25,881.30 1175.50,880.88 1175.75,879.65 1176.00,880.64 1176.25,879.62 1176.50,879.44 1176.75,879.55 1177.00,879.28 1177.25,877.98 1177.50,878.46 1177.75,878.36 1178.00,878.48 1178.25,877.95 1178.50,877.45 1178.75,877.35 1179.00,876.87 1179.25,875.29 1179.50,875.43 1179.75,876.15 1180.00,874.77 1180.25,875.49 1180.50,874.50 1180.75,874.41 1181.00,874.33 1181.25,873.10 1181.50,873.69 1181.75,873.07 1182.00,873.21 1182.25,873.44 1182.50,873.60 1182.75,873.14 1183.00,873.21 1183.25,872.91 1183.50,872.59 1183.75,873.01 1184.00,873.11 1184.25,873.43 1184.50,873.11 1184.75,872.75 1185.00,873.30 1185.25,873.01 1185.50,873.30 1185.75,873.66 1186.00,873.24 1186.25,873.76 1186.50,874.45 1186.75,873.66 1187.00,873.76 1187.25,874.55 1187.50,874.14 1187.75,875.08 1188.00,875.95 1188.25,874.91 1188.50,875.23 1188.75,876.86 1189.00,876.81 1189.25,877.94 1189.50,877.90 1189.75,877.90 1190.00,877.67 1190.25,879.77 1190.50,878.05 1190.75,879.48 1191.00,879.57 1191.25,880.82 1191.50,880.01 1191.75,881.63 1192.00,881.89 1192.25,881.57 1192.50,881.82 1192.75,881.78 1193.00,883.61 1193.25,883.86 1193.50,884.38 1193.75,883.38 1194.00,884.02 1194.25,884.68 1194.50,884.44 1194.75,885.20 1195.00,885.91 1195.25,885.63 1195.50,885.69 1195.75,885.34 1196.00,886.48 1196.25,886.05 1196.50,885.78 1196.75,886.56 1197.00,887.21 1197.25,887.62 1197.50,886.43 1197.75,886.82 1198.00,886.76 1198.25,887.96 1198.50,887.81 1198.75,888.35 1199.00,887.56 1199.25,887.54 1199.50,888.00 1199.75,888.59 1200.00,888.88 1200.25,888.85 1200.50,889.09 1200.75,888.21 1201.00,888.68 1201.25,888.04 1201.50,889.42 1201.75,888.95 1202.00,889.09 1202.25,888.82 1202.50,889.35 1202.75,889.21 1203.00,889.67 1203.25,889.51 1203.50,888.98 1203.75,888.69 1204.00,888.75 1204.25,889.36 1204.50,889.59 1204.75,889.13 1205.00,889.39 1205.25,890.10 1205.50,889.03 1205.75,889.89 1206.00,889.43 1206.25,889.12 1206.50,889.36 1206.75,889.74 1207.00,889.38 1207.25,889.57 1207.50,889.69 1207.75,889.99 1208.00,890.27 1208.25,889.67 1208.50,889.05 1208.75,889.92 1209.00,890.03 1209.25,889.18 1209.50,889.34 1209.75,888.98 1210.00,890.25 1210.25,889.93 1210.50,889.45 1210.75,890.25 1211.00,889.16 1211.25,890.19 1211.50,890.17 1211.75,889.96 1212.00,889.85 1212.25,889.49 1212.50,888.98 1212.75,889.71 1213.00,889.84 1213.25,889.68 1213.50,889.98 1213.75,889.87 1214.00,890.29 1214.25,889.95 1214.50,889.90 1214.75,889.85 1215.00,889.48 1215.25,890.08 1215.50,890.04 1215.75,890.00 1216.00,889.70 1216.25,889.38 1216.50,889.62 1216.75,890.15 1217.00,889.18 1217.25,890.29 1217.50,890.05 1217.75,889.30 1218.00,889.24 1218.25,889.23 1218.50,889.82 1218.75,889.50 1219.00,890.39 1219.25,889.03 1219.50,889.36 1219.75,889.07 1220.00,889.12 1220.25,889.74 1220.50,889.25 1220.75,889.88 1221.00,889.04 1221.25,890.14 1221.50,889.27 1221.75,890.17 1222.00,890.21 1222.25,889.87 1222.50,889.14 1222.75,889.54 1223.00,890.32 1223.25,889.39 1223.50,889.89 1223.75,889.53 1224.00,890.20 1224.25,889.78 1224.50,890.21 1224.75,889.72 1225.00,890.13 1225.25,889.30 1225.50,889.53 1225.75,890.15 1226.00,889.26 1226.25,889.65 1226.50,890.34 1226.75,889.11 1227.25,889.13 1227.75,890.03 1228.25,889.21 1228.75,889.59 1229.25,890.22 1229.75,889.66 1230.25,890.09 1230.75,890.15 1231.25,889.48 1231.75,890.17 1232.25,890.40 1232.75,889.38 1233.25,889.24 1233.75,889.04 1234.25,889.51 1234.75,889.69 1235.25,889.64 1235.75,889.37 1236.25,889.11 1236.75,890.32 1237.25,889.98 1237.75,889.22 1238.25,889.39 1238.75,889.65 1239.25,889.61 1239.75,890.14 1240.25,890.17 1240.75,889.58 1241.25,889.12 1241.75,890.35 1242.25,890.15 1242.75,889.30 1243.25,889.96 1243.75,889.21 1244.25,889.47 1244.75,889.34 1245.25,889.72 1245.75,890.05 1246.25,889.34 1246.75,890.24 1247.25,889.51 1247.75,889.68 1248.25,889.14 1248.75,890.10 1249.25,889.51 1249.75,889.85 1250.25,889.88 1250.75,889.52 1251.25,890.15 1251.75,889.63 1252.25,890.15 1252.75,889.92 1253.25,890.28 1253.75,890.18 1254.25,889.66 1254.75,889.57 1255.25,890.07 1255.75,889.21 1256.25,889.15 1256.75,889.16 1257.25,890.09 1257.75,889.39 1258.25,889.99 1258.75,889.87 1259.25,889.79 1259.75,889.21 1260.25,889.99 1260.75,889.92 1261.25,889.54 1261.75,890.14 1262.25,889.99 1262.75,890.13 1263.25,889.56 1263.75,890.24 1264.25,890.10 1264.75,889.68 1265.25,890.21 1265.75,890.26 1266.25,890.03 1266.75,889.59 1267.25,889.04 1267.75,889.12 1268.25,890.04 1268.75,889.69 1269.25,889.63 1269.75,889.66 1270.25,889.18 1270.75,889.05 1271.25,889.77 1271.75,890.20 1272.25,889.22 1272.75,889.86 1273.25,890.14 1273.75,890.25 1274.25,889.49 1274.75,889.55 1275.25,890.37 1275.75,889.35 1276.25,889.31 1276.75,890.02 1277.25,890.06 1277.75,890.01 1278.25,889.03 1278.75,889.20 1279.25,889.97 1279.75,889.33 1280.25,890.29 1280.75,889.72 1281.25,889.84 1281.75,890.05 1282.25,890.15 1282.75,889.05 1283.25,890.19 1283.75,889.90 1284.25,890.23 1284.75,889.25 1285.25,890.22 1285.75,890.02 1286.25,890.07 1286.75,890.17 1287.25,890.26 1287.75,889.09 1288.25,889.52 1288.75,889.08 1289.25,889.17 1289.75,889.59 1290.25,889.38 1290.75,890.30 1291.25,890.33 1291.75,889.35 1292.25,889.35 1292.75,889.02 1293.25,889.32 1293.75,890.30 1294.25,889.66 1294.75,889.80 1295.25,889.05 1295.75,890.28 1296.25,889.43 1296.75,889.79 1297.25,890.01 1297.75,890.38 1298.25,890.04 1298.75,889.70 1299.25,889.81 1299.75,890.19 1300.25,889.37 1300.75,889.90 1301.25,889.80 1301.75,890.13 1302.25,889.93 1302.75,889.85 1303.25,890.12 1303.75,889.91 1304.25,889.59 1304.75,889.74 1305.25,889.98 1305.75,889.11 1306.25,890.33 1306.75,889.48 1307.25,889.31 1307.75,889.09 1308.25,889.16 1308.75,890.11 1309.25,890.29 1309.75,889.92 1310.25,890.22 1310.75,889.52 1311.25,889.52 1311.75,890.15 1312.25,889.92 1312.75,889.61 1313.25,889.45 1313.75,889.77 1314.25,889.71 1314.75,889.36 1315.25,889.04 1315.75,890.19 1316.25,889.08 1316.75,890.40 1317.25,889.17 1317.75,889.68 1318.25,890.36 1318.75,890.28 1319.25,890.13 1319.75,889.99 1320.25,889.05 1320.75,890.13 1321.25,889.75 1321.75,890.14 1322.25,890.17 1322.75,890.14 1323.25,890.04 1323.75,889.98 1324.25,889.43 1324.75,889.62 1325.25,889.63 1325.75,890.11 1326.25,889.95 1326.75,890.33 1327.25,889.01 1327.75,890.09 1328.25,890.35 1328.75,889.65 1329.25,889.89 1329.75,890.16 1330.25,889.77 1330.75,890.13 1331.25,889.24 1331.75,890.21 1332.25,890.33 1332.75,889.41" fill="none" stroke="#0000ff" stroke-width="1" stroke-linejoin="round"/>
<rect x="1078.25" y="804.25" width="255.6" height="86.8" fill="none" stroke="#808080" stroke-width="1.8"/>
<rect x="1241.75" y="812.6" width="13.5" height="10.6" fill="#fff" stroke="#ccc" stroke-width="1"/>
<rect x="1243" y="813.9" width="11" height="8" fill="#0000ff"/>
<text x="1259.6" y="821.8" font-family="Liberation Serif" font-size="12" fill="#888" textLength="67" lengthAdjust="spacingAndGlyphs">aida16 1.8.L</text>
<path d="M1333.1 795.0 L1342.8999999999999 804.8 L1333.1 814.5999999999999 L1323.3 804.8 Z" fill="#ff0000"/>
</svg>
<div class="btn" style="left:6px;top:924px;width:100px;height:19px;line-height:17px;font-size:10.8px"><span style="display:inline-block;transform:scaleX(0.96)">Empty Log Window</span></div>
<div class="btn" style="left:110px;top:924px;width:132px;height:19px;line-height:17px;font-size:10.8px"><span style="display:inline-block;transform:scaleX(0.96)">Send Log Window to ELog</span></div>
<div class="btn" style="left:246px;top:924px;width:40px;height:19px;line-height:17px;font-size:10.8px"><span style="display:inline-block;transform:scaleX(0.96)">Reload</span></div>
<div class="btn" style="left:290px;top:924px;width:35px;height:19px;line-height:17px;font-size:10.8px"><span style="display:inline-block;transform:scaleX(0.96)">Reset</span></div>
<div class="btn" style="left:329px;top:924px;width:80px;height:19px;line-height:17px;font-size:10.8px"><span style="display:inline-block;transform:scaleX(0.96)">Show Variables</span></div>
<div class="btn" style="left:413px;top:924px;width:96px;height:19px;line-height:17px;font-size:10.8px"><span style="display:inline-block;transform:scaleX(0.96)">Show Log Window</span></div>
<div class="btn" style="left:513px;top:924px;width:79px;height:19px;line-height:17px;font-size:10.8px"><span style="display:inline-block;transform:scaleX(0.96)">Enable Logging</span></div>
<div class="btn" style="left:1806px;top:924px;width:108px;height:19px;line-height:17px;font-size:10.8px"><span style="display:inline-block;transform:scaleX(0.96)">How to use this page</span></div>
<div class="a" style="left:1666.30px;top:956.00px;font-family:'Liberation Serif',serif;font-size:15.0px;line-height:15.0px;color:#ff0000;transform:scaleX(1.0780);transform-origin:0 0;">Last Updated: June 13, 2024 12:52:16</div>
<div class="hr" style="top:984px"></div>
<div class="a" style="left:8px;top:994px;width:2px;height:2px;background:#333"></div>
<div class="a" style="left:8.10px;top:998.00px;font-family:'Liberation Serif',serif;font-size:15.0px;line-height:15.0px;color:#0000ee;transform:scaleX(1.0584);transform-origin:0 0;text-decoration:underline;">Home</div>
</div></body></html>
